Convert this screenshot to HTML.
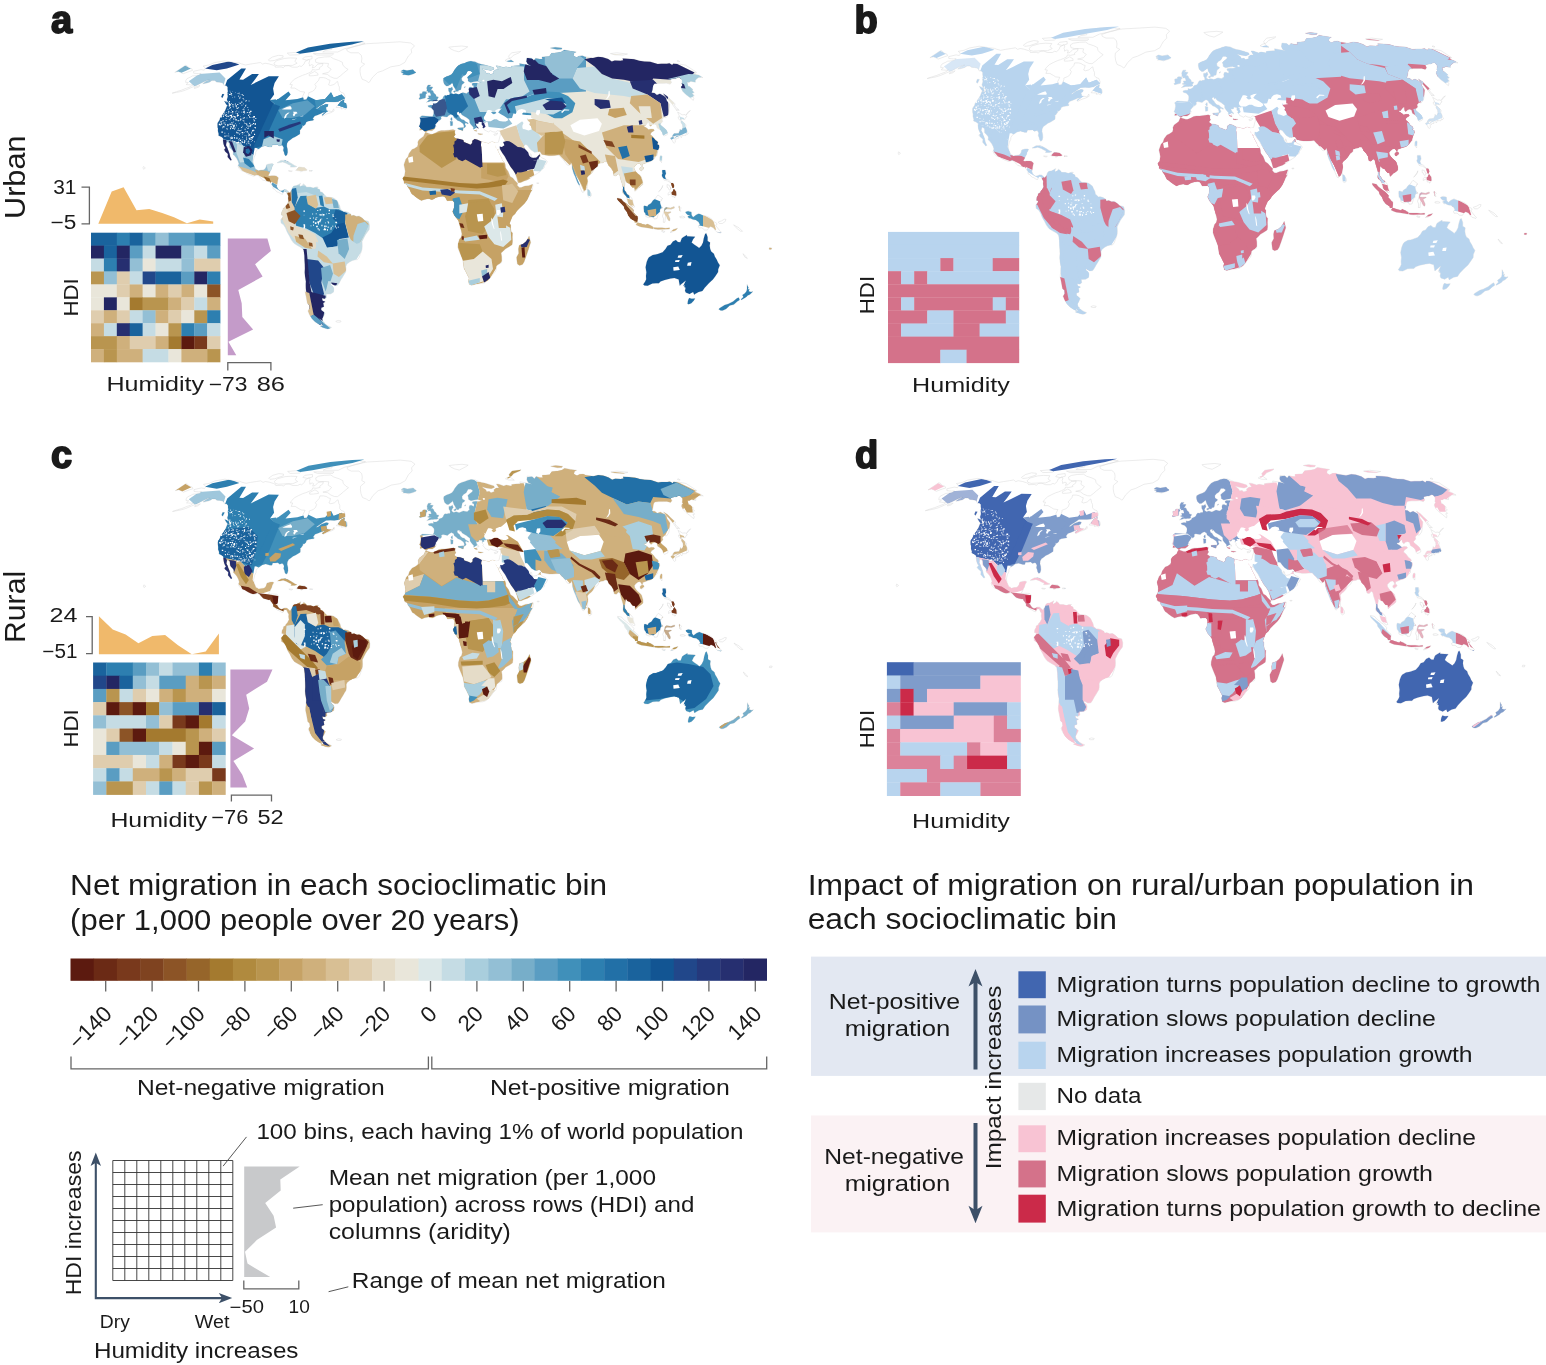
<!DOCTYPE html><html><head><meta charset="utf-8"><title>Figure</title><style>html,body{margin:0;padding:0;background:#fff}svg{display:block}</style></head><body>
<svg width="1546" height="1365" viewBox="0 0 1546 1365">
<defs><path id="lp" d="M-242.1 -138.8L-234.7 -140.5L-231.5 -139.9L-230.5 -141.4L-230.9 -142.7L-232.6 -144.0L-226.8 -145.1L-221.2 -147.5L-215.9 -148.4L-211.3 -149.2L-206.4 -148.4L-201.9 -147.6L-196.5 -147.1L-194.2 -146.2L-190.1 -145.1L-185.5 -146.0L-179.6 -146.9L-175.3 -147.6L-173.1 -146.0L-170.7 -146.9L-166.7 -146.2L-162.5 -144.9L-160.3 -143.6L-160.3 -142.9L-154.5 -143.1L-152.4 -142.3L-150.7 -144.2L-147.0 -144.4L-143.4 -142.9L-138.5 -142.9L-136.0 -144.2L-134.4 -143.6L-131.7 -146.0L-130.7 -148.7L-127.1 -150.5L-125.9 -149.6L-126.8 -146.9L-126.3 -145.8L-126.3 -144.2L-123.9 -145.5L-122.4 -144.7L-123.5 -142.3L-120.9 -142.9L-117.9 -146.0L-112.7 -146.6L-113.3 -144.4L-116.4 -142.3L-115.9 -141.0L-120.1 -140.1L-123.4 -140.5L-124.0 -138.6L-127.4 -136.9L-130.3 -135.7L-133.2 -134.8L-137.6 -132.8L-141.2 -130.9L-144.4 -127.9L-145.9 -125.6L-143.4 -125.4L-144.9 -122.0L-140.9 -122.0L-137.4 -119.9L-135.1 -118.5L-131.0 -118.1L-133.1 -113.8L-132.2 -111.7L-132.0 -110.3L-129.4 -110.7L-128.1 -112.8L-126.9 -115.9L-127.0 -117.3L-122.9 -118.9L-120.6 -120.9L-119.5 -124.0L-120.9 -125.6L-118.8 -127.9L-117.0 -129.9L-116.2 -132.5L-112.5 -132.5L-109.8 -131.9L-107.6 -130.5L-105.6 -129.9L-106.4 -127.0L-107.2 -125.4L-105.3 -124.6L-101.7 -125.6L-98.8 -128.3L-98.0 -128.5L-97.3 -125.0L-96.3 -123.0L-96.4 -119.9L-94.8 -117.9L-92.0 -116.9L-90.7 -113.8L-90.9 -111.7L-93.4 -110.7L-97.3 -108.6L-101.7 -108.0L-105.7 -108.2L-110.0 -108.0L-113.2 -105.9L-117.6 -103.0L-120.0 -101.1L-118.2 -101.3L-114.7 -104.2L-109.9 -105.9L-107.5 -105.5L-108.3 -103.4L-110.1 -102.7L-109.5 -101.3L-109.5 -99.6L-107.9 -99.2L-105.4 -98.9L-103.9 -98.3L-102.0 -101.3L-101.6 -99.2L-104.7 -97.5L-108.8 -96.2L-112.9 -94.1L-113.9 -94.9L-112.7 -96.4L-110.1 -97.7L-112.7 -97.5L-115.1 -96.4L-118.7 -94.9L-121.0 -94.1L-122.5 -92.1L-123.0 -91.1L-121.7 -90.7L-122.0 -90.0L-123.0 -89.6L-124.8 -89.4L-127.6 -88.9L-129.6 -87.9L-130.2 -85.9L-132.2 -84.2L-133.2 -84.9L-133.2 -83.1L-135.2 -80.3L-136.1 -79.9L-135.7 -79.5L-135.8 -76.2L-137.8 -74.9L-140.7 -73.2L-143.0 -72.1L-145.2 -70.4L-147.4 -68.9L-148.7 -66.5L-148.9 -63.9L-148.2 -61.1L-148.0 -57.9L-148.7 -55.1L-150.1 -54.2L-151.3 -55.9L-151.6 -57.7L-152.5 -59.8L-152.0 -62.4L-153.2 -64.6L-154.4 -64.8L-156.4 -64.1L-158.2 -65.7L-161.0 -65.4L-163.4 -65.4L-164.1 -63.1L-166.2 -63.1L-167.8 -63.7L-170.4 -64.4L-173.8 -63.5L-175.6 -62.2L-178.8 -60.0L-180.0 -57.9L-180.1 -55.9L-181.6 -52.9L-182.5 -48.6L-182.0 -45.4L-180.9 -42.8L-180.2 -41.0L-178.4 -40.2L-177.4 -39.3L-174.7 -40.0L-172.4 -40.2L-170.8 -41.0L-169.6 -43.2L-169.1 -45.4L-166.4 -46.2L-163.5 -46.4L-162.3 -45.8L-163.8 -43.2L-164.5 -40.6L-165.5 -38.9L-166.3 -36.7L-167.5 -34.6L-166.0 -34.1L-164.1 -34.3L-161.3 -34.3L-159.4 -34.1L-157.3 -32.4L-158.0 -29.2L-158.5 -25.9L-159.0 -23.8L-158.2 -22.0L-156.8 -20.1L-154.9 -19.2L-153.0 -19.7L-151.2 -20.5L-149.2 -20.3L-147.2 -18.6L-148.2 -15.6L-149.1 -17.3L-149.3 -18.1L-151.1 -19.2L-152.5 -17.7L-153.2 -15.8L-155.1 -16.4L-156.9 -17.7L-158.4 -18.1L-159.1 -18.4L-160.9 -20.7L-162.8 -21.6L-162.8 -23.8L-164.3 -25.9L-165.9 -27.9L-165.4 -28.7L-167.5 -28.5L-169.9 -29.2L-172.9 -30.0L-174.4 -31.3L-176.9 -34.3L-178.8 -35.0L-182.1 -33.9L-185.7 -35.2L-188.2 -36.3L-191.5 -38.4L-194.5 -39.5L-196.9 -42.1L-197.7 -44.1L-196.8 -46.4L-197.7 -49.2L-199.1 -51.8L-201.3 -54.6L-202.7 -55.7L-202.3 -58.3L-203.8 -60.3L-206.1 -62.6L-206.3 -67.0L-208.9 -68.5L-209.4 -67.0L-209.7 -64.8L-208.5 -62.6L-207.8 -60.5L-206.9 -58.3L-206.1 -56.2L-205.6 -53.6L-205.1 -52.3L-204.0 -50.1L-205.1 -49.5L-206.4 -51.2L-208.1 -53.1L-207.8 -56.2L-209.8 -57.9L-212.0 -60.0L-210.2 -62.0L-211.3 -63.7L-212.1 -65.9L-212.5 -68.5L-212.7 -70.2L-212.5 -71.7L-214.0 -73.0L-215.2 -73.7L-217.2 -74.5L-217.0 -76.2L-217.8 -79.0L-217.7 -81.6L-218.1 -82.7L-218.2 -85.3L-218.1 -87.2L-216.1 -90.2L-215.6 -92.4L-213.5 -94.9L-210.5 -99.6L-208.7 -104.2L-206.2 -103.8L-206.3 -102.3L-204.7 -105.5L-205.2 -106.1L-206.6 -107.6L-208.3 -109.2L-208.8 -110.7L-208.1 -112.8L-208.0 -114.8L-208.4 -116.9L-207.8 -118.9L-208.1 -120.9L-208.1 -123.0L-209.7 -124.6L-211.5 -124.4L-212.2 -126.0L-213.5 -127.4L-216.4 -127.9L-219.2 -128.1L-220.8 -129.5L-223.8 -129.5L-226.3 -127.9L-229.8 -126.8L-233.0 -126.4L-229.7 -128.9L-225.9 -130.3L-228.6 -129.9L-231.9 -128.3L-235.4 -126.6L-238.4 -125.0L-244.6 -122.4L-250.4 -119.9L-255.0 -118.5L-259.1 -117.7L-263.6 -116.9L-259.0 -118.5L-254.3 -119.9L-249.0 -122.0L-245.6 -123.2L-242.4 -125.4L-245.0 -125.2L-247.5 -125.4L-249.6 -125.6L-247.3 -127.6L-250.1 -127.8L-249.8 -129.9L-248.6 -131.5L-244.9 -133.2L-243.3 -134.2L-240.4 -134.4L-236.8 -135.0L-234.6 -136.7L-237.4 -136.5L-239.7 -136.7L-242.0 -136.9ZM-89.1 -160.9L-79.9 -164.3L-68.8 -166.4L-50.9 -167.4L-35.8 -168.3L-25.0 -167.1L-21.2 -164.3L-24.5 -160.6L-24.0 -157.3L-27.4 -154.0L-29.4 -150.5L-30.7 -147.8L-36.2 -144.7L-44.9 -143.3L-53.2 -139.2L-58.0 -137.7L-63.2 -132.8L-66.3 -127.9L-67.2 -127.6L-69.6 -129.3L-73.6 -130.9L-75.1 -134.8L-75.7 -138.6L-75.5 -142.3L-71.0 -146.0L-74.3 -147.8L-73.8 -151.4L-74.4 -154.8L-77.2 -157.3L-84.8 -157.3L-88.4 -159.0ZM-147.2 -18.6L-146.1 -17.3L-144.0 -20.3L-143.3 -22.7L-141.9 -24.0L-139.4 -24.4L-136.9 -25.7L-135.1 -26.8L-135.9 -25.3L-135.9 -23.3L-134.7 -23.8L-133.1 -24.8L-132.3 -26.3L-129.9 -24.2L-129.4 -22.9L-125.3 -22.9L-122.5 -22.0L-119.6 -23.1L-117.5 -23.1L-118.7 -21.6L-115.9 -20.5L-115.6 -18.4L-113.2 -17.7L-111.0 -14.9L-108.9 -13.0L-105.1 -12.7L-102.8 -12.3L-100.0 -10.8L-98.5 -9.3L-97.2 -6.5L-95.9 -3.9L-95.4 -1.1L-94.4 -0.4L-92.5 1.5L-90.6 1.3L-87.8 2.2L-84.9 3.9L-84.5 5.6L-82.0 5.2L-79.1 6.3L-76.3 6.0L-73.4 8.0L-70.9 10.4L-67.2 11.2L-66.2 15.3L-66.5 19.4L-68.9 22.7L-70.4 24.8L-72.0 27.9L-73.7 31.3L-73.5 35.6L-73.7 38.9L-74.6 42.3L-75.5 44.3L-76.6 47.5L-78.3 49.5L-80.5 49.7L-83.3 50.3L-86.1 51.8L-88.9 54.0L-89.8 56.2L-89.7 59.4L-90.1 62.0L-91.6 64.4L-93.1 67.0L-94.7 69.5L-96.5 72.8L-98.1 75.2L-101.1 75.4L-104.7 73.4L-105.2 74.7L-102.7 76.7L-101.9 78.6L-102.3 82.1L-105.2 83.8L-109.6 84.0L-109.1 87.4L-111.0 88.7L-113.8 88.1L-113.1 90.6L-110.3 91.7L-112.5 92.8L-111.8 96.6L-114.4 97.7L-114.5 99.8L-110.6 103.0L-112.2 106.5L-113.5 108.6L-112.9 110.9L-111.3 112.6L-113.0 112.8L-115.0 113.4L-114.2 115.4L-117.4 113.8L-120.7 111.7L-123.7 108.6L-126.3 104.4L-127.7 100.8L-126.1 98.1L-126.4 94.9L-128.3 93.4L-128.9 90.2L-129.6 86.4L-130.5 82.1L-130.5 79.9L-130.1 76.7L-129.8 71.3L-130.7 65.9L-131.0 62.6L-130.8 58.3L-130.9 54.0L-131.1 50.8L-131.3 45.4L-132.1 39.7L-134.6 37.4L-138.6 35.2L-142.0 33.0L-144.3 30.0L-146.1 26.1L-148.5 22.0L-150.2 17.7L-152.1 14.7L-154.6 13.0L-154.9 9.7L-153.1 7.3L-152.4 5.4L-154.3 5.0L-154.1 2.2L-152.8 0.0L-152.6 -1.7L-150.5 -2.8L-150.3 -3.9L-148.7 -5.6L-147.7 -7.6L-147.1 -8.6L-147.6 -11.9L-147.3 -14.0L-148.2 -15.6ZM-111.4 113.0L-114.3 113.4L-112.9 114.8L-113.2 115.9L-115.4 116.5L-111.5 117.9L-107.9 118.9L-105.8 118.3L-104.1 117.3L-106.6 116.3L-109.3 114.8L-110.5 113.6ZM-100.0 111.3L-97.6 110.3L-94.6 110.9L-95.3 112.1L-98.6 112.1ZM-10.6 -77.3L-9.5 -77.5L-5.4 -76.2L-3.6 -75.8L0.0 -77.3L2.7 -78.8L5.4 -79.5L8.9 -79.5L12.5 -79.9L16.0 -80.3L17.5 -80.6L18.4 -80.1L19.6 -79.9L19.0 -78.6L19.0 -77.1L19.8 -75.6L18.4 -73.9L18.2 -73.2L19.9 -71.9L20.8 -71.5L23.9 -71.1L27.6 -70.0L28.2 -68.0L32.0 -66.7L34.8 -65.4L36.5 -67.0L36.6 -69.3L39.0 -71.1L41.8 -70.4L45.5 -68.5L49.2 -67.6L53.0 -66.7L54.7 -67.8L56.5 -68.3L58.9 -67.6L59.5 -64.8L60.1 -62.6L61.7 -60.3L62.8 -57.9L64.2 -55.1L66.0 -51.8L66.5 -49.7L68.9 -47.5L69.6 -45.4L69.8 -42.3L72.4 -38.9L74.1 -34.6L74.5 -33.7L77.1 -32.0L78.9 -29.8L81.1 -27.6L82.0 -26.8L81.5 -24.8L83.5 -22.7L85.4 -22.5L89.2 -24.0L92.9 -24.4L96.3 -25.7L97.3 -25.5L97.0 -22.7L96.5 -20.1L94.7 -17.3L93.3 -14.0L91.5 -10.4L88.7 -6.5L86.4 -4.3L83.0 -1.1L81.1 0.9L79.2 3.9L76.8 6.0L75.7 8.6L74.7 10.8L73.9 13.6L75.0 14.9L74.9 18.4L75.6 21.6L76.9 22.9L76.7 27.0L76.9 31.3L76.4 34.6L73.4 36.7L69.6 38.9L67.6 41.0L65.4 43.0L66.0 46.4L66.1 50.8L65.6 52.9L62.1 54.6L60.6 56.2L60.5 59.4L59.6 62.0L56.8 64.6L54.7 67.6L51.7 70.8L48.8 72.8L46.4 73.4L42.4 73.7L39.7 74.1L36.0 75.2L33.4 74.1L33.2 73.2L32.7 70.6L33.4 68.0L31.7 64.8L30.3 61.8L28.3 58.3L27.8 54.0L27.0 49.5L25.3 45.4L23.5 41.0L22.2 37.4L22.3 34.1L23.7 29.2L25.6 26.8L26.2 23.8L25.1 19.0L23.4 13.2L22.9 10.8L21.3 8.6L18.7 5.4L17.2 2.2L16.8 1.5L17.9 -0.6L18.5 -3.2L18.7 -6.5L18.1 -8.4L17.0 -9.7L15.8 -9.7L13.3 -9.5L11.4 -9.3L10.1 -11.9L8.6 -13.6L6.5 -13.8L2.3 -13.2L0.0 -12.3L-1.9 -11.2L-3.8 -10.4L-6.1 -11.0L-7.6 -11.4L-11.4 -10.6L-14.3 -9.5L-17.1 -11.2L-20.6 -13.6L-21.9 -14.9L-23.8 -16.0L-25.1 -18.4L-26.0 -20.5L-28.1 -23.3L-28.8 -25.5L-31.6 -26.8L-31.8 -29.2L-33.1 -31.7L-31.1 -34.6L-30.5 -38.9L-31.0 -41.9L-31.8 -45.4L-29.8 -51.2L-27.7 -53.3L-26.7 -56.6L-24.3 -59.8L-23.8 -60.5L-21.2 -61.6L-18.3 -63.7L-17.7 -65.9L-17.9 -68.0L-16.7 -70.4L-13.7 -72.6L-12.1 -73.9ZM93.4 25.9L95.0 32.4L93.9 35.6L92.9 38.9L90.7 45.4L88.4 51.8L86.8 54.4L83.8 55.3L81.7 54.0L81.1 49.7L80.9 47.1L83.0 43.2L82.7 38.9L83.5 35.2L87.2 33.9L90.3 31.3L92.4 28.1ZM-10.0 -77.7L-7.9 -79.3L-3.7 -79.3L-1.2 -81.2L0.4 -83.6L-0.5 -85.3L1.6 -87.9L3.8 -89.4L5.6 -91.3L5.2 -93.2L6.9 -93.8L9.3 -93.4L11.4 -93.0L12.9 -94.5L15.3 -95.8L17.6 -94.7L18.2 -92.6L20.3 -91.1L21.8 -89.6L23.9 -88.9L25.0 -88.1L27.4 -86.4L28.3 -84.2L27.9 -82.1L29.3 -82.7L30.2 -84.2L29.2 -85.7L29.8 -87.4L32.4 -86.1L32.5 -87.0L29.7 -88.5L28.2 -90.2L26.1 -90.6L24.2 -92.4L23.3 -94.1L21.5 -95.3L21.0 -97.7L23.3 -98.5L23.8 -96.6L24.7 -97.7L26.1 -95.3L28.5 -93.8L30.3 -92.8L32.1 -91.5L33.8 -90.2L34.0 -87.4L35.2 -85.7L36.6 -84.0L37.8 -82.7L37.5 -81.6L38.6 -79.5L40.2 -78.8L41.3 -78.8L40.6 -81.0L41.7 -81.8L42.7 -81.4L42.5 -82.7L40.6 -84.2L40.4 -85.3L39.7 -87.2L41.3 -86.4L42.7 -86.8L42.7 -88.3L45.5 -88.1L46.8 -87.4L46.0 -86.6L46.2 -85.3L47.4 -83.8L46.8 -82.7L48.4 -81.0L48.9 -79.9L50.4 -79.3L52.8 -78.2L54.6 -79.5L57.3 -78.2L60.0 -78.0L61.8 -79.5L64.0 -79.0L64.7 -77.7L64.6 -75.6L64.5 -74.3L64.1 -73.2L63.5 -70.8L63.1 -69.1L62.4 -67.6L60.2 -67.2L58.9 -67.6L59.5 -64.8L60.7 -61.6L63.0 -60.0L63.6 -61.8L64.0 -63.7L64.5 -60.5L66.6 -57.2L69.1 -53.6L71.2 -49.7L73.1 -46.4L75.0 -43.2L77.4 -40.0L79.7 -36.3L81.0 -32.4L82.0 -28.7L82.4 -27.4L85.2 -27.6L88.0 -28.9L91.7 -30.2L95.4 -32.4L98.5 -34.6L101.7 -36.7L104.4 -38.4L106.1 -40.6L108.4 -42.1L108.6 -44.3L110.0 -45.4L111.6 -48.6L109.1 -51.0L106.0 -52.3L104.7 -53.8L104.2 -56.6L103.8 -55.7L102.6 -54.6L100.9 -52.9L97.6 -52.3L95.9 -52.9L95.6 -55.7L94.6 -56.4L94.3 -54.0L93.0 -55.7L92.6 -57.5L91.4 -59.0L89.5 -61.1L88.1 -63.5L88.8 -64.8L89.6 -65.7L91.5 -65.0L93.3 -62.6L95.5 -60.0L98.9 -57.9L102.2 -58.3L104.3 -58.5L106.2 -55.7L109.0 -55.1L113.2 -54.4L116.0 -54.4L119.7 -54.6L123.3 -54.9L124.4 -53.6L126.2 -51.6L127.0 -51.2L129.2 -48.2L131.5 -45.1L132.9 -44.7L135.0 -45.8L135.5 -47.9L136.2 -45.4L136.7 -41.0L138.0 -36.7L139.5 -33.3L141.6 -27.9L143.8 -24.2L144.9 -21.4L146.4 -18.1L147.5 -17.5L148.6 -19.2L150.1 -20.1L151.5 -22.2L151.5 -25.5L152.0 -28.3L151.3 -32.4L152.8 -34.3L155.1 -36.1L157.1 -38.4L159.5 -41.7L162.0 -43.6L162.7 -46.0L164.8 -47.1L167.2 -47.3L168.9 -48.4L171.3 -48.2L172.7 -44.9L175.4 -42.1L177.3 -38.9L178.1 -34.6L180.2 -34.1L182.4 -36.3L184.0 -35.2L184.8 -31.3L186.2 -27.0L187.4 -22.7L186.9 -18.4L187.2 -16.8L189.4 -15.1L191.0 -13.0L191.3 -10.8L192.1 -8.2L193.4 -6.0L195.5 -4.3L197.4 -2.8L199.0 -3.2L197.9 -5.6L197.1 -8.2L196.8 -10.8L194.8 -13.4L193.2 -14.9L191.4 -15.8L190.1 -18.4L188.7 -20.1L188.5 -22.7L189.2 -25.5L189.3 -28.9L190.2 -29.2L191.3 -27.4L193.9 -26.3L195.4 -24.2L196.7 -22.7L198.8 -22.5L199.2 -18.8L200.5 -19.9L202.6 -22.2L203.7 -22.7L205.5 -24.0L207.0 -25.5L207.0 -28.1L206.5 -30.2L205.4 -33.3L204.1 -34.8L201.9 -36.7L200.3 -38.4L198.6 -40.8L198.3 -42.8L199.7 -44.7L201.9 -46.4L203.7 -46.7L205.2 -45.4L205.4 -44.1L206.6 -43.8L206.6 -45.8L208.9 -46.7L211.9 -47.9L213.3 -48.2L215.4 -49.0L217.4 -50.3L219.5 -52.9L221.6 -55.1L221.6 -57.2L222.6 -60.5L223.6 -62.6L223.4 -64.8L221.2 -66.1L222.5 -67.0L221.6 -68.7L219.6 -70.2L217.2 -73.4L214.6 -75.6L215.5 -77.7L218.6 -79.7L217.9 -80.8L215.2 -81.2L212.9 -80.3L210.9 -82.1L208.3 -83.6L207.9 -84.6L210.0 -84.9L211.9 -87.4L213.3 -88.3L213.6 -85.3L214.9 -83.8L216.7 -85.5L218.7 -86.1L220.7 -85.3L221.6 -82.1L225.1 -79.9L226.6 -77.7L227.3 -75.2L228.2 -74.1L230.2 -74.7L231.9 -75.8L231.8 -77.7L230.4 -80.3L227.8 -82.7L225.0 -84.9L224.5 -86.1L225.9 -87.4L226.9 -88.5L226.2 -90.6L227.0 -91.3L228.1 -93.0L230.4 -92.4L232.6 -95.5L233.2 -98.1L233.5 -101.9L233.9 -105.5L231.0 -109.7L230.4 -112.1L228.3 -114.2L224.2 -116.3L221.2 -115.2L218.7 -117.1L215.9 -117.3L216.8 -120.3L217.1 -122.6L217.5 -124.6L218.7 -126.4L222.9 -126.8L227.5 -126.8L230.8 -127.0L234.5 -126.0L235.8 -127.6L234.7 -129.9L235.3 -130.9L238.1 -131.5L240.0 -131.5L242.4 -132.8L244.1 -132.7L246.3 -129.9L246.4 -128.3L246.1 -126.0L246.9 -125.0L245.7 -123.6L245.5 -122.0L247.0 -118.9L249.9 -115.9L253.9 -112.8L257.6 -109.7L258.1 -111.7L256.8 -113.8L258.6 -114.2L256.3 -116.9L258.5 -117.5L255.8 -120.3L257.4 -120.3L253.9 -123.6L252.4 -123.8L251.9 -126.0L251.3 -127.8L253.4 -127.9L255.2 -128.9L259.6 -127.9L259.6 -129.9L261.3 -131.5L263.2 -132.8L267.2 -132.5L264.3 -134.2L258.6 -136.7L259.5 -137.1L260.9 -137.7L250.0 -144.9L244.1 -146.0L237.5 -146.7L236.5 -145.1L233.8 -146.9L231.2 -146.4L225.7 -146.4L222.0 -146.0L214.5 -148.4L208.6 -148.7L203.5 -149.4L198.8 -150.8L192.7 -151.4L186.9 -151.7L187.5 -149.8L184.6 -149.4L179.0 -149.6L176.1 -148.7L172.5 -151.0L167.0 -152.8L162.4 -153.3L157.1 -152.2L149.1 -153.4L146.8 -154.3L143.3 -154.0L140.9 -152.6L137.7 -154.3L138.3 -157.0L140.6 -158.1L134.5 -159.0L128.4 -160.1L125.5 -158.1L121.5 -157.3L115.7 -156.8L113.6 -153.6L106.2 -153.1L106.6 -151.0L103.9 -151.0L99.9 -151.9L98.3 -149.6L96.0 -151.9L91.1 -152.2L90.7 -148.7L92.1 -146.0L95.6 -144.2L90.0 -145.5L83.8 -146.6L84.1 -144.7L79.4 -144.4L75.5 -143.8L75.5 -142.3L70.2 -143.3L67.7 -142.5L62.8 -144.2L60.3 -144.4L62.8 -140.5L60.0 -140.3L57.7 -138.6L58.2 -136.9L54.9 -135.7L53.1 -137.1L50.7 -136.7L49.7 -138.6L47.1 -140.5L46.1 -141.6L49.9 -140.5L55.2 -139.7L58.4 -140.9L57.8 -142.5L53.1 -144.0L48.5 -145.3L45.6 -145.8L42.5 -146.9L39.4 -148.4L34.9 -148.9L31.3 -148.0L28.8 -146.9L25.5 -146.0L22.3 -144.4L20.5 -142.3L18.6 -139.9L17.4 -137.7L15.8 -135.7L13.3 -134.4L10.4 -133.4L7.8 -131.9L7.5 -129.9L7.9 -127.9L8.5 -126.0L10.5 -124.2L11.0 -124.0L12.4 -124.0L14.6 -125.6L16.2 -127.0L16.3 -127.8L17.2 -126.0L17.8 -124.0L18.8 -122.4L20.1 -119.9L20.6 -118.7L22.7 -118.9L22.9 -119.9L25.2 -120.3L25.7 -123.0L26.2 -125.4L28.3 -127.0L28.8 -127.9L26.2 -129.5L25.9 -131.9L27.4 -133.8L30.1 -135.6L31.2 -137.7L32.0 -139.2L34.8 -139.2L36.8 -137.7L35.5 -136.1L33.2 -134.4L31.7 -132.8L32.4 -130.5L32.3 -129.1L34.3 -127.9L35.1 -127.6L38.0 -128.3L41.7 -128.9L44.9 -127.9L46.1 -127.8L42.9 -127.0L39.8 -127.2L37.5 -127.0L36.1 -126.4L36.7 -124.6L37.9 -124.6L37.9 -123.0L37.6 -122.0L35.2 -123.2L33.5 -122.8L33.0 -120.9L33.4 -118.5L31.9 -117.7L31.2 -116.7L29.8 -116.9L27.1 -117.5L23.0 -115.7L20.0 -116.7L17.7 -115.9L16.0 -116.9L15.5 -117.9L16.3 -119.9L17.2 -120.7L16.4 -123.0L16.5 -123.4L14.9 -122.2L12.8 -122.0L12.8 -119.9L13.0 -118.9L13.9 -117.7L14.1 -115.9L13.7 -115.0L11.6 -115.0L11.3 -114.4L8.9 -114.6L7.8 -113.6L7.0 -111.7L5.7 -110.5L4.1 -109.9L3.0 -109.4L2.5 -108.0L0.2 -106.5L-2.0 -106.3L-2.7 -106.9L-2.7 -104.8L-5.0 -105.1L-7.9 -104.4L-7.2 -103.0L-4.7 -102.3L-3.7 -101.7L-2.0 -99.6L-1.9 -98.1L-2.1 -96.0L-3.1 -93.6L-6.6 -93.8L-10.0 -94.1L-13.8 -94.3L-16.1 -92.6L-15.3 -90.6L-15.2 -88.9L-15.9 -85.3L-16.8 -83.6L-15.6 -82.9L-16.1 -79.9L-13.2 -80.3L-11.3 -78.8ZM-260.9 -137.7L-257.4 -138.6L-255.1 -137.7L-252.6 -136.3L-246.5 -138.6L-243.1 -139.7L-244.0 -141.4L-246.9 -142.3L-248.4 -144.2L-250.0 -144.9ZM-9.4 -107.8L-6.9 -108.4L-4.9 -109.0L-3.1 -108.8L-1.6 -109.2L0.5 -109.2L2.3 -109.9L1.1 -110.7L2.0 -111.3L2.8 -113.2L0.5 -113.6L0.3 -114.8L-0.3 -115.9L-1.9 -117.1L-2.5 -118.9L-3.5 -119.9L-5.1 -119.9L-4.1 -120.9L-2.8 -123.0L-5.4 -123.4L-6.5 -123.0L-4.8 -125.2L-7.7 -125.2L-8.6 -123.6L-9.1 -122.0L-8.7 -120.5L-9.1 -118.7L-7.6 -119.1L-8.0 -117.5L-5.7 -117.7L-5.4 -116.5L-4.8 -115.4L-5.0 -114.4L-7.4 -114.4L-7.1 -113.4L-6.7 -112.4L-8.7 -111.5L-6.9 -110.9L-4.4 -110.7L-6.9 -110.1L-8.4 -108.4ZM-10.0 -114.4L-10.4 -112.1L-13.6 -111.3L-16.1 -110.7L-16.8 -111.7L-15.6 -113.0L-16.0 -114.6L-16.0 -116.3L-13.6 -116.7L-13.2 -118.3L-11.7 -118.7L-9.5 -118.3L-8.8 -116.9L-10.0 -115.7ZM-32.1 -140.3L-28.7 -139.5L-22.8 -140.5L-21.0 -138.6L-19.7 -137.7L-21.9 -136.3L-27.3 -134.6L-30.8 -135.4L-33.3 -135.4L-32.1 -136.5L-34.8 -137.5L-31.8 -138.4L-35.0 -138.8L-32.9 -140.1ZM246.1 -89.4L250.3 -85.3L250.0 -82.7L251.3 -79.9L252.0 -77.7L252.7 -77.1L251.6 -75.6L250.7 -76.7L250.2 -74.7L249.0 -74.7L246.8 -74.7L246.2 -75.6L246.2 -74.1L245.7 -72.4L243.6 -74.7L241.3 -74.9L239.0 -74.1L236.6 -73.4L236.9 -74.7L238.3 -76.5L240.5 -76.7L243.1 -76.9L243.4 -78.2L244.1 -79.3L244.3 -81.0L245.1 -79.5L246.6 -80.8L247.1 -82.5L246.8 -85.3L245.4 -87.4L245.2 -88.9ZM240.7 -70.8L241.6 -72.1L243.0 -71.9L243.2 -73.4L241.6 -74.3L240.2 -73.4L239.5 -72.6ZM236.5 -73.2L238.2 -72.6L239.4 -70.8L239.6 -67.8L238.6 -67.0L237.5 -67.6L236.6 -69.8L235.5 -70.6L234.7 -72.1L235.8 -72.6ZM244.1 -89.8L245.8 -90.2L244.6 -91.7L249.1 -90.6L250.0 -92.8L251.3 -93.4L249.5 -95.5L246.5 -95.3L241.9 -98.1L242.8 -96.0L244.0 -93.4L242.4 -93.2L242.7 -91.7ZM227.5 -116.5L231.5 -113.8L234.7 -110.7L239.6 -106.1L238.4 -105.5L240.4 -102.3L242.7 -100.8L243.4 -99.6L241.1 -100.6L241.3 -99.2L239.1 -102.3L236.9 -105.5L233.4 -109.7L230.3 -112.8L228.7 -114.8ZM225.4 -54.6L226.4 -53.6L226.2 -51.8L225.8 -47.5L223.9 -49.7L223.8 -51.8L224.6 -54.0ZM203.9 -41.7L205.2 -43.2L207.0 -43.4L208.1 -42.3L207.5 -40.6L205.8 -39.3L204.2 -40.0ZM151.8 -21.2L153.5 -20.1L154.4 -18.4L155.6 -16.2L155.5 -14.0L153.5 -12.7L152.3 -13.6L151.8 -16.2L151.9 -18.4ZM226.6 -40.0L229.6 -40.0L230.3 -36.7L229.2 -34.1L230.0 -31.3L232.6 -30.2L234.8 -28.1L235.1 -27.2L233.5 -28.1L231.8 -29.2L229.9 -29.6L228.3 -30.0L227.9 -31.3L226.5 -33.5L225.9 -35.0L226.8 -36.3L226.5 -38.4ZM238.2 -21.2L240.5 -18.4L240.8 -15.1L239.9 -13.6L238.8 -12.1L238.6 -13.4L236.5 -13.4L236.0 -15.6L234.8 -16.2L232.4 -14.9L232.5 -16.8L233.9 -18.4L235.4 -17.7L237.1 -18.6L237.5 -19.9ZM235.5 -27.0L237.4 -27.0L238.5 -24.2L237.7 -22.0L237.0 -22.0L236.0 -24.4ZM231.3 -25.5L233.6 -24.8L234.4 -22.7L235.4 -22.0L234.3 -19.9L233.1 -20.5L232.3 -22.7L231.4 -22.7L231.4 -24.4ZM222.8 -18.4L225.1 -20.5L226.8 -23.3L227.0 -24.6L226.3 -22.5L223.9 -19.0ZM208.1 -4.1L209.0 -4.3L211.7 -3.5L212.5 -5.2L215.4 -6.9L217.2 -9.7L219.6 -11.4L220.9 -13.6L222.3 -15.1L224.1 -13.8L227.1 -11.4L225.2 -10.4L226.0 -9.5L224.3 -8.6L224.6 -6.5L225.0 -5.0L227.0 -2.2L224.9 -1.7L224.2 0.0L224.2 2.2L222.8 2.8L222.2 5.4L221.5 7.6L221.1 8.6L218.4 8.9L217.9 7.3L215.4 6.9L213.1 7.6L210.1 6.5L209.8 3.7L208.3 1.7L208.0 -0.6L207.9 -2.2ZM181.5 -12.1L185.7 -11.2L187.4 -8.9L190.5 -6.5L192.4 -4.8L194.2 -3.7L196.5 -1.5L197.8 0.0L197.4 2.2L199.3 3.9L199.9 5.0L202.1 6.5L202.0 8.6L201.5 12.5L199.2 12.5L198.7 10.8L195.0 8.6L192.6 5.4L191.3 1.9L188.9 -1.1L188.3 -3.7L185.9 -6.0L184.0 -8.0L181.8 -10.4ZM200.2 14.7L201.9 12.7L203.8 13.0L206.6 14.0L210.3 14.9L211.3 13.8L214.5 15.1L217.6 16.8L217.7 18.8L213.9 18.1L209.2 17.3L205.4 16.8L202.7 15.8ZM218.0 17.5L221.6 17.7L226.3 17.7L230.1 18.1L233.9 17.7L233.8 19.0L228.1 19.2L222.4 19.4L218.6 19.0ZM226.1 20.5L229.4 21.4L228.2 22.2L226.0 21.4ZM234.5 22.2L237.6 19.4L241.9 18.1L240.4 19.9L236.4 22.0ZM230.4 -2.8L234.7 -2.2L238.4 -3.5L238.8 -2.2L235.6 -0.9L230.8 -1.1L229.3 0.0L229.1 1.7L231.8 1.9L235.2 1.7L235.4 2.2L232.3 3.9L233.6 6.9L234.4 8.6L234.0 10.8L232.8 10.4L231.6 8.6L230.7 6.0L229.8 6.5L229.4 9.7L229.3 12.1L227.6 12.1L227.8 8.6L226.7 6.0L228.0 2.2L228.6 0.0L228.9 -1.7ZM243.2 -4.3L244.5 -3.2L245.5 -2.2L244.6 -0.6L245.2 1.3L243.8 0.6L243.6 -1.7L243.0 -2.6ZM244.1 6.5L246.9 6.0L249.4 7.1L247.8 7.8L244.4 7.6ZM249.7 1.9L252.8 0.9L255.6 1.7L255.9 5.0L257.4 7.1L260.3 4.8L263.2 3.5L267.0 5.2L269.8 5.8L273.6 7.3L276.3 9.3L277.7 11.4L280.9 13.0L281.3 14.5L279.8 15.1L281.5 17.3L284.0 20.5L285.7 22.2L284.7 22.9L281.0 21.8L279.7 20.5L277.7 17.7L274.9 16.4L272.9 17.9L271.7 19.9L268.9 19.9L266.2 17.7L263.4 17.9L262.6 15.8L264.2 14.7L262.9 11.9L260.1 9.9L257.3 9.5L254.5 8.2L253.1 8.6L251.7 6.3L254.6 5.2L252.1 4.8L249.9 3.0ZM282.5 11.9L285.8 10.8L288.7 9.1L290.3 9.3L289.5 11.4L286.6 13.4L283.7 13.4ZM270.5 23.1L271.9 27.0L271.9 30.9L274.4 32.4L274.0 35.6L274.5 38.9L275.5 41.5L278.2 43.6L279.1 46.4L281.1 49.7L282.3 52.3L284.1 55.1L282.5 59.2L282.4 62.0L279.8 65.9L277.2 69.5L273.4 73.0L269.0 77.7L266.7 81.0L262.9 81.8L258.4 84.4L257.4 81.8L253.8 83.8L250.1 82.5L249.3 80.6L249.9 77.7L248.5 76.9L249.3 75.2L247.6 76.0L250.2 70.4L245.1 74.5L244.1 75.6L243.3 71.3L243.0 69.3L238.7 68.0L234.9 68.5L229.0 69.8L224.8 71.3L223.1 73.2L220.2 73.2L216.7 73.4L212.0 75.6L208.7 75.4L207.5 74.3L209.5 71.3L210.5 69.1L210.3 65.9L210.7 62.2L209.9 57.2L211.0 51.8L212.3 48.6L213.3 47.1L217.1 44.9L220.0 44.5L222.1 43.8L226.9 42.1L229.8 38.9L231.8 35.6L234.8 34.6L237.2 31.3L240.2 30.0L242.2 32.0L244.6 32.2L246.1 28.1L247.8 26.8L251.3 24.8L251.3 26.1L255.8 26.3L259.4 26.6L257.4 29.2L255.9 32.4L258.4 34.3L261.8 36.7L263.4 38.0L265.7 35.6L267.3 32.4L268.1 28.1L269.4 23.8ZM253.5 87.9L256.1 88.7L259.4 88.3L258.0 90.6L255.6 93.2L253.1 94.1L251.9 93.8L252.1 91.7L252.6 89.6ZM311.4 74.3L311.7 75.6L312.8 77.3L312.0 79.5L313.7 78.8L313.0 81.2L315.3 81.8L317.3 81.4L314.2 84.4L312.0 85.3L310.6 87.0L305.6 89.8L305.3 89.1L307.7 86.8L306.7 84.9L309.3 83.1L310.9 81.0L311.3 78.8L311.3 76.0ZM302.9 87.4L303.5 88.5L303.9 89.8L301.5 91.5L298.1 94.5L294.1 95.5L290.3 98.9L287.0 100.4L285.0 100.4L283.0 99.2L283.8 98.1L289.0 94.9L292.4 93.8L297.4 91.3L300.9 88.5ZM-158.6 -47.3L-154.7 -49.7L-151.0 -49.9L-147.4 -48.4L-144.8 -46.9L-141.3 -44.7L-139.0 -43.6L-141.5 -43.0L-145.3 -43.0L-144.5 -44.5L-146.8 -45.4L-149.5 -46.9L-153.0 -48.2L-155.9 -47.5ZM-140.0 -39.7L-136.8 -43.0L-134.4 -42.8L-131.2 -42.5L-128.5 -40.2L-129.7 -39.5L-132.5 -39.3L-134.9 -38.2L-136.3 -39.3ZM-147.2 -39.5L-143.4 -39.1L-144.6 -38.4L-147.0 -38.9ZM-126.3 -39.7L-123.5 -39.5L-123.7 -38.9L-126.4 -38.9ZM-99.7 -102.7L-94.9 -108.6L-91.4 -110.7L-91.9 -107.6L-89.4 -106.5L-88.7 -104.4L-88.7 -102.3L-90.5 -100.6L-91.9 -101.7L-94.6 -101.1L-94.2 -102.5L-97.6 -102.5ZM-211.4 -109.0L-207.5 -108.0L-206.6 -104.4L-208.3 -104.4L-209.7 -106.1ZM-98.7 -131.7L-95.1 -134.4L-92.5 -136.7L-87.6 -140.7L-90.3 -142.3L-92.9 -145.1L-93.3 -147.8L-96.9 -149.6L-102.3 -151.4L-105.3 -153.4L-111.5 -153.1L-117.5 -152.2L-120.4 -150.5L-119.9 -147.8L-116.5 -146.9L-111.1 -146.9L-107.2 -146.6L-108.0 -143.3L-104.5 -141.0L-107.3 -137.7L-113.2 -136.3L-108.4 -135.7L-105.3 -133.4L-101.6 -131.9ZM-160.9 -145.1L-157.7 -144.2L-150.3 -144.6L-143.2 -144.7L-138.5 -146.9L-140.9 -148.7L-139.0 -151.9L-145.2 -152.2L-151.1 -151.7L-158.8 -149.6L-161.8 -146.9ZM-167.4 -150.3L-166.2 -149.1L-161.5 -149.6L-152.8 -152.6L-152.6 -154.3L-157.2 -154.8L-163.3 -153.1ZM-113.0 -158.1L-97.9 -158.1L-91.1 -161.4L-77.6 -164.3L-70.6 -166.9L-78.9 -167.7L-90.5 -167.4L-104.1 -165.7L-104.0 -162.9L-104.1 -160.6L-109.9 -159.8ZM-122.4 -156.5L-102.0 -156.5L-103.3 -155.0L-118.8 -155.0ZM-148.5 -157.0L-138.5 -157.8L-135.1 -156.5L-136.5 -155.3L-146.0 -155.0ZM-131.2 -153.1L-123.7 -154.0L-123.6 -151.4L-128.9 -150.0L-133.2 -151.0ZM-111.7 -164.3L-103.8 -164.1L-105.7 -161.4L-112.3 -160.9L-114.7 -162.9ZM-126.7 -135.7L-121.1 -138.6L-118.0 -136.7L-117.6 -135.0L-122.4 -134.4L-126.3 -134.2ZM13.1 -162.9L19.0 -163.6L26.0 -164.1L32.1 -163.3L29.2 -161.4L23.2 -158.3L18.6 -159.5L14.6 -161.4ZM69.3 -149.6L72.6 -148.4L78.2 -148.2L73.8 -151.4L72.9 -154.0L75.9 -157.3L85.0 -158.6L83.5 -157.3L77.6 -154.8L75.3 -152.2L71.3 -151.0ZM114.5 -162.1L119.5 -162.9L126.5 -162.1L125.8 -160.9L121.3 -160.6ZM174.7 -156.5L180.9 -157.3L191.8 -156.1L187.3 -155.0L179.0 -155.3ZM241.2 -149.1L242.3 -149.6L244.1 -148.5L243.0 -148.4ZM22.0 -82.1L27.7 -82.7L27.1 -79.3L22.2 -81.2ZM14.3 -88.9L17.0 -88.5L16.9 -84.6L14.8 -84.2L14.6 -87.4ZM14.9 -91.5L16.3 -92.8L16.5 -90.2L16.1 -89.4L15.0 -90.4ZM42.2 -76.7L47.3 -76.0L44.6 -75.4L42.2 -76.0ZM58.1 -75.8L62.0 -77.1L61.2 -75.4L58.7 -74.7ZM-292.2 -43.6L-290.3 -42.1L-292.1 -40.8L-292.7 -42.3ZM17.5 -118.5L19.9 -119.9L19.9 -118.3L18.8 -117.5ZM28.3 -122.4L29.5 -123.8L29.4 -122.6ZM-241.3 -122.6L-235.7 -124.6L-237.5 -122.8L-241.3 -121.6ZM-213.4 -116.1L-211.5 -115.9L-213.4 -112.1L-214.5 -113.4ZM250.3 -94.9L252.3 -98.1L254.6 -99.6L252.8 -97.5ZM307.2 43.6L310.3 46.4L311.6 48.4L309.2 47.1ZM333.7 37.6L336.1 37.8L335.5 39.3L333.3 39.1ZM297.9 14.7L303.3 17.7L306.8 21.2L304.9 21.2L300.5 17.7ZM101.0 -27.2L103.2 -27.2L102.9 -26.6L101.2 -26.6Z"/><path id="wp" d="M50.7 -88.9L55.0 -88.9L58.3 -90.6L61.2 -90.6L63.7 -89.1L67.3 -88.5L70.0 -88.5L72.5 -89.8L72.0 -91.7L68.4 -94.1L65.2 -95.8L63.3 -97.0L62.5 -97.7L64.4 -100.2L66.1 -101.7L63.3 -101.3L59.7 -99.8L59.6 -98.5L60.7 -97.0L58.3 -95.8L57.2 -96.2L55.4 -97.9L56.9 -99.2L54.2 -100.2L52.0 -100.2L50.7 -97.7L49.4 -94.9L48.2 -93.2L48.1 -91.5L49.0 -90.0ZM47.4 -87.4L51.3 -88.1L50.7 -88.7L48.1 -88.5ZM80.9 -98.3L83.0 -100.4L86.2 -101.1L89.8 -100.2L90.5 -97.7L87.6 -97.5L86.3 -96.0L88.5 -93.2L90.9 -92.4L92.1 -89.6L94.4 -87.4L93.4 -85.3L95.2 -83.8L95.8 -80.6L92.8 -79.5L89.0 -80.8L87.2 -81.2L86.6 -83.1L86.8 -84.9L87.8 -87.0L86.6 -88.5L84.4 -90.6L82.2 -92.8L81.7 -94.9L80.0 -96.2ZM100.0 -96.0L100.9 -99.8L104.2 -100.2L104.3 -97.0L102.5 -94.5ZM-153.8 -100.9L-149.0 -103.0L-145.4 -104.1L-144.0 -102.2L-144.4 -100.6L-147.6 -100.6L-151.9 -100.7ZM-151.7 -91.4L-149.6 -92.6L-149.0 -94.8L-146.1 -97.5L-147.9 -97.4L-150.2 -95.6L-151.3 -93.3ZM-142.9 -98.3L-139.3 -98.3L-138.1 -96.8L-140.2 -96.0L-141.2 -94.1L-142.2 -93.8L-142.9 -95.3L-141.9 -97.1ZM-143.9 -90.3L-138.8 -91.7L-141.3 -90.6L-143.1 -90.0ZM-136.3 -93.6L-132.3 -94.7L-132.5 -93.9L-134.9 -93.6ZM61.1 -0.0L64.3 -0.0L64.7 2.2L63.3 4.8L61.3 5.0L60.9 3.1ZM-159.3 -113.7L-158.1 -113.7L-159.1 -110.2L-159.7 -110.2L-160.0 -111.8ZM125.3 -98.1L128.5 -100.8L133.8 -100.4L133.2 -99.6L129.0 -99.6L126.5 -97.0ZM169.8 -110.7L172.1 -111.7L174.2 -114.8L173.9 -119.3L172.9 -118.9L172.6 -114.8L171.1 -112.1ZM47.0 -128.6L49.0 -128.9L48.4 -130.3L46.6 -130.1ZM55.9 7.3L56.8 9.7L57.5 14.0L58.9 18.8L58.0 18.6L56.2 14.0L55.5 9.7ZM64.6 20.7L65.6 23.8L66.2 29.2L66.5 30.9L65.4 30.2L64.8 25.9L64.4 21.6Z"/><path id="sp" d="M-205.2 -98.2h1.1v0.5h-1.1zM-197.1 -90.0h0.5v1.0h-0.5zM-216.1 -87.4h0.5v0.5h-0.5zM-201.4 -72.4h0.5v0.6h-0.5zM-193.7 -67.8h1.0v0.8h-1.0zM-184.9 -92.9h0.6v0.5h-0.6zM-205.8 -72.8h0.6v1.0h-0.6zM-193.2 -89.7h1.0v0.5h-1.0zM-215.3 -96.1h1.1v0.9h-1.1zM-205.6 -81.6h0.9v0.7h-0.9zM-187.3 -77.3h0.7v1.0h-0.7zM-197.5 -70.6h1.2v0.7h-1.2zM-201.6 -75.1h0.6v0.9h-0.6zM-188.4 -82.1h1.4v0.7h-1.4zM-191.1 -81.3h1.0v0.9h-1.0zM-199.5 -78.6h0.5v1.2h-0.5zM-186.2 -93.1h0.8v1.1h-0.8zM-216.7 -86.3h0.6v0.5h-0.6zM-212.6 -94.5h0.8v1.4h-0.8zM-214.5 -86.8h1.0v1.4h-1.0zM-186.3 -71.0h0.7v0.9h-0.7zM-203.9 -70.2h1.5v0.6h-1.5zM-210.8 -95.1h0.7v0.9h-0.7zM-195.1 -93.9h0.4v0.9h-0.4zM-203.5 -82.3h1.4v1.2h-1.4zM-197.9 -80.4h1.1v0.5h-1.1zM-183.3 -74.2h1.4v1.3h-1.4zM-202.6 -88.7h0.5v1.1h-0.5zM-209.6 -97.7h0.8v0.5h-0.8zM-213.7 -90.1h0.4v1.4h-0.4zM-194.2 -98.3h0.7v0.8h-0.7zM-203.7 -99.2h1.3v1.5h-1.3zM-199.8 -85.5h0.5v0.5h-0.5zM-204.5 -93.8h1.3v0.6h-1.3zM-197.4 -98.3h1.0v0.4h-1.0zM-184.7 -77.4h0.7v0.8h-0.7zM-211.2 -74.5h1.0v1.3h-1.0zM-205.0 -95.4h1.3v1.5h-1.3zM-185.1 -73.2h1.3v1.2h-1.3zM-208.9 -84.2h0.8v0.4h-0.8zM-216.5 -93.3h0.7v1.2h-0.7zM-181.1 -86.9h1.4v1.5h-1.4zM-181.2 -90.0h0.6v0.6h-0.6zM-210.1 -96.1h1.1v1.4h-1.1zM-185.5 -85.6h1.1v1.3h-1.1zM-214.3 -78.7h1.4v1.3h-1.4zM-189.0 -85.7h0.6v1.3h-0.6zM-204.9 -73.4h1.5v0.8h-1.5zM-189.9 -97.4h0.5v0.6h-0.5zM-204.2 -83.0h0.5v0.4h-0.5zM-197.5 -68.3h0.9v1.4h-0.9zM-186.1 -95.9h0.7v0.7h-0.7zM-208.4 -81.6h0.7v0.9h-0.7zM-204.1 -86.5h1.0v1.4h-1.0zM-201.5 -68.9h1.0v1.0h-1.0zM-197.6 -103.2h0.9v0.6h-0.9zM-211.0 -85.9h1.2v1.0h-1.2zM-205.1 -84.2h1.0v1.3h-1.0zM-213.5 -82.6h0.7v0.7h-0.7zM-188.1 -84.6h1.0v1.2h-1.0zM-182.8 -87.0h1.1v1.0h-1.1zM-198.0 -77.5h0.9v1.0h-0.9zM-199.3 -68.0h1.2v1.4h-1.2zM-181.7 -94.0h1.0v1.4h-1.0zM-185.6 -98.7h0.5v0.9h-0.5zM-214.8 -94.7h0.5v1.1h-0.5zM-187.7 -69.7h0.6v1.2h-0.6zM-192.4 -98.5h1.4v1.5h-1.4zM-202.4 -85.3h1.5v1.3h-1.5zM-211.4 -87.5h1.0v0.8h-1.0zM-210.1 -91.8h1.2v0.4h-1.2zM-196.5 -87.1h0.4v0.8h-0.4zM-193.8 -84.4h0.5v1.5h-0.5zM-187.5 -66.9h0.5v0.7h-0.5zM-207.3 -99.0h0.9v1.4h-0.9zM-186.4 -94.1h0.6v1.4h-0.6zM-195.8 -77.2h0.5v0.5h-0.5zM-191.3 -87.7h0.5v1.4h-0.5zM-193.4 -73.4h0.5v1.3h-0.5zM-200.3 -91.0h1.0v1.4h-1.0zM-207.4 -99.0h1.0v0.7h-1.0zM-213.4 -97.8h0.5v0.6h-0.5zM-205.7 -92.3h1.2v0.7h-1.2zM-198.5 -97.1h0.8v0.4h-0.8zM-189.6 -82.9h0.6v0.9h-0.6zM-186.4 -87.4h0.9v1.3h-0.9zM-202.6 -84.6h1.2v1.5h-1.2zM-204.5 -72.2h1.2v1.1h-1.2zM-202.1 -90.7h0.5v0.5h-0.5zM-207.8 -97.7h0.5v1.3h-0.5zM-184.4 -78.4h0.7v0.7h-0.7zM-206.4 -86.4h0.6v0.9h-0.6zM-180.5 -83.1h0.7v1.5h-0.7zM-205.8 -90.3h0.4v0.8h-0.4zM-199.5 -84.8h0.6v1.0h-0.6zM-214.1 -88.7h0.4v0.4h-0.4zM-206.0 -95.0h1.0v1.0h-1.0zM-189.0 -78.9h1.2v1.4h-1.2zM-202.7 -91.5h1.5v0.6h-1.5zM-190.0 -79.4h0.4v1.3h-0.4zM-183.6 -80.0h1.2v1.3h-1.2zM-212.3 -84.0h1.0v1.3h-1.0zM-186.9 -72.4h1.0v1.4h-1.0zM-191.5 -77.5h0.7v0.4h-0.7zM-212.5 -90.2h0.5v1.3h-0.5zM-196.3 -80.0h1.1v1.1h-1.1zM-187.2 -75.4h1.0v1.0h-1.0zM-192.4 -101.4h1.2v0.7h-1.2zM-214.7 -93.8h1.2v0.6h-1.2zM-189.4 -66.7h0.9v0.8h-0.9zM-199.3 -77.9h1.2v1.1h-1.2zM-193.1 -101.0h0.6v0.7h-0.6zM-189.2 -92.3h1.0v0.4h-1.0zM-215.2 -93.7h1.1v1.2h-1.1zM-191.8 -92.8h1.0v0.9h-1.0zM-199.8 -99.4h1.4v0.6h-1.4zM-216.9 -86.4h1.3v1.5h-1.3zM-200.4 -93.7h0.6v1.4h-0.6zM-209.5 -81.8h0.6v1.0h-0.6zM-186.3 -84.5h1.4v1.2h-1.4zM-199.0 -103.0h0.4v0.9h-0.4zM-200.4 -92.4h0.6v0.8h-0.6zM-205.5 -71.9h0.4v1.2h-0.4zM-185.6 -99.3h1.4v1.2h-1.4zM-183.2 -92.9h0.8v0.8h-0.8zM-203.8 -87.6h0.7v0.5h-0.7zM-208.1 -93.8h1.0v0.6h-1.0zM-183.9 -73.0h1.1v1.4h-1.1zM-181.7 -83.0h1.2v0.5h-1.2zM-189.7 -86.7h1.2v1.1h-1.2zM-206.7 -102.0h1.4v0.5h-1.4zM-199.6 -90.8h0.7v1.2h-0.7zM-192.6 -92.4h1.0v0.8h-1.0zM-211.2 -97.8h0.6v1.4h-0.6zM-198.6 -95.5h1.4v1.5h-1.4zM-200.4 -98.6h0.6v0.5h-0.6zM-204.5 -100.4h0.7v0.7h-0.7zM-195.9 -70.1h1.2v0.9h-1.2zM-201.8 -83.9h0.8v0.8h-0.8zM-215.2 -93.3h1.5v0.5h-1.5zM-198.4 -79.9h1.3v0.6h-1.3zM-207.2 -94.4h0.8v0.9h-0.8zM-183.4 -85.9h1.0v0.4h-1.0zM-186.1 -71.3h1.5v0.7h-1.5zM-213.4 -98.0h1.0v1.2h-1.0zM-181.7 -76.4h1.1v1.2h-1.1zM-200.1 -82.9h0.4v1.3h-0.4zM-193.0 -92.3h0.5v0.7h-0.5zM-193.3 -77.3h0.5v0.5h-0.5zM-197.6 -81.7h0.8v0.6h-0.8zM-206.1 -86.4h1.5v1.1h-1.5zM-183.9 -85.8h0.7v0.7h-0.7zM-205.8 -103.1h0.9v1.1h-0.9zM-201.6 -94.1h1.1v1.4h-1.1zM-204.7 -87.9h1.2v0.6h-1.2zM-187.2 -75.8h1.0v0.6h-1.0zM-180.6 -92.0h1.3v0.7h-1.3zM-209.1 -74.9h0.7v1.4h-0.7zM-198.7 -96.8h0.6v0.9h-0.6zM-192.2 -67.8h0.6v0.8h-0.6zM-215.3 -88.9h1.4v1.4h-1.4zM-182.1 -91.4h0.6v1.4h-0.6zM-192.2 -89.5h0.8v0.8h-0.8zM-206.9 -90.5h1.5v0.5h-1.5zM-204.0 -72.6h1.3v0.9h-1.3zM-215.7 -85.9h0.8v1.4h-0.8zM-210.2 -90.0h1.4v0.4h-1.4zM-201.9 -73.0h1.2v0.4h-1.2zM-182.5 -94.1h1.2v1.4h-1.2zM-204.6 -93.5h1.5v1.1h-1.5zM-207.6 -76.6h0.7v0.7h-0.7zM-182.6 -79.8h1.4v0.4h-1.4zM-208.6 -85.8h1.5v1.4h-1.5zM-202.8 -94.3h0.9v0.9h-0.9zM-187.0 -75.8h1.3v1.3h-1.3zM-194.4 -91.4h0.8v0.8h-0.8zM-187.8 -100.9h0.6v1.2h-0.6zM-208.1 -101.4h0.4v1.0h-0.4zM-207.5 -100.7h0.5v0.9h-0.5zM-190.5 -86.9h0.7v0.9h-0.7zM-193.9 -78.2h1.2v1.3h-1.2zM-192.2 -99.3h1.3v0.7h-1.3zM-196.0 -89.7h1.2v0.6h-1.2zM-208.1 -94.6h0.6v1.4h-0.6zM-195.5 -91.5h0.8v1.5h-0.8zM-198.2 -95.1h1.3v1.1h-1.3zM-199.5 -72.7h1.3v1.4h-1.3zM-216.0 -92.7h0.5v0.6h-0.5zM-182.1 -89.7h1.4v0.9h-1.4zM-207.7 -74.3h1.4v0.5h-1.4zM-194.8 -80.3h0.6v0.8h-0.6zM-212.2 -96.1h0.7v1.1h-0.7zM-192.7 -96.2h0.4v0.8h-0.4zM-191.7 -96.9h0.7v0.6h-0.7zM-187.3 -83.0h0.5v0.5h-0.5zM-202.5 -83.0h1.1v0.5h-1.1zM-211.3 -77.4h0.9v0.7h-0.9zM-205.7 -82.3h0.8v0.9h-0.8zM-203.7 -96.4h1.2v0.6h-1.2zM-201.4 -72.7h0.8v1.4h-0.8zM-200.0 -97.7h0.4v1.0h-0.4zM-193.2 -69.3h0.5v1.1h-0.5zM-203.4 -84.7h0.6v0.7h-0.6zM-197.7 -68.7h0.5v0.9h-0.5zM-186.9 -67.1h0.6v0.5h-0.6zM-199.2 -101.9h1.4v0.8h-1.4zM-183.1 -80.3h1.3v0.6h-1.3zM-187.6 -95.4h0.8v1.3h-0.8zM-186.0 -96.9h0.6v0.8h-0.6zM-197.8 -89.3h0.5v0.7h-0.5zM-189.9 -69.7h0.4v1.0h-0.4zM-188.7 -102.5h1.3v0.5h-1.3zM-194.7 -83.0h1.1v0.7h-1.1zM-201.6 -81.7h0.9v1.1h-0.9zM-200.5 -87.2h0.4v1.1h-0.4zM-198.9 -94.9h1.2v1.3h-1.2zM-200.1 -97.1h0.9v0.5h-0.9zM-212.7 -87.5h0.5v0.9h-0.5zM-198.1 -102.4h1.1v0.5h-1.1zM-189.6 -74.3h1.0v0.5h-1.0zM-198.4 -89.5h1.4v0.5h-1.4zM-189.7 -72.9h0.6v1.5h-0.6zM-198.8 -67.5h1.4v0.6h-1.4zM-187.5 -68.5h0.5v0.8h-0.5zM-188.8 -97.9h1.4v0.7h-1.4zM-186.5 -98.4h1.0v1.4h-1.0zM-209.6 -93.9h1.0v0.8h-1.0zM-216.2 -97.0h0.6v1.4h-0.6zM-191.7 -69.8h0.6v1.3h-0.6zM-213.2 -83.7h1.1v0.8h-1.1zM-190.0 -110.1h0.9v1.2h-0.9zM-196.0 -113.4h1.1v0.6h-1.1zM-187.0 -109.6h0.7v1.1h-0.7zM-200.7 -117.9h1.1v0.4h-1.1zM-197.1 -107.9h0.7v0.4h-0.7zM-196.4 -112.6h0.9v1.2h-0.9zM-208.4 -116.8h1.0v0.4h-1.0zM-209.0 -114.2h0.6v0.9h-0.6zM-197.0 -117.3h1.0v0.8h-1.0zM-205.6 -118.4h0.5v1.0h-0.5zM-190.0 -105.4h0.8v0.6h-0.8zM-197.7 -114.3h1.0v0.8h-1.0zM-210.6 -110.6h0.8v0.6h-0.8zM-211.4 -110.2h1.2v0.5h-1.2zM-206.7 -109.0h0.9v1.0h-0.9zM-204.0 -115.3h0.4v1.2h-0.4zM-192.2 -106.8h0.4v1.2h-0.4zM-193.1 -111.9h1.1v0.8h-1.1zM-206.1 -119.3h0.6v0.4h-0.6zM-203.3 -106.1h1.0v1.2h-1.0zM-194.0 -116.0h0.9v0.8h-0.9zM-192.1 -110.8h0.6v1.0h-0.6zM-205.2 -116.6h1.1v1.3h-1.1zM-193.1 -114.8h1.2v0.7h-1.2zM-196.0 -107.3h1.0v1.3h-1.0zM-200.0 -104.3h1.0v1.2h-1.0zM-200.8 -106.6h0.9v0.7h-0.9zM-206.4 -108.7h0.5v1.2h-0.5zM-203.1 -118.6h0.4v0.4h-0.4zM-194.4 -108.5h1.0v1.1h-1.0zM-210.1 -109.4h0.7v1.1h-0.7zM-191.3 -103.2h0.5v1.2h-0.5zM-209.0 -117.3h0.5v0.4h-0.5zM-190.6 -104.8h1.0v1.1h-1.0zM-196.0 -115.6h0.5v0.5h-0.5zM-203.7 -112.8h0.4v0.6h-0.4zM-204.7 -106.8h0.7v0.7h-0.7zM-190.5 -108.8h0.4v0.8h-0.4zM-200.8 -105.6h0.7v1.0h-0.7zM-198.3 -117.0h1.2v0.5h-1.2zM-192.7 -101.4h0.4v0.8h-0.4zM-199.5 -105.1h0.6v0.8h-0.6zM-203.0 -104.4h0.6v1.2h-0.6zM-204.6 -117.1h1.0v0.8h-1.0zM-209.0 -108.4h0.5v1.1h-0.5zM-194.3 -105.3h1.0v0.7h-1.0zM-201.7 -113.4h1.2v0.5h-1.2zM-206.6 -116.1h1.2v0.9h-1.2zM-202.2 -103.4h0.6v0.8h-0.6zM-198.5 -106.0h1.1v1.0h-1.1zM-192.4 -77.7h0.5v0.9h-0.5zM-186.9 -68.6h0.5v0.7h-0.5zM-184.9 -72.1h0.5v0.7h-0.5zM-182.9 -79.6h0.5v0.6h-0.5zM-186.1 -66.3h0.5v0.5h-0.5zM-194.2 -77.7h0.7v0.5h-0.7zM-181.4 -68.8h0.5v1.0h-0.5zM-196.7 -76.4h1.0v0.9h-1.0zM-185.6 -75.3h0.5v0.8h-0.5zM-191.5 -67.5h0.8v0.7h-0.8zM-187.4 -74.7h0.5v0.8h-0.5zM-191.4 -68.6h0.9v0.7h-0.9zM-188.4 -68.4h0.7v0.5h-0.7zM-185.8 -65.5h0.9v0.8h-0.9zM-183.5 -69.9h0.8v0.7h-0.8zM-193.0 -71.1h0.5v0.7h-0.5zM-184.8 -69.2h0.8v0.6h-0.8zM-191.1 -74.9h0.8v0.6h-0.8zM-195.3 -70.5h0.9v0.6h-0.9zM-189.9 -63.4h0.4v0.7h-0.4zM-195.7 -67.7h1.0v0.7h-1.0zM-196.7 -72.2h0.7v0.8h-0.7zM-189.5 -70.8h0.9v0.7h-0.9zM-191.3 -64.0h0.5v0.8h-0.5zM-191.6 -68.1h0.5v1.0h-0.5zM-193.7 -76.1h0.4v0.7h-0.4zM-191.1 -69.5h0.6v0.6h-0.6zM-194.6 -68.6h1.0v0.7h-1.0zM-194.7 -67.2h0.6v0.5h-0.6zM-184.3 -70.9h0.7v0.7h-0.7zM-120.8 12.2h1.6v1.6h-1.6zM-116.6 4.4h1.2v0.7h-1.2zM-103.2 5.8h1.6v0.8h-1.6zM-120.0 3.5h1.1v0.7h-1.1zM-123.5 3.3h0.9v1.1h-0.9zM-118.1 12.2h1.4v1.0h-1.4zM-99.7 17.1h0.6v1.6h-0.6zM-100.6 15.5h0.7v1.6h-0.7zM-109.7 3.4h0.6v0.7h-0.6zM-125.2 15.4h1.0v0.7h-1.0zM-100.6 15.7h0.7v1.7h-0.7zM-111.5 15.5h1.4v1.7h-1.4zM-104.9 16.8h0.8v1.4h-0.8zM-114.3 14.6h1.1v1.6h-1.1zM-113.4 3.7h0.8v0.7h-0.8zM-115.7 -0.9h1.1v0.7h-1.1zM-115.8 9.1h1.2v1.6h-1.2zM-116.6 10.5h1.4v1.6h-1.4zM-120.0 7.3h1.7v0.6h-1.7zM-110.4 12.2h0.5v1.3h-0.5zM-108.8 18.9h0.9v1.8h-0.9zM-115.1 8.7h1.7v0.5h-1.7zM-107.5 11.9h0.9v1.6h-0.9zM-120.4 8.5h1.2v1.5h-1.2zM-126.0 7.6h1.0v1.2h-1.0zM-103.5 4.4h1.6v1.0h-1.6zM-115.3 3.9h1.2v1.8h-1.2zM-109.8 15.7h0.9v0.9h-0.9zM-122.8 11.1h1.3v1.5h-1.3zM-132.3 14.2h1.7v1.2h-1.7zM-131.9 4.6h0.5v0.7h-0.5zM-100.0 11.6h1.4v1.5h-1.4zM-100.4 11.6h1.3v1.3h-1.3zM-108.3 11.3h1.4v0.8h-1.4zM-109.3 8.1h1.5v0.6h-1.5zM-105.4 18.5h1.4v1.0h-1.4zM-103.6 15.6h1.2v0.8h-1.2zM-122.7 7.3h0.9v1.1h-0.9zM-110.3 18.9h0.6v1.2h-0.6zM-132.3 0.4h1.6v1.2h-1.6zM-100.1 7.9h0.5v1.0h-0.5zM-112.1 19.0h1.8v1.1h-1.8zM-118.7 0.1h1.3v0.8h-1.3zM-107.4 3.2h1.5v0.7h-1.5zM-131.9 15.3h1.4v1.6h-1.4zM-107.0 -0.3h1.3v1.4h-1.3zM-116.9 18.9h0.8v1.8h-0.8zM-122.4 14.3h0.7v1.6h-0.7zM-116.0 -0.9h1.0v1.2h-1.0zM-117.7 13.1h0.7v1.5h-0.7zM-120.5 12.4h1.3v1.0h-1.3zM-119.6 15.6h1.7v1.5h-1.7zM-113.0 4.4h0.6v1.8h-0.6zM-108.0 16.5h0.9v1.3h-0.9zM-98.0 16.6h1.3v0.9h-1.3zM-118.1 17.9h1.0v1.4h-1.0zM-111.7 18.1h1.5v0.9h-1.5zM-118.3 11.1h1.6v1.7h-1.6zM-132.2 16.7h1.6v1.6h-1.6zM-112.8 4.0h1.6v1.5h-1.6z"/><clipPath id="land"><use href="#lp"/></clipPath></defs>
<rect width="1546" height="1365" fill="#fff"/>
<g transform="translate(435.7 210.1)">
<use href="#lp" fill="#fff" stroke="#d9d9d9" stroke-width="0.5"/>
<g clip-path="url(#land)">
<path d="M-35.0 -80.5L20.6 -83.4L52.9 -77.5L71.9 -48.2L98.3 -29.2L82.2 19.9L16.2 19.9L13.3 -7.2L-20.4 -7.2L-35.0 -33.6Z" fill="#cfb07c"/><path d="M8.9 -20.1L96.8 -20.1L82.2 9.2L77.8 38.5L61.7 56.1L52.9 70.7L33.8 76.6L20.6 38.5L23.6 23.9L13.3 -5.4Z" fill="#c6a265"/><path d="M-33.6 -30.4L-5.7 -27.1L23.6 -23.6L52.9 -22.7L74.8 -26.3L79.2 -4.3L52.9 -4.3L16.2 -7.2L-20.4 -6.9L-33.6 -24.8Z" fill="#c6a265"/><path d="M126.7 -71.7L164.8 -77.5L188.2 -84.9L217.5 -84.9L224.8 -62.9L217.5 -48.2L205.8 -39.4L208.7 -18.9L188.2 -11.6L173.6 -33.6L161.8 -48.2L148.7 -17.5L135.5 -48.2Z" fill="#cfb07c"/><path d="M122.3 -118.6L150.1 -118.6L161.8 -111.2L144.3 -103.9L136.9 -98.0L125.2 -92.2L115.0 -98.0Z" fill="#c5dce4"/><path d="M100.3 -168.4L144.3 -158.1L173.6 -156.7L232.2 -150.8L265.9 -134.7L246.8 -118.6L232.2 -98.0L226.3 -86.3L224.8 -62.9L217.5 -48.2L205.8 -39.4L208.7 -18.9L188.2 -11.6L173.6 -33.6L161.8 -48.2L148.7 -17.5L135.5 -48.2L100.3 -54.1Z" fill="#e9e6da"/><path d="M-260.8 -138.8L-251.3 -144.9L-244.7 -141.7L-254.2 -137.3Z" fill="#77aec9"/><path d="M-246.9 -128.8L-236.6 -136.1L-216.1 -137.6L-210.2 -131.7L-213.2 -121.5L-226.3 -127.4L-241.0 -123.7Z" fill="#5a9dc2" fill-opacity="0.55"/><path d="M-230.7 -141.7L-223.4 -145.2L-205.8 -148.9L-196.3 -145.7L-208.8 -141.7L-219.0 -139.8Z" fill="#21478a"/><path d="M-215.4 -111.2L-213.2 -118.6L-211.4 -122.2L-208.5 -130.0L-194.4 -141.7L-189.7 -141.7L-196.3 -130.6L-192.6 -130.3L-183.6 -136.1L-176.8 -136.1L-180.9 -130.3L-185.0 -125.2L-178.0 -128.5L-167.0 -133.9L-156.8 -133.8L-161.1 -127.1L-162.6 -121.5L-161.6 -115.6L-165.5 -110.1L-161.1 -106.1L-180.9 -62.9L-182.4 -54.8L-188.3 -60.0L-195.6 -67.3L-201.4 -68.5L-213.9 -70.9L-224.9 -77.5L-226.3 -92.2L-219.0 -111.2Z" fill="#125593"/><path d="M-161.1 -106.1L-165.5 -110.1L-157.5 -111.2L-147.2 -118.6L-145.0 -115.6L-150.2 -109.8L-138.4 -111.2L-128.2 -114.2L-119.4 -109.8L-110.6 -111.2L-104.7 -117.8L-102.1 -112.7L-94.2 -115.6L-89.8 -111.2L-88.9 -101.7L-98.9 -105.1L-109.1 -98.0L-113.5 -94.4L-128.2 -77.5L-142.8 -62.9L-147.2 -48.2L-154.6 -51.2L-154.6 -62.9L-172.1 -58.5L-180.9 -62.9Z" fill="#2d7fb0"/><path d="M-162.5 -106.4L-155.7 -103.9L-173.6 -64.1L-180.9 -62.0L-182.4 -62.9Z" fill="#1a639d"/><path d="M-157.5 -100.2L-142.8 -106.8L-128.2 -109.8L-120.9 -103.9L-131.1 -95.1L-142.8 -92.2L-153.1 -92.2Z" fill="#5a9dc2"/><path d="M-120.9 -109.8L-110.6 -111.2L-104.7 -117.8L-102.1 -112.7L-94.2 -115.6L-89.8 -111.2L-88.9 -101.7L-98.9 -105.1L-109.1 -98.0L-119.4 -101.0Z" fill="#4090ba"/><path d="M-172.1 -70.9L-163.3 -74.3L-153.1 -70.9L-154.3 -64.1L-166.3 -62.6L-173.6 -64.1Z" fill="#a9cedd"/><path d="M-157.5 -81.2L-145.8 -85.6L-135.5 -88.5L-134.8 -86.3L-144.3 -82.7L-156.0 -78.3Z" fill="#25397c"/><path d="M-171.4 -79.0L-161.9 -79.0L-161.9 -71.7L-167.0 -74.6L-171.4 -72.4Z" fill="#232663"/><path d="M-159.2 -70.9L-155.7 -70.5L-156.3 -68.0L-158.9 -68.5Z" fill="#232663"/><path d="M-216.1 -71.7L-201.4 -68.5L-195.6 -67.3L-188.3 -60.0L-182.4 -54.8L-183.1 -48.2L-179.5 -42.4L-172.1 -43.8L-160.4 -48.2L-158.9 -39.4L-172.1 -35.0L-180.9 -35.0L-192.6 -39.4L-201.4 -48.2L-210.2 -62.9Z" fill="#93bfd5"/><path d="M-198.5 -66.5L-192.6 -64.3L-190.5 -48.2L-195.6 -47.5L-199.2 -57.0Z" fill="#c5dce4"/><path d="M-214.6 -70.9L-209.5 -70.2L-202.9 -49.0L-208.0 -49.0Z" fill="#232663"/><path d="M-207.0 -69.0L-203.6 -68.7L-199.7 -58.2L-202.0 -57.6Z" fill="#232663"/><path d="M-191.9 -62.9L-186.8 -64.3L-183.1 -60.0L-184.6 -54.8L-189.7 -53.4L-192.6 -57.8Z" fill="#232663"/><path d="M-190.0 -61.1L-186.8 -61.7L-185.3 -58.5L-187.5 -55.9L-190.0 -57.3Z" fill="#2270a7"/><path d="M-192.6 -52.6L-186.8 -51.2L-180.9 -43.8L-185.3 -42.4L-191.2 -46.8Z" fill="#2d7fb0"/><path d="M-197.0 -43.8L-186.8 -40.9L-175.1 -35.8L-180.9 -34.3L-192.6 -38.7Z" fill="#d8bf94"/><path d="M-169.9 -47.5L-158.9 -47.5L-158.9 -38.7L-167.7 -39.4Z" fill="#c5dce4"/><path d="M-180.9 -40.2L-169.2 -39.4L-157.5 -33.6L-153.1 -26.3L-157.5 -24.8L-166.3 -29.2L-178.0 -35.0Z" fill="#cfb07c"/><path d="M-172.1 -33.6L-166.3 -32.1L-164.5 -27.4L-168.9 -28.9Z" fill="#96652a"/><path d="M-163.3 -27.7L-148.7 -19.7L-150.9 -16.3L-164.8 -24.5Z" fill="#5a9dc2"/><path d="M-158.9 -51.2L-134.0 -45.3L-134.0 -39.4L-158.9 -45.3Z" fill="#c5dce4"/><path d="M-139.2 -44.6L-126.0 -43.1L-126.0 -38.7L-139.2 -39.4Z" fill="#e5dcc8"/><path d="M-123.8 -41.6L-119.4 -41.6L-119.4 -38.7L-123.8 -38.7Z" fill="#5a9dc2"/><path d="M-151.3 -24.2L-138.2 -27.2L-111.8 -21.3L-94.2 -5.2L-63.4 13.9L-70.8 35.8L-88.3 63.7L-97.1 81.3L-105.9 122.3L-123.5 116.4L-135.2 43.2L-157.2 10.9L-152.8 -12.5Z" fill="#c5dce4"/><path d="M-150.6 -16.2L-144.0 -19.8L-141.1 -11.1L-135.2 2.1L-141.1 13.9L-149.9 12.4L-155.7 8.0Z" fill="#dfcdae"/><path d="M-154.3 -0.8L-149.2 -2.3L-141.1 15.3L-129.4 19.7L-120.6 24.1L-117.6 31.4L-120.6 38.8L-129.4 37.3L-138.2 32.9L-147.0 22.6L-152.8 10.9Z" fill="#e5dcc8"/><path d="M-144.0 -25.7L-117.6 -22.0L-111.1 -15.4L-117.6 -13.7L-129.4 -18.1L-141.1 -16.6Z" fill="#a9cedd"/><path d="M-144.3 -21.3L-139.6 -22.0L-137.9 -12.5L-141.1 -2.3L-144.0 -8.1Z" fill="#2270a7"/><path d="M-148.4 -17.2L-145.2 -17.8L-144.6 -9.6L-147.5 -8.1Z" fill="#8c5426"/><path d="M-150.9 -5.9L-147.0 -6.7L-145.5 -2.3L-149.2 -1.2Z" fill="#8c5426"/><path d="M-141.1 -3.0L-135.2 -14.0L-129.1 -14.3L-127.6 -6.7L-120.6 -2.0L-111.8 -3.7L-105.9 -0.8L-97.1 -0.8L-88.3 3.6L-91.0 12.4L-87.6 26.3L-97.1 28.8L-105.9 30.3L-111.8 28.8L-120.6 22.9L-129.4 18.5L-139.6 15.6L-141.1 8.0Z" fill="#2d7fb0"/><path d="M-129.4 -13.7L-119.8 -15.4L-117.4 -5.2L-119.7 -1.4L-127.9 -5.8Z" fill="#d8bf94"/><path d="M-116.9 -14.0L-113.3 -14.7L-111.5 -3.4L-115.3 -4.9Z" fill="#2d7fb0"/><path d="M-111.8 -12.5L-104.2 -13.3L-102.7 -6.7L-110.0 -5.8Z" fill="#d8bf94"/><path d="M-103.7 -11.1L-98.3 -9.6L-96.8 -2.0L-102.1 -2.0Z" fill="#77aec9"/><path d="M-113.3 27.3L-104.5 22.9L-98.6 13.9L-91.0 11.7L-86.9 27.3L-96.8 28.8L-98.3 36.1L-108.6 37.6Z" fill="#125593"/><path d="M-100.1 -0.5L-88.3 3.0L-91.0 12.4L-97.1 13.9L-103.0 8.3Z" fill="#1a639d"/><path d="M-149.2 2.9L-141.1 -0.1L-135.2 5.8L-140.8 14.1L-147.0 11.2Z" fill="#8c5426"/><path d="M-141.1 25.6L-130.8 28.5L-123.5 38.8L-130.8 37.6L-139.6 31.7Z" fill="#cfb07c"/><path d="M-137.4 24.1L-133.0 24.8L-131.6 29.2L-136.0 28.5Z" fill="#8c5426"/><path d="M-145.5 16.1L-141.8 17.5L-142.6 20.4L-145.2 19.7Z" fill="#8c5426"/><path d="M-127.2 32.2L-123.5 32.9L-122.8 36.6L-126.4 35.8Z" fill="#8c5426"/><path d="M-90.5 4.3L-82.5 3.6L-73.7 7.3L-67.1 13.9L-70.8 22.6L-75.2 31.4L-82.5 34.4L-86.9 25.6L-90.5 12.4Z" fill="#cfb07c"/><path d="M-78.1 13.9L-70.8 11.7L-67.1 15.3L-71.9 25.6L-76.3 32.9L-82.5 34.7L-82.2 25.6Z" fill="#a9cedd"/><path d="M-119.8 31.4L-108.9 37.6L-97.1 36.1L-86.9 28.5L-78.1 34.4L-79.3 46.1L-91.0 52.2L-102.7 52.2L-111.8 46.4L-119.1 40.5Z" fill="#c5dce4"/><path d="M-98.6 30.0L-88.3 28.5L-86.6 38.8L-91.0 49.0L-97.1 43.2Z" fill="#77aec9"/><path d="M-103.0 53.4L-91.0 51.4L-89.5 60.7L-96.8 66.9L-102.1 63.7Z" fill="#d8bf94"/><path d="M-117.6 40.5L-108.9 46.4L-102.7 53.7L-111.8 52.2L-118.2 46.4Z" fill="#d8bf94"/><path d="M-129.4 49.0L-117.6 50.5L-111.5 57.8L-114.4 72.5L-111.5 84.5L-120.6 87.4L-126.4 72.5Z" fill="#21478a"/><path d="M-133.5 38.8L-129.1 38.8L-126.1 72.5L-120.3 101.8L-111.5 115.2L-116.2 115.2L-126.4 101.8L-130.8 72.5Z" fill="#232663"/><path d="M-126.4 81.3L-110.0 85.7L-111.5 101.8L-113.0 110.9L-120.6 105.0L-125.0 90.3Z" fill="#232663"/><path d="M-131.1 81.3L-126.4 83.0L-122.0 105.0L-126.4 106.5L-129.7 94.4Z" fill="#d8bf94"/><path d="M-126.7 106.5L-121.8 104.7L-105.6 118.2L-110.0 121.4L-122.0 115.2Z" fill="#5a9dc2"/><path d="M-114.7 57.8L-105.6 54.9L-102.7 63.7L-105.6 72.5L-110.0 81.5L-113.3 72.5Z" fill="#77aec9"/><path d="M-107.4 71.0L-98.3 72.5L-101.2 81.5L-110.3 83.0Z" fill="#c5dce4"/><path d="M-104.5 72.5L-98.3 73.2L-99.8 75.7L-103.7 74.8Z" fill="#232663"/><path d="M-16.3 -64.1L-8.4 -74.6L3.0 -77.5L19.2 -79.0L20.9 -68.7L18.0 -56.7L20.9 -51.2L6.0 -42.1L-16.0 -58.2Z" fill="#b9954f"/><path d="M45.5 -47.5L68.2 -47.5L72.6 -33.6L69.3 -27.0L45.5 -31.8Z" fill="#c6a265"/><path d="M51.4 -46.5L67.5 -46.5L70.7 -35.0L61.9 -33.3L51.4 -36.2Z" fill="#b9954f"/><path d="M-33.3 -33.6L-5.7 -30.6L23.6 -27.0L41.1 -26.3L52.9 -27.7L67.5 -30.6L72.2 -29.2L69.3 -24.5L52.9 -22.3L41.1 -21.6L23.6 -23.0L-5.7 -26.7L-33.3 -29.8Z" fill="#a47a2f"/><path d="M-30.7 -27.0L-13.1 -22.6L8.9 -21.1L23.6 -19.7L44.1 -18.9L61.9 -11.6L59.0 -9.1L44.1 -15.7L23.6 -16.6L8.9 -18.0L-13.1 -19.5L-30.7 -24.3Z" fill="#c5dce4"/><path d="M4.5 -20.4L11.8 -21.1L19.5 -17.5L14.8 -14.2L6.0 -15.7Z" fill="#25397c"/><path d="M-6.5 -18.9L0.1 -19.7L0.4 -15.7L-5.7 -15.1Z" fill="#1a639d"/><path d="M14.8 -22.2L19.2 -21.3L18.6 -18.0L15.5 -18.9Z" fill="#79391c"/><path d="M17.0 -11.6L23.6 -13.1L28.2 0.1L23.6 9.2L17.7 6.3L16.2 -4.3Z" fill="#4090ba"/><path d="M32.4 -10.1L52.9 -11.6L59.0 3.1L56.1 19.9L32.4 19.9Z" fill="#b9954f"/><path d="M66.1 -24.8L76.6 -26.3L82.5 -18.9L76.6 -7.2L67.5 -9.8Z" fill="#d8bf94"/><path d="M59.5 -5.4L66.1 -6.9L67.5 3.1L66.1 19.9L57.3 19.9L60.5 3.1Z" fill="#dce8e9"/><path d="M41.1 4.2L47.3 3.8L47.9 11.5L42.3 12.1Z" fill="#fff"/><path d="M-27.7 -52.3L-23.0 -53.8L-22.4 -48.2L-26.8 -47.4Z" fill="#fff"/><path d="M20.8 -72.1L20.9 -70.0L18.8 -68.5L18.7 -65.9L17.4 -65.2L18.2 -61.6L18.3 -57.2L17.4 -56.6L18.6 -52.9L21.4 -52.5L22.3 -50.8L26.5 -48.8L28.0 -49.7L29.8 -50.6L45.0 -42.1L45.0 -43.2L46.8 -43.2L46.7 -47.5L45.9 -63.1L45.2 -65.2L45.9 -68.3L45.6 -72.4L32.5 -73.4L20.8 -73.4Z" fill="#232663"/><path d="M45.8 -70.2L45.9 -68.3L45.2 -65.2L45.9 -63.1L46.7 -47.5L70.0 -47.5L67.0 -51.8L65.0 -58.3L64.8 -60.9L64.0 -63.7L62.4 -67.6L59.9 -70.2Z" fill="#fff"/><path d="M63.1 -79.0L80.7 -84.9L85.1 -71.7L90.2 -61.4L82.2 -62.9L70.4 -67.0Z" fill="#dfcdae"/><path d="M80.7 -84.9L91.3 -92.2L101.2 -79.0L107.1 -68.7L105.6 -55.6L96.8 -55.6L89.5 -62.9L84.4 -71.7Z" fill="#c5dce4"/><path d="M63.7 -60.5L64.0 -63.5L66.1 -63.1L68.7 -64.8L67.4 -68.0L71.0 -69.1L73.5 -68.9L76.6 -67.2L82.1 -63.1L85.4 -62.8L87.4 -61.8L89.0 -61.6L91.3 -59.4L93.4 -57.2L93.5 -54.6L94.3 -53.6L95.9 -52.5L98.1 -49.5L102.8 -48.8L103.8 -47.5L103.1 -43.2L97.6 -41.0L92.0 -40.2L89.4 -36.9L87.5 -37.1L83.8 -37.6L81.5 -37.8L81.0 -35.6L79.7 -35.4L76.1 -40.0L72.0 -46.4L67.8 -54.0Z" fill="#232663"/><path d="M95.7 -52.5L96.9 -49.7L103.0 -49.0L102.9 -51.8L104.4 -54.6L103.9 -56.4L100.4 -52.5Z" fill="#232663"/><path d="M101.9 -51.2L110.7 -49.0L105.9 -38.7L97.6 -39.1Z" fill="#c5dce4"/><path d="M80.0 -36.2L97.1 -40.9L98.6 -34.8L83.9 -27.4Z" fill="#c6a265"/><path d="M51.4 -90.7L72.2 -92.2L76.6 -86.3L67.8 -81.6L52.9 -83.1Z" fill="#93bfd5"/><path d="M101.2 -67.3L111.5 -79.0L126.1 -77.5L139.3 -68.7L150.3 -62.9L150.3 -18.9L133.5 -45.3L123.2 -55.6L111.5 -51.2L102.7 -55.6Z" fill="#cfb07c"/><path d="M91.0 -90.4L103.0 -92.2L117.6 -89.3L119.1 -77.5L105.9 -74.3L96.8 -80.2Z" fill="#d8bf94"/><path d="M-20.4 -144.9L32.4 -152.3L52.9 -144.9L91.0 -153.7L108.5 -165.4L150.3 -162.5L150.3 -118.6L96.8 -115.6L82.2 -109.8L76.3 -92.2L52.9 -89.3L32.4 -77.5L11.8 -83.4L-1.3 -93.7L-18.9 -92.2L-20.4 -121.5Z" fill="#5a9dc2"/><path d="M44.1 -144.9L61.9 -144.9L88.3 -143.5L88.3 -130.0L93.9 -118.6L82.2 -110.9L70.4 -110.9L61.7 -98.0L44.1 -98.0L38.2 -112.7L44.1 -136.1Z" fill="#c5dce4"/><path d="M7.4 -131.7L19.2 -146.4L32.4 -150.8L41.1 -146.4L44.1 -136.1L32.4 -131.7L26.5 -136.1L20.6 -121.5L13.3 -125.9Z" fill="#4090ba"/><path d="M-17.2 -92.2L-1.3 -93.7L3.3 -90.4L-1.3 -81.6L-11.6 -78.7L-16.7 -83.1Z" fill="#125593"/><path d="M-2.8 -109.8L8.9 -111.2L12.1 -103.9L8.9 -94.8L0.4 -93.4L-4.3 -101.0Z" fill="#262f70" fill-opacity="0.65"/><path d="M8.9 -115.6L26.5 -117.1L32.4 -103.9L20.6 -92.2L11.8 -98.0Z" fill="#2270a7"/><path d="M51.4 -128.8L57.6 -130.3L66.3 -128.8L75.1 -133.2L76.6 -127.1L67.8 -121.2L61.9 -121.2L59.0 -112.4L52.9 -113.9Z" fill="#232663"/><path d="M88.0 -138.8L91.3 -152.3L98.6 -150.8L103.0 -146.4L111.8 -143.5L117.6 -140.5L116.2 -136.1L123.5 -131.7L114.7 -127.1L103.0 -130.0L91.3 -130.0Z" fill="#232663"/><path d="M32.4 -121.5L41.1 -123.0L44.1 -114.2L38.2 -111.2L33.8 -115.6Z" fill="#262f70"/><path d="M38.2 -92.2L45.5 -93.7L49.9 -83.4L44.1 -79.0L39.7 -84.9Z" fill="#262f70"/><path d="M70.4 -108.3L78.1 -112.7L91.3 -113.4L97.1 -115.6L111.8 -118.6L123.5 -117.8L132.3 -114.2L139.6 -106.8L136.7 -97.8L126.4 -91.9L118.8 -91.9L111.5 -94.4L91.0 -95.1L79.2 -96.3L73.7 -97.8Z" fill="#4090ba"/><path d="M68.4 -106.8L74.8 -111.5L91.0 -114.5L91.3 -112.4L76.3 -109.2L71.3 -105.1L74.8 -97.8L72.5 -96.3Z" fill="#262f70"/><path d="M79.2 -103.9L97.1 -108.3L111.8 -112.0L123.5 -111.2L130.8 -105.4L126.4 -100.0L117.6 -95.6L97.1 -96.3L86.9 -97.8L80.7 -97.8Z" fill="#c5dce4"/><path d="M109.3 -110.9L126.4 -112.7L130.1 -106.8L114.7 -109.2Z" fill="#125593"/><path d="M106.8 -105.1L114.7 -109.5L126.4 -108.7L130.8 -103.6L126.4 -100.0L110.3 -100.0Z" fill="#262f70"/><path d="M96.8 -120.0L110.3 -122.2L111.0 -116.8L98.6 -115.3Z" fill="#232663"/><path d="M111.5 -152.3L126.4 -153.7L139.6 -141.7L133.7 -137.3L119.1 -144.6Z" fill="#d8bf94"/><path d="M95.4 -98.0L111.5 -95.9L120.3 -90.7L117.3 -86.3L102.7 -89.3L95.4 -92.2Z" fill="#e9e6da"/><path d="M109.1 -158.1L136.9 -159.6L148.7 -150.8L141.3 -142.0L136.9 -131.7L123.7 -131.7L115.0 -137.6L109.1 -146.4Z" fill="#93bfd5"/><path d="M141.3 -142.0L158.9 -143.5L166.2 -136.1L176.5 -131.7L194.1 -127.4L197.0 -121.5L211.7 -115.6L202.9 -111.2L188.2 -114.2L173.6 -115.6L158.9 -117.1L144.3 -121.5L136.9 -131.7Z" fill="#c5dce4"/><path d="M148.7 -150.8L161.8 -153.7L188.2 -152.3L217.5 -148.6L241.0 -146.4L258.8 -137.6L252.7 -131.7L235.1 -130.3L217.5 -131.7L214.6 -125.9L202.9 -127.4L188.2 -130.3L176.5 -131.7L166.2 -136.1L158.9 -143.5Z" fill="#232663"/><path d="M194.1 -128.8L217.5 -130.3L232.2 -115.6L232.9 -94.8L228.1 -93.4L224.8 -106.8L211.7 -115.6L197.0 -121.5Z" fill="#262f70"/><path d="M252.7 -136.1L265.9 -134.7L255.6 -130.3Z" fill="#93bfd5"/><path d="M158.9 -111.2L173.6 -109.8L175.0 -102.4L164.8 -101.0L158.9 -105.4Z" fill="#262f70"/><path d="M173.6 -101.0L188.2 -102.4L191.1 -95.1L179.4 -92.2L172.1 -95.1Z" fill="#c6a265"/><path d="M134.7 -84.9L144.3 -90.4L161.8 -91.9L166.2 -86.3L163.3 -79.0L148.7 -74.6L137.7 -78.3Z" fill="#fff"/><path d="M195.5 -114.2L211.7 -115.6L224.8 -106.8L226.3 -92.2L217.5 -86.3L202.9 -98.0L194.1 -106.8Z" fill="#cfb07c"/><path d="M202.9 -103.9L214.6 -103.9L216.1 -92.2L205.8 -92.2Z" fill="#e9e6da"/><path d="M166.2 -77.5L188.2 -84.9L217.5 -84.9L223.4 -68.7L220.4 -54.1L202.9 -48.2L182.4 -51.2L170.6 -62.9Z" fill="#cfb07c"/><path d="M167.7 -70.2L176.5 -68.7L179.4 -62.9L170.6 -64.3Z" fill="#7f4320"/><path d="M195.5 -75.3L208.7 -74.6L208.7 -71.4L195.5 -72.1Z" fill="#a47a2f"/><path d="M216.1 -73.1L223.7 -68.7L223.7 -59.7L217.5 -61.1Z" fill="#125593"/><path d="M208.7 -54.1L217.8 -55.6L217.8 -49.4L210.2 -47.9Z" fill="#125593"/><path d="M191.1 -83.4L197.0 -84.9L197.7 -77.5L192.6 -77.5Z" fill="#262f70"/><path d="M202.9 -89.3L206.1 -90.0L206.8 -86.0L203.6 -85.3Z" fill="#262f70"/><path d="M126.7 -71.7L144.3 -68.7L158.9 -54.1L164.8 -48.2L156.0 -39.4L148.7 -18.9L136.9 -45.3L129.6 -55.6Z" fill="#c6a265"/><path d="M142.8 -65.8L156.0 -58.5L156.0 -56.1L142.8 -62.6Z" fill="#7f4320"/><path d="M144.3 -54.1L150.1 -55.6L153.0 -48.2L147.2 -46.5Z" fill="#79391c"/><path d="M153.0 -48.2L162.1 -49.7L162.1 -43.5L156.0 -39.1Z" fill="#6b2a15"/><path d="M136.2 -45.3L140.6 -33.6L144.3 -24.8L141.3 -24.5L136.9 -35.0Z" fill="#5a9dc2"/><path d="M145.0 -39.4L148.7 -40.2L149.4 -35.8L145.7 -35.0Z" fill="#232663"/><path d="M144.3 -45.3L148.7 -43.8L149.4 -39.7L145.0 -40.2Z" fill="#c5dce4"/><path d="M150.8 -21.1L154.8 -20.4L154.8 -13.8L151.6 -14.5Z" fill="#a9cedd"/><path d="M109.1 -77.5L126.7 -79.0L129.6 -68.7L126.7 -55.6L109.1 -55.6Z" fill="#b9954f"/><path d="M100.3 -89.3L117.9 -86.3L126.7 -79.0L109.1 -77.5L100.3 -77.5Z" fill="#dfcdae"/><path d="M169.2 -55.6L179.4 -54.1L182.4 -39.4L176.5 -35.0L172.1 -43.8Z" fill="#cfb07c"/><path d="M182.4 -62.9L191.1 -64.3L194.1 -54.1L186.7 -51.2Z" fill="#2270a7"/><path d="M185.3 -43.8L197.0 -42.4L197.0 -33.6L188.2 -33.6Z" fill="#c5dce4"/><path d="M188.2 -36.5L202.9 -39.4L207.3 -27.7L199.9 -20.4L191.1 -24.8Z" fill="#c6a265"/><path d="M194.1 -30.6L199.9 -30.6L199.9 -24.8L194.1 -24.8Z" fill="#7f4320"/><path d="M184.5 -24.8L191.1 -21.9L194.1 -11.6L189.7 -13.1Z" fill="#2270a7"/><path d="M191.1 -11.6L197.0 -10.1L198.5 -4.3L192.6 -5.7Z" fill="#d8bf94"/><path d="M180.9 -12.3L191.1 -4.3L202.9 8.9L197.0 10.4L186.7 0.1Z" fill="#7f4320"/><path d="M207.3 -4.3L217.5 -11.6L224.8 -8.7L226.3 0.1L217.5 7.4L208.7 4.5Z" fill="#2d7fb0"/><path d="M211.7 0.1L220.4 -1.3L220.4 6.0L213.1 6.7Z" fill="#cfb07c"/><path d="M194.1 10.4L232.2 14.8L232.2 17.0L194.1 13.3Z" fill="#cfb07c"/><path d="M248.3 0.1L267.3 4.5L267.3 16.2L261.5 14.8L252.7 7.4Z" fill="#4090ba"/><path d="M267.3 4.5L277.6 10.4L280.5 19.9L267.3 16.2Z" fill="#d8bf94"/><path d="M235.1 -27.7L238.8 -26.3L239.5 -16.0L236.6 -17.5Z" fill="#7f4320"/><path d="M225.6 -40.9L230.0 -40.2L230.7 -30.6L226.3 -32.1Z" fill="#2270a7"/><path d="M223.4 -84.9L229.2 -86.3L232.2 -77.5L226.3 -74.6Z" fill="#a9cedd"/><path d="M238.0 -79.0L251.2 -83.4L251.2 -77.5L241.0 -73.1L235.1 -70.2L233.6 -72.4Z" fill="#4090ba" fill-opacity="0.7"/><path d="M244.6 -127.4L248.3 -125.9L249.8 -121.5L245.4 -122.2Z" fill="#232663"/><path d="M249.8 -121.5L257.1 -120.0L255.6 -114.2L251.2 -115.6Z" fill="#a9cedd"/><path d="M224.1 -54.8L226.3 -55.6L226.6 -49.7L224.5 -49.4Z" fill="#a9cedd"/><path d="M227.8 -7.2L232.2 -5.7L230.7 1.6L227.8 0.1Z" fill="#2d7fb0" fill-opacity="0.6"/><path d="M32.4 -6.9L52.9 -9.8L58.7 -1.1L55.8 12.1L47.0 23.9L32.4 20.9L29.4 6.3Z" fill="#b9954f"/><path d="M41.1 4.1L47.0 3.6L47.6 11.0L42.3 11.5Z" fill="#fff"/><path d="M48.5 16.5L55.8 10.7L60.2 3.3L66.1 4.8L67.5 13.6L74.8 18.0L75.6 29.7L67.5 37.0L58.7 34.1L52.9 26.8Z" fill="#dce8e9"/><path d="M61.7 6.3L70.4 7.7L70.4 18.0L63.1 18.0Z" fill="#c6a265"/><path d="M26.5 28.3L41.1 25.3L44.1 29.7L29.4 31.5Z" fill="#c5dce4"/><path d="M42.6 25.3L51.4 24.6L51.4 28.3L44.1 29.1Z" fill="#5c1a0f"/><path d="M23.6 12.9L27.2 13.6L28.7 18.0L25.0 17.4Z" fill="#6b2a15"/><path d="M25.8 26.1L28.0 26.1L28.2 29.7L26.1 29.7Z" fill="#6b2a15"/><path d="M17.0 -5.4L23.6 -11.3L26.5 -2.5L22.1 4.8L17.7 1.9Z" fill="#4090ba"/><path d="M23.6 -5.4L32.4 -6.9L30.9 1.9L23.6 3.3Z" fill="#dce8e9"/><path d="M22.1 32.6L44.1 34.1L47.0 41.4L38.2 48.8L26.5 50.2Z" fill="#b9954f"/><path d="M26.5 51.0L38.2 48.8L47.0 41.4L55.8 48.8L57.3 59.0L49.9 70.7L33.8 75.4L29.4 62.0Z" fill="#e9e6da"/><path d="M45.5 60.5L51.4 59.0L51.4 66.3L46.3 66.3Z" fill="#93bfd5"/><path d="M46.3 66.3L52.9 62.0L54.6 67.8L48.5 72.5Z" fill="#232663"/><path d="M49.9 55.4L52.9 54.6L52.9 57.6L50.2 57.8Z" fill="#232663"/><path d="M32.4 70.7L44.1 67.8L44.1 72.2L34.5 75.4Z" fill="#a9cedd"/><path d="M79.2 23.9L96.8 23.9L96.8 57.6L79.2 57.6Z" fill="#c6a265"/><path d="M84.4 32.6L91.0 28.3L94.2 29.7L91.0 37.0L85.8 37.3Z" fill="#262f70"/><path d="M85.8 37.8L88.8 37.0L89.5 47.3L86.6 47.3Z" fill="#5c1a0f"/><path d="M64.6 -2.5L69.0 -3.3L69.7 1.9L65.3 2.6Z" fill="#262f70"/><path d="M206.0 22.6L289.5 22.6L289.5 87.1L206.0 87.1Z" fill="#125593"/><path d="M242.6 45.4L247.0 44.9L245.5 47.6L241.9 47.6Z" fill="#fff"/><path d="M239.7 50.2L244.1 49.8L243.3 52.0L239.4 52.0Z" fill="#fff"/><path d="M237.5 57.1L242.6 56.3L244.1 60.0L237.9 60.7Z" fill="#fff"/><path d="M252.1 52.7L255.8 52.0L255.1 55.6L251.4 55.6Z" fill="#fff"/><path d="M249.9 84.2L261.7 84.2L261.7 95.9L249.9 95.9Z" fill="#2270a7"/><path d="M280.7 72.5L318.8 72.5L318.8 101.8L280.7 101.8Z" fill="#2d7fb0"/><path d="M197.2 8.0L232.4 13.1L261.7 10.9L261.7 21.2L232.4 21.2L197.2 16.8Z" fill="#cfb07c"/><path d="M226.5 -11.1L244.1 -9.6L244.1 10.9L232.4 10.9L226.5 -0.8Z" fill="#c6a265" fill-opacity="0.55"/><path d="M234.5 -27.2L240.4 -26.4L241.1 -14.0L236.0 -15.4Z" fill="#7f4320"/><path d="M332.0 34.4L339.3 34.4L339.3 40.2L332.0 40.2Z" fill="#cfb07c"/><path d="M232.2 -131.0L252.7 -136.1L267.3 -134.7L261.5 -129.6L257.8 -113.4L249.8 -110.9L244.6 -121.5L241.0 -129.1Z" fill="#a9cedd"/><path d="M244.6 -127.4L248.3 -125.9L249.8 -121.5L245.4 -122.2Z" fill="#232663"/><path d="M243.9 -93.7L248.3 -92.2L249.8 -83.4L246.8 -80.5Z" fill="#a9cedd" fill-opacity="0.6"/><path d="M241.0 -111.2L245.4 -109.8L246.8 -98.0L243.9 -98.0Z" fill="#a9cedd" fill-opacity="0.6"/><path d="M179.4 -13.1L188.2 -11.6L205.8 7.4L201.4 11.8L194.1 8.9L183.8 -1.3Z" fill="#7f4320"/><path d="M188.2 -10.1L194.1 -7.2L202.9 4.5L199.9 6.0L191.1 -4.3Z" fill="#d8bf94"/><path d="M222.6 -86.3L230.0 -87.5L232.9 -77.5L226.3 -73.9Z" fill="#a9cedd"/><path d="M-36.5 -143.5L-18.9 -143.5L-18.9 -134.7L-36.5 -134.7Z" fill="#4090ba"/>
</g>
<use href="#wp" fill="#fff"/><use href="#sp" fill="#fff"/>
<path d="M-139.7 -157.6L-127.7 -162.6L-105.7 -166.3L-83.7 -168.3L-71.7 -168.8L-83.7 -165.5L-103.7 -161.8L-123.7 -158.1L-135.7 -156.3Z" fill="#1a639d"/>
</g>
<g transform="translate(1190.8 195.4)">
<use href="#lp" fill="#fff" stroke="#d9d9d9" stroke-width="0.5"/>
<g clip-path="url(#land)">
<path d="M-35.0 -80.5L20.6 -83.4L52.9 -77.5L71.9 -48.2L98.3 -29.2L82.2 19.9L16.2 19.9L13.3 -7.2L-20.4 -7.2L-35.0 -33.6Z" fill="#d4728a"/><path d="M8.9 -20.1L96.8 -20.1L82.2 9.2L77.8 38.5L61.7 56.1L52.9 70.7L33.8 76.6L20.6 38.5L23.6 23.9L13.3 -5.4Z" fill="#d4728a"/><path d="M-33.6 -30.4L-5.7 -27.1L23.6 -23.6L52.9 -22.7L74.8 -26.3L79.2 -4.3L52.9 -4.3L16.2 -7.2L-20.4 -6.9L-33.6 -24.8Z" fill="#d4728a"/><path d="M126.7 -71.7L164.8 -77.5L188.2 -84.9L217.5 -84.9L224.8 -62.9L217.5 -48.2L205.8 -39.4L208.7 -18.9L188.2 -11.6L173.6 -33.6L161.8 -48.2L148.7 -17.5L135.5 -48.2Z" fill="#d4728a"/><path d="M122.3 -118.6L150.1 -118.6L161.8 -111.2L144.3 -103.9L136.9 -98.0L125.2 -92.2L115.0 -98.0Z" fill="#b8d4ee"/><path d="M100.3 -168.4L144.3 -158.1L173.6 -156.7L232.2 -150.8L265.9 -134.7L246.8 -118.6L232.2 -98.0L226.3 -86.3L224.8 -62.9L217.5 -48.2L205.8 -39.4L208.7 -18.9L188.2 -11.6L173.6 -33.6L161.8 -48.2L148.7 -17.5L135.5 -48.2L100.3 -54.1Z" fill="#d4728a"/><path d="M-260.8 -138.8L-251.3 -144.9L-244.7 -141.7L-254.2 -137.3Z" fill="#b8d4ee"/><path d="M-246.9 -128.8L-236.6 -136.1L-216.1 -137.6L-210.2 -131.7L-213.2 -121.5L-226.3 -127.4L-241.0 -123.7Z" fill="#b8d4ee" fill-opacity="0.55"/><path d="M-230.7 -141.7L-223.4 -145.2L-205.8 -148.9L-196.3 -145.7L-208.8 -141.7L-219.0 -139.8Z" fill="#b8d4ee"/><path d="M-215.4 -111.2L-213.2 -118.6L-211.4 -122.2L-208.5 -130.0L-194.4 -141.7L-189.7 -141.7L-196.3 -130.6L-192.6 -130.3L-183.6 -136.1L-176.8 -136.1L-180.9 -130.3L-185.0 -125.2L-178.0 -128.5L-167.0 -133.9L-156.8 -133.8L-161.1 -127.1L-162.6 -121.5L-161.6 -115.6L-165.5 -110.1L-161.1 -106.1L-180.9 -62.9L-182.4 -54.8L-188.3 -60.0L-195.6 -67.3L-201.4 -68.5L-213.9 -70.9L-224.9 -77.5L-226.3 -92.2L-219.0 -111.2Z" fill="#b8d4ee"/><path d="M-161.1 -106.1L-165.5 -110.1L-157.5 -111.2L-147.2 -118.6L-145.0 -115.6L-150.2 -109.8L-138.4 -111.2L-128.2 -114.2L-119.4 -109.8L-110.6 -111.2L-104.7 -117.8L-102.1 -112.7L-94.2 -115.6L-89.8 -111.2L-88.9 -101.7L-98.9 -105.1L-109.1 -98.0L-113.5 -94.4L-128.2 -77.5L-142.8 -62.9L-147.2 -48.2L-154.6 -51.2L-154.6 -62.9L-172.1 -58.5L-180.9 -62.9Z" fill="#b8d4ee"/><path d="M-162.5 -106.4L-155.7 -103.9L-173.6 -64.1L-180.9 -62.0L-182.4 -62.9Z" fill="#b8d4ee"/><path d="M-157.5 -100.2L-142.8 -106.8L-128.2 -109.8L-120.9 -103.9L-131.1 -95.1L-142.8 -92.2L-153.1 -92.2Z" fill="#b8d4ee"/><path d="M-120.9 -109.8L-110.6 -111.2L-104.7 -117.8L-102.1 -112.7L-94.2 -115.6L-89.8 -111.2L-88.9 -101.7L-98.9 -105.1L-109.1 -98.0L-119.4 -101.0Z" fill="#b8d4ee"/><path d="M-172.1 -70.9L-163.3 -74.3L-153.1 -70.9L-154.3 -64.1L-166.3 -62.6L-173.6 -64.1Z" fill="#b8d4ee"/><path d="M-157.5 -81.2L-145.8 -85.6L-135.5 -88.5L-134.8 -86.3L-144.3 -82.7L-156.0 -78.3Z" fill="#b8d4ee"/><path d="M-171.4 -79.0L-161.9 -79.0L-161.9 -71.7L-167.0 -74.6L-171.4 -72.4Z" fill="#b8d4ee"/><path d="M-159.2 -70.9L-155.7 -70.5L-156.3 -68.0L-158.9 -68.5Z" fill="#b8d4ee"/><path d="M-216.1 -71.7L-201.4 -68.5L-195.6 -67.3L-188.3 -60.0L-182.4 -54.8L-183.1 -48.2L-179.5 -42.4L-172.1 -43.8L-160.4 -48.2L-158.9 -39.4L-172.1 -35.0L-180.9 -35.0L-192.6 -39.4L-201.4 -48.2L-210.2 -62.9Z" fill="#b8d4ee"/><path d="M-198.5 -66.5L-192.6 -64.3L-190.5 -48.2L-195.6 -47.5L-199.2 -57.0Z" fill="#b8d4ee"/><path d="M-214.6 -70.9L-209.5 -70.2L-202.9 -49.0L-208.0 -49.0Z" fill="#b8d4ee"/><path d="M-207.0 -69.0L-203.6 -68.7L-199.7 -58.2L-202.0 -57.6Z" fill="#b8d4ee"/><path d="M-191.9 -62.9L-186.8 -64.3L-183.1 -60.0L-184.6 -54.8L-189.7 -53.4L-192.6 -57.8Z" fill="#b8d4ee"/><path d="M-190.0 -61.1L-186.8 -61.7L-185.3 -58.5L-187.5 -55.9L-190.0 -57.3Z" fill="#b8d4ee"/><path d="M-192.6 -52.6L-186.8 -51.2L-180.9 -43.8L-185.3 -42.4L-191.2 -46.8Z" fill="#b8d4ee"/><path d="M-197.0 -43.8L-186.8 -40.9L-175.1 -35.8L-180.9 -34.3L-192.6 -38.7Z" fill="#d4728a"/><path d="M-169.9 -47.5L-158.9 -47.5L-158.9 -38.7L-167.7 -39.4Z" fill="#b8d4ee"/><path d="M-180.9 -40.2L-169.2 -39.4L-157.5 -33.6L-153.1 -26.3L-157.5 -24.8L-166.3 -29.2L-178.0 -35.0Z" fill="#d4728a"/><path d="M-172.1 -33.6L-166.3 -32.1L-164.5 -27.4L-168.9 -28.9Z" fill="#d4728a"/><path d="M-163.3 -27.7L-148.7 -19.7L-150.9 -16.3L-164.8 -24.5Z" fill="#b8d4ee"/><path d="M-158.9 -51.2L-134.0 -45.3L-134.0 -39.4L-158.9 -45.3Z" fill="#b8d4ee"/><path d="M-139.2 -44.6L-126.0 -43.1L-126.0 -38.7L-139.2 -39.4Z" fill="#d4728a"/><path d="M-123.8 -41.6L-119.4 -41.6L-119.4 -38.7L-123.8 -38.7Z" fill="#b8d4ee"/><path d="M-151.3 -24.2L-138.2 -27.2L-111.8 -21.3L-94.2 -5.2L-63.4 13.9L-70.8 35.8L-88.3 63.7L-97.1 81.3L-105.9 122.3L-123.5 116.4L-135.2 43.2L-157.2 10.9L-152.8 -12.5Z" fill="#b8d4ee"/><path d="M-150.6 -16.2L-144.0 -19.8L-141.1 -11.1L-135.2 2.1L-141.1 13.9L-149.9 12.4L-155.7 8.0Z" fill="#d4728a"/><path d="M-154.3 -0.8L-149.2 -2.3L-141.1 15.3L-129.4 19.7L-120.6 24.1L-117.6 31.4L-120.6 38.8L-129.4 37.3L-138.2 32.9L-147.0 22.6L-152.8 10.9Z" fill="#d4728a"/><path d="M-144.0 -25.7L-117.6 -22.0L-111.1 -15.4L-117.6 -13.7L-129.4 -18.1L-141.1 -16.6Z" fill="#b8d4ee"/><path d="M-144.3 -21.3L-139.6 -22.0L-137.9 -12.5L-141.1 -2.3L-144.0 -8.1Z" fill="#b8d4ee"/><path d="M-148.4 -17.2L-145.2 -17.8L-144.6 -9.6L-147.5 -8.1Z" fill="#d4728a"/><path d="M-150.9 -5.9L-147.0 -6.7L-145.5 -2.3L-149.2 -1.2Z" fill="#d4728a"/><path d="M-141.1 -3.0L-135.2 -14.0L-129.1 -14.3L-127.6 -6.7L-120.6 -2.0L-111.8 -3.7L-105.9 -0.8L-97.1 -0.8L-88.3 3.6L-91.0 12.4L-87.6 26.3L-97.1 28.8L-105.9 30.3L-111.8 28.8L-120.6 22.9L-129.4 18.5L-139.6 15.6L-141.1 8.0Z" fill="#b8d4ee"/><path d="M-129.4 -13.7L-119.8 -15.4L-117.4 -5.2L-119.7 -1.4L-127.9 -5.8Z" fill="#d4728a"/><path d="M-116.9 -14.0L-113.3 -14.7L-111.5 -3.4L-115.3 -4.9Z" fill="#b8d4ee"/><path d="M-111.8 -12.5L-104.2 -13.3L-102.7 -6.7L-110.0 -5.8Z" fill="#d4728a"/><path d="M-103.7 -11.1L-98.3 -9.6L-96.8 -2.0L-102.1 -2.0Z" fill="#b8d4ee"/><path d="M-113.3 27.3L-104.5 22.9L-98.6 13.9L-91.0 11.7L-86.9 27.3L-96.8 28.8L-98.3 36.1L-108.6 37.6Z" fill="#b8d4ee"/><path d="M-100.1 -0.5L-88.3 3.0L-91.0 12.4L-97.1 13.9L-103.0 8.3Z" fill="#b8d4ee"/><path d="M-149.2 2.9L-141.1 -0.1L-135.2 5.8L-140.8 14.1L-147.0 11.2Z" fill="#d4728a"/><path d="M-141.1 25.6L-130.8 28.5L-123.5 38.8L-130.8 37.6L-139.6 31.7Z" fill="#d4728a"/><path d="M-137.4 24.1L-133.0 24.8L-131.6 29.2L-136.0 28.5Z" fill="#d4728a"/><path d="M-145.5 16.1L-141.8 17.5L-142.6 20.4L-145.2 19.7Z" fill="#d4728a"/><path d="M-127.2 32.2L-123.5 32.9L-122.8 36.6L-126.4 35.8Z" fill="#d4728a"/><path d="M-90.5 4.3L-82.5 3.6L-73.7 7.3L-67.1 13.9L-70.8 22.6L-75.2 31.4L-82.5 34.4L-86.9 25.6L-90.5 12.4Z" fill="#d4728a"/><path d="M-78.1 13.9L-70.8 11.7L-67.1 15.3L-71.9 25.6L-76.3 32.9L-82.5 34.7L-82.2 25.6Z" fill="#b8d4ee"/><path d="M-119.8 31.4L-108.9 37.6L-97.1 36.1L-86.9 28.5L-78.1 34.4L-79.3 46.1L-91.0 52.2L-102.7 52.2L-111.8 46.4L-119.1 40.5Z" fill="#b8d4ee"/><path d="M-98.6 30.0L-88.3 28.5L-86.6 38.8L-91.0 49.0L-97.1 43.2Z" fill="#b8d4ee"/><path d="M-103.0 53.4L-91.0 51.4L-89.5 60.7L-96.8 66.9L-102.1 63.7Z" fill="#d4728a"/><path d="M-117.6 40.5L-108.9 46.4L-102.7 53.7L-111.8 52.2L-118.2 46.4Z" fill="#d4728a"/><path d="M-129.4 49.0L-117.6 50.5L-111.5 57.8L-114.4 72.5L-111.5 84.5L-120.6 87.4L-126.4 72.5Z" fill="#b8d4ee"/><path d="M-133.5 38.8L-129.1 38.8L-126.1 72.5L-120.3 101.8L-111.5 115.2L-116.2 115.2L-126.4 101.8L-130.8 72.5Z" fill="#b8d4ee"/><path d="M-126.4 81.3L-110.0 85.7L-111.5 101.8L-113.0 110.9L-120.6 105.0L-125.0 90.3Z" fill="#b8d4ee"/><path d="M-131.1 81.3L-126.4 83.0L-122.0 105.0L-126.4 106.5L-129.7 94.4Z" fill="#d4728a"/><path d="M-126.7 106.5L-121.8 104.7L-105.6 118.2L-110.0 121.4L-122.0 115.2Z" fill="#b8d4ee"/><path d="M-114.7 57.8L-105.6 54.9L-102.7 63.7L-105.6 72.5L-110.0 81.5L-113.3 72.5Z" fill="#b8d4ee"/><path d="M-107.4 71.0L-98.3 72.5L-101.2 81.5L-110.3 83.0Z" fill="#b8d4ee"/><path d="M-104.5 72.5L-98.3 73.2L-99.8 75.7L-103.7 74.8Z" fill="#b8d4ee"/><path d="M-16.3 -64.1L-8.4 -74.6L3.0 -77.5L19.2 -79.0L20.9 -68.7L18.0 -56.7L20.9 -51.2L6.0 -42.1L-16.0 -58.2Z" fill="#d4728a"/><path d="M45.5 -47.5L68.2 -47.5L72.6 -33.6L69.3 -27.0L45.5 -31.8Z" fill="#d4728a"/><path d="M51.4 -46.5L67.5 -46.5L70.7 -35.0L61.9 -33.3L51.4 -36.2Z" fill="#d4728a"/><path d="M-33.3 -33.6L-5.7 -30.6L23.6 -27.0L41.1 -26.3L52.9 -27.7L67.5 -30.6L72.2 -29.2L69.3 -24.5L52.9 -22.3L41.1 -21.6L23.6 -23.0L-5.7 -26.7L-33.3 -29.8Z" fill="#d4728a"/><path d="M-30.7 -27.0L-13.1 -22.6L8.9 -21.1L23.6 -19.7L44.1 -18.9L61.9 -11.6L59.0 -9.1L44.1 -15.7L23.6 -16.6L8.9 -18.0L-13.1 -19.5L-30.7 -24.3Z" fill="#b8d4ee"/><path d="M4.5 -20.4L11.8 -21.1L19.5 -17.5L14.8 -14.2L6.0 -15.7Z" fill="#b8d4ee"/><path d="M-6.5 -18.9L0.1 -19.7L0.4 -15.7L-5.7 -15.1Z" fill="#b8d4ee"/><path d="M14.8 -22.2L19.2 -21.3L18.6 -18.0L15.5 -18.9Z" fill="#d4728a"/><path d="M17.0 -11.6L23.6 -13.1L28.2 0.1L23.6 9.2L17.7 6.3L16.2 -4.3Z" fill="#b8d4ee"/><path d="M32.4 -10.1L52.9 -11.6L59.0 3.1L56.1 19.9L32.4 19.9Z" fill="#d4728a"/><path d="M66.1 -24.8L76.6 -26.3L82.5 -18.9L76.6 -7.2L67.5 -9.8Z" fill="#d4728a"/><path d="M59.5 -5.4L66.1 -6.9L67.5 3.1L66.1 19.9L57.3 19.9L60.5 3.1Z" fill="#b8d4ee"/><path d="M41.1 4.2L47.3 3.8L47.9 11.5L42.3 12.1Z" fill="#fff"/><path d="M-27.7 -52.3L-23.0 -53.8L-22.4 -48.2L-26.8 -47.4Z" fill="#fff"/><path d="M20.8 -72.1L20.9 -70.0L18.8 -68.5L18.7 -65.9L17.4 -65.2L18.2 -61.6L18.3 -57.2L17.4 -56.6L18.6 -52.9L21.4 -52.5L22.3 -50.8L26.5 -48.8L28.0 -49.7L29.8 -50.6L45.0 -42.1L45.0 -43.2L46.8 -43.2L46.7 -47.5L45.9 -63.1L45.2 -65.2L45.9 -68.3L45.6 -72.4L32.5 -73.4L20.8 -73.4Z" fill="#b8d4ee"/><path d="M45.8 -70.2L45.9 -68.3L45.2 -65.2L45.9 -63.1L46.7 -47.5L70.0 -47.5L67.0 -51.8L65.0 -58.3L64.8 -60.9L64.0 -63.7L62.4 -67.6L59.9 -70.2Z" fill="#fff"/><path d="M63.1 -79.0L80.7 -84.9L85.1 -71.7L90.2 -61.4L82.2 -62.9L70.4 -67.0Z" fill="#d4728a"/><path d="M80.7 -84.9L91.3 -92.2L101.2 -79.0L107.1 -68.7L105.6 -55.6L96.8 -55.6L89.5 -62.9L84.4 -71.7Z" fill="#b8d4ee"/><path d="M63.7 -60.5L64.0 -63.5L66.1 -63.1L68.7 -64.8L67.4 -68.0L71.0 -69.1L73.5 -68.9L76.6 -67.2L82.1 -63.1L85.4 -62.8L87.4 -61.8L89.0 -61.6L91.3 -59.4L93.4 -57.2L93.5 -54.6L94.3 -53.6L95.9 -52.5L98.1 -49.5L102.8 -48.8L103.8 -47.5L103.1 -43.2L97.6 -41.0L92.0 -40.2L89.4 -36.9L87.5 -37.1L83.8 -37.6L81.5 -37.8L81.0 -35.6L79.7 -35.4L76.1 -40.0L72.0 -46.4L67.8 -54.0Z" fill="#b8d4ee"/><path d="M95.7 -52.5L96.9 -49.7L103.0 -49.0L102.9 -51.8L104.4 -54.6L103.9 -56.4L100.4 -52.5Z" fill="#b8d4ee"/><path d="M101.9 -51.2L110.7 -49.0L105.9 -38.7L97.6 -39.1Z" fill="#b8d4ee"/><path d="M80.0 -36.2L97.1 -40.9L98.6 -34.8L83.9 -27.4Z" fill="#d4728a"/><path d="M51.4 -90.7L72.2 -92.2L76.6 -86.3L67.8 -81.6L52.9 -83.1Z" fill="#b8d4ee"/><path d="M101.2 -67.3L111.5 -79.0L126.1 -77.5L139.3 -68.7L150.3 -62.9L150.3 -18.9L133.5 -45.3L123.2 -55.6L111.5 -51.2L102.7 -55.6Z" fill="#d4728a"/><path d="M91.0 -90.4L103.0 -92.2L117.6 -89.3L119.1 -77.5L105.9 -74.3L96.8 -80.2Z" fill="#d4728a"/><path d="M-20.4 -144.9L32.4 -152.3L52.9 -144.9L91.0 -153.7L108.5 -165.4L150.3 -162.5L150.3 -118.6L96.8 -115.6L82.2 -109.8L76.3 -92.2L52.9 -89.3L32.4 -77.5L11.8 -83.4L-1.3 -93.7L-18.9 -92.2L-20.4 -121.5Z" fill="#b8d4ee"/><path d="M44.1 -144.9L61.9 -144.9L88.3 -143.5L88.3 -130.0L93.9 -118.6L82.2 -110.9L70.4 -110.9L61.7 -98.0L44.1 -98.0L38.2 -112.7L44.1 -136.1Z" fill="#b8d4ee"/><path d="M7.4 -131.7L19.2 -146.4L32.4 -150.8L41.1 -146.4L44.1 -136.1L32.4 -131.7L26.5 -136.1L20.6 -121.5L13.3 -125.9Z" fill="#b8d4ee"/><path d="M-17.2 -92.2L-1.3 -93.7L3.3 -90.4L-1.3 -81.6L-11.6 -78.7L-16.7 -83.1Z" fill="#b8d4ee"/><path d="M-2.8 -109.8L8.9 -111.2L12.1 -103.9L8.9 -94.8L0.4 -93.4L-4.3 -101.0Z" fill="#b8d4ee" fill-opacity="0.65"/><path d="M8.9 -115.6L26.5 -117.1L32.4 -103.9L20.6 -92.2L11.8 -98.0Z" fill="#b8d4ee"/><path d="M51.4 -128.8L57.6 -130.3L66.3 -128.8L75.1 -133.2L76.6 -127.1L67.8 -121.2L61.9 -121.2L59.0 -112.4L52.9 -113.9Z" fill="#b8d4ee"/><path d="M88.0 -138.8L91.3 -152.3L98.6 -150.8L103.0 -146.4L111.8 -143.5L117.6 -140.5L116.2 -136.1L123.5 -131.7L114.7 -127.1L103.0 -130.0L91.3 -130.0Z" fill="#b8d4ee"/><path d="M32.4 -121.5L41.1 -123.0L44.1 -114.2L38.2 -111.2L33.8 -115.6Z" fill="#b8d4ee"/><path d="M38.2 -92.2L45.5 -93.7L49.9 -83.4L44.1 -79.0L39.7 -84.9Z" fill="#b8d4ee"/><path d="M70.4 -108.3L78.1 -112.7L91.3 -113.4L97.1 -115.6L111.8 -118.6L123.5 -117.8L132.3 -114.2L139.6 -106.8L136.7 -97.8L126.4 -91.9L118.8 -91.9L111.5 -94.4L91.0 -95.1L79.2 -96.3L73.7 -97.8Z" fill="#b8d4ee"/><path d="M68.4 -106.8L74.8 -111.5L91.0 -114.5L91.3 -112.4L76.3 -109.2L71.3 -105.1L74.8 -97.8L72.5 -96.3Z" fill="#b8d4ee"/><path d="M79.2 -103.9L97.1 -108.3L111.8 -112.0L123.5 -111.2L130.8 -105.4L126.4 -100.0L117.6 -95.6L97.1 -96.3L86.9 -97.8L80.7 -97.8Z" fill="#b8d4ee"/><path d="M109.3 -110.9L126.4 -112.7L130.1 -106.8L114.7 -109.2Z" fill="#b8d4ee"/><path d="M106.8 -105.1L114.7 -109.5L126.4 -108.7L130.8 -103.6L126.4 -100.0L110.3 -100.0Z" fill="#b8d4ee"/><path d="M96.8 -120.0L110.3 -122.2L111.0 -116.8L98.6 -115.3Z" fill="#b8d4ee"/><path d="M111.5 -152.3L126.4 -153.7L139.6 -141.7L133.7 -137.3L119.1 -144.6Z" fill="#d4728a"/><path d="M95.4 -98.0L111.5 -95.9L120.3 -90.7L117.3 -86.3L102.7 -89.3L95.4 -92.2Z" fill="#d4728a"/><path d="M109.1 -158.1L136.9 -159.6L148.7 -150.8L141.3 -142.0L136.9 -131.7L123.7 -131.7L115.0 -137.6L109.1 -146.4Z" fill="#b8d4ee"/><path d="M141.3 -142.0L158.9 -143.5L166.2 -136.1L176.5 -131.7L194.1 -127.4L197.0 -121.5L211.7 -115.6L202.9 -111.2L188.2 -114.2L173.6 -115.6L158.9 -117.1L144.3 -121.5L136.9 -131.7Z" fill="#b8d4ee"/><path d="M148.7 -150.8L161.8 -153.7L188.2 -152.3L217.5 -148.6L241.0 -146.4L258.8 -137.6L252.7 -131.7L235.1 -130.3L217.5 -131.7L214.6 -125.9L202.9 -127.4L188.2 -130.3L176.5 -131.7L166.2 -136.1L158.9 -143.5Z" fill="#b8d4ee"/><path d="M194.1 -128.8L217.5 -130.3L232.2 -115.6L232.9 -94.8L228.1 -93.4L224.8 -106.8L211.7 -115.6L197.0 -121.5Z" fill="#b8d4ee"/><path d="M252.7 -136.1L265.9 -134.7L255.6 -130.3Z" fill="#b8d4ee"/><path d="M158.9 -111.2L173.6 -109.8L175.0 -102.4L164.8 -101.0L158.9 -105.4Z" fill="#b8d4ee"/><path d="M173.6 -101.0L188.2 -102.4L191.1 -95.1L179.4 -92.2L172.1 -95.1Z" fill="#d4728a"/><path d="M134.7 -84.9L144.3 -90.4L161.8 -91.9L166.2 -86.3L163.3 -79.0L148.7 -74.6L137.7 -78.3Z" fill="#fff"/><path d="M195.5 -114.2L211.7 -115.6L224.8 -106.8L226.3 -92.2L217.5 -86.3L202.9 -98.0L194.1 -106.8Z" fill="#d4728a"/><path d="M202.9 -103.9L214.6 -103.9L216.1 -92.2L205.8 -92.2Z" fill="#d4728a"/><path d="M166.2 -77.5L188.2 -84.9L217.5 -84.9L223.4 -68.7L220.4 -54.1L202.9 -48.2L182.4 -51.2L170.6 -62.9Z" fill="#d4728a"/><path d="M167.7 -70.2L176.5 -68.7L179.4 -62.9L170.6 -64.3Z" fill="#d4728a"/><path d="M195.5 -75.3L208.7 -74.6L208.7 -71.4L195.5 -72.1Z" fill="#d4728a"/><path d="M216.1 -73.1L223.7 -68.7L223.7 -59.7L217.5 -61.1Z" fill="#b8d4ee"/><path d="M208.7 -54.1L217.8 -55.6L217.8 -49.4L210.2 -47.9Z" fill="#b8d4ee"/><path d="M191.1 -83.4L197.0 -84.9L197.7 -77.5L192.6 -77.5Z" fill="#b8d4ee"/><path d="M202.9 -89.3L206.1 -90.0L206.8 -86.0L203.6 -85.3Z" fill="#b8d4ee"/><path d="M126.7 -71.7L144.3 -68.7L158.9 -54.1L164.8 -48.2L156.0 -39.4L148.7 -18.9L136.9 -45.3L129.6 -55.6Z" fill="#d4728a"/><path d="M142.8 -65.8L156.0 -58.5L156.0 -56.1L142.8 -62.6Z" fill="#d4728a"/><path d="M144.3 -54.1L150.1 -55.6L153.0 -48.2L147.2 -46.5Z" fill="#d4728a"/><path d="M153.0 -48.2L162.1 -49.7L162.1 -43.5L156.0 -39.1Z" fill="#d4728a"/><path d="M136.2 -45.3L140.6 -33.6L144.3 -24.8L141.3 -24.5L136.9 -35.0Z" fill="#b8d4ee"/><path d="M145.0 -39.4L148.7 -40.2L149.4 -35.8L145.7 -35.0Z" fill="#b8d4ee"/><path d="M144.3 -45.3L148.7 -43.8L149.4 -39.7L145.0 -40.2Z" fill="#b8d4ee"/><path d="M150.8 -21.1L154.8 -20.4L154.8 -13.8L151.6 -14.5Z" fill="#b8d4ee"/><path d="M109.1 -77.5L126.7 -79.0L129.6 -68.7L126.7 -55.6L109.1 -55.6Z" fill="#d4728a"/><path d="M100.3 -89.3L117.9 -86.3L126.7 -79.0L109.1 -77.5L100.3 -77.5Z" fill="#d4728a"/><path d="M169.2 -55.6L179.4 -54.1L182.4 -39.4L176.5 -35.0L172.1 -43.8Z" fill="#d4728a"/><path d="M182.4 -62.9L191.1 -64.3L194.1 -54.1L186.7 -51.2Z" fill="#b8d4ee"/><path d="M185.3 -43.8L197.0 -42.4L197.0 -33.6L188.2 -33.6Z" fill="#b8d4ee"/><path d="M188.2 -36.5L202.9 -39.4L207.3 -27.7L199.9 -20.4L191.1 -24.8Z" fill="#d4728a"/><path d="M194.1 -30.6L199.9 -30.6L199.9 -24.8L194.1 -24.8Z" fill="#d4728a"/><path d="M184.5 -24.8L191.1 -21.9L194.1 -11.6L189.7 -13.1Z" fill="#b8d4ee"/><path d="M191.1 -11.6L197.0 -10.1L198.5 -4.3L192.6 -5.7Z" fill="#d4728a"/><path d="M180.9 -12.3L191.1 -4.3L202.9 8.9L197.0 10.4L186.7 0.1Z" fill="#d4728a"/><path d="M207.3 -4.3L217.5 -11.6L224.8 -8.7L226.3 0.1L217.5 7.4L208.7 4.5Z" fill="#b8d4ee"/><path d="M211.7 0.1L220.4 -1.3L220.4 6.0L213.1 6.7Z" fill="#d4728a"/><path d="M194.1 10.4L232.2 14.8L232.2 17.0L194.1 13.3Z" fill="#d4728a"/><path d="M248.3 0.1L267.3 4.5L267.3 16.2L261.5 14.8L252.7 7.4Z" fill="#b8d4ee"/><path d="M267.3 4.5L277.6 10.4L280.5 19.9L267.3 16.2Z" fill="#d4728a"/><path d="M235.1 -27.7L238.8 -26.3L239.5 -16.0L236.6 -17.5Z" fill="#d4728a"/><path d="M225.6 -40.9L230.0 -40.2L230.7 -30.6L226.3 -32.1Z" fill="#b8d4ee"/><path d="M223.4 -84.9L229.2 -86.3L232.2 -77.5L226.3 -74.6Z" fill="#b8d4ee"/><path d="M238.0 -79.0L251.2 -83.4L251.2 -77.5L241.0 -73.1L235.1 -70.2L233.6 -72.4Z" fill="#b8d4ee" fill-opacity="0.7"/><path d="M244.6 -127.4L248.3 -125.9L249.8 -121.5L245.4 -122.2Z" fill="#b8d4ee"/><path d="M249.8 -121.5L257.1 -120.0L255.6 -114.2L251.2 -115.6Z" fill="#b8d4ee"/><path d="M224.1 -54.8L226.3 -55.6L226.6 -49.7L224.5 -49.4Z" fill="#b8d4ee"/><path d="M227.8 -7.2L232.2 -5.7L230.7 1.6L227.8 0.1Z" fill="#b8d4ee" fill-opacity="0.6"/><path d="M32.4 -6.9L52.9 -9.8L58.7 -1.1L55.8 12.1L47.0 23.9L32.4 20.9L29.4 6.3Z" fill="#d4728a"/><path d="M41.1 4.1L47.0 3.6L47.6 11.0L42.3 11.5Z" fill="#fff"/><path d="M48.5 16.5L55.8 10.7L60.2 3.3L66.1 4.8L67.5 13.6L74.8 18.0L75.6 29.7L67.5 37.0L58.7 34.1L52.9 26.8Z" fill="#b8d4ee"/><path d="M61.7 6.3L70.4 7.7L70.4 18.0L63.1 18.0Z" fill="#d4728a"/><path d="M26.5 28.3L41.1 25.3L44.1 29.7L29.4 31.5Z" fill="#b8d4ee"/><path d="M42.6 25.3L51.4 24.6L51.4 28.3L44.1 29.1Z" fill="#d4728a"/><path d="M23.6 12.9L27.2 13.6L28.7 18.0L25.0 17.4Z" fill="#d4728a"/><path d="M25.8 26.1L28.0 26.1L28.2 29.7L26.1 29.7Z" fill="#d4728a"/><path d="M17.0 -5.4L23.6 -11.3L26.5 -2.5L22.1 4.8L17.7 1.9Z" fill="#b8d4ee"/><path d="M23.6 -5.4L32.4 -6.9L30.9 1.9L23.6 3.3Z" fill="#b8d4ee"/><path d="M22.1 32.6L44.1 34.1L47.0 41.4L38.2 48.8L26.5 50.2Z" fill="#d4728a"/><path d="M26.5 51.0L38.2 48.8L47.0 41.4L55.8 48.8L57.3 59.0L49.9 70.7L33.8 75.4L29.4 62.0Z" fill="#d4728a"/><path d="M45.5 60.5L51.4 59.0L51.4 66.3L46.3 66.3Z" fill="#b8d4ee"/><path d="M46.3 66.3L52.9 62.0L54.6 67.8L48.5 72.5Z" fill="#b8d4ee"/><path d="M49.9 55.4L52.9 54.6L52.9 57.6L50.2 57.8Z" fill="#b8d4ee"/><path d="M32.4 70.7L44.1 67.8L44.1 72.2L34.5 75.4Z" fill="#b8d4ee"/><path d="M79.2 23.9L96.8 23.9L96.8 57.6L79.2 57.6Z" fill="#d4728a"/><path d="M84.4 32.6L91.0 28.3L94.2 29.7L91.0 37.0L85.8 37.3Z" fill="#b8d4ee"/><path d="M85.8 37.8L88.8 37.0L89.5 47.3L86.6 47.3Z" fill="#d4728a"/><path d="M64.6 -2.5L69.0 -3.3L69.7 1.9L65.3 2.6Z" fill="#b8d4ee"/><path d="M206.0 22.6L289.5 22.6L289.5 87.1L206.0 87.1Z" fill="#b8d4ee"/><path d="M242.6 45.4L247.0 44.9L245.5 47.6L241.9 47.6Z" fill="#fff"/><path d="M239.7 50.2L244.1 49.8L243.3 52.0L239.4 52.0Z" fill="#fff"/><path d="M237.5 57.1L242.6 56.3L244.1 60.0L237.9 60.7Z" fill="#fff"/><path d="M252.1 52.7L255.8 52.0L255.1 55.6L251.4 55.6Z" fill="#fff"/><path d="M249.9 84.2L261.7 84.2L261.7 95.9L249.9 95.9Z" fill="#b8d4ee"/><path d="M280.7 72.5L318.8 72.5L318.8 101.8L280.7 101.8Z" fill="#b8d4ee"/><path d="M197.2 8.0L232.4 13.1L261.7 10.9L261.7 21.2L232.4 21.2L197.2 16.8Z" fill="#d4728a"/><path d="M226.5 -11.1L244.1 -9.6L244.1 10.9L232.4 10.9L226.5 -0.8Z" fill="#d4728a" fill-opacity="0.55"/><path d="M234.5 -27.2L240.4 -26.4L241.1 -14.0L236.0 -15.4Z" fill="#d4728a"/><path d="M332.0 34.4L339.3 34.4L339.3 40.2L332.0 40.2Z" fill="#d4728a"/><path d="M232.2 -131.0L252.7 -136.1L267.3 -134.7L261.5 -129.6L257.8 -113.4L249.8 -110.9L244.6 -121.5L241.0 -129.1Z" fill="#b8d4ee"/><path d="M244.6 -127.4L248.3 -125.9L249.8 -121.5L245.4 -122.2Z" fill="#b8d4ee"/><path d="M243.9 -93.7L248.3 -92.2L249.8 -83.4L246.8 -80.5Z" fill="#b8d4ee" fill-opacity="0.6"/><path d="M241.0 -111.2L245.4 -109.8L246.8 -98.0L243.9 -98.0Z" fill="#b8d4ee" fill-opacity="0.6"/><path d="M179.4 -13.1L188.2 -11.6L205.8 7.4L201.4 11.8L194.1 8.9L183.8 -1.3Z" fill="#d4728a"/><path d="M188.2 -10.1L194.1 -7.2L202.9 4.5L199.9 6.0L191.1 -4.3Z" fill="#d4728a"/><path d="M222.6 -86.3L230.0 -87.5L232.9 -77.5L226.3 -73.9Z" fill="#b8d4ee"/><path d="M-36.5 -143.5L-18.9 -143.5L-18.9 -134.7L-36.5 -134.7Z" fill="#b8d4ee"/>
</g>
<use href="#wp" fill="#fff"/><use href="#sp" fill="#fff"/>
<path d="M-139.7 -157.6L-127.7 -162.6L-105.7 -166.3L-83.7 -168.3L-71.7 -168.8L-83.7 -165.5L-103.7 -161.8L-123.7 -158.1L-135.7 -156.3Z" fill="#b8d4ee"/>
</g>
<g transform="translate(436.1 628.4)">
<use href="#lp" fill="#fff" stroke="#d9d9d9" stroke-width="0.5"/>
<g clip-path="url(#land)">
<path d="M-35.4 -80.8L20.2 -83.7L52.5 -77.8L71.5 -48.5L97.9 -29.5L81.8 19.6L15.8 19.6L12.9 -7.5L-20.8 -7.5L-35.4 -33.9Z" fill="#c6a265"/><path d="M8.5 -20.4L96.4 -20.4L81.8 8.9L77.4 38.2L61.3 55.8L52.5 70.4L33.4 76.3L20.2 38.2L23.2 23.6L12.9 -5.7Z" fill="#cfb07c"/><path d="M99.9 -168.7L143.9 -158.4L173.2 -157.0L231.8 -151.1L265.5 -135.0L246.4 -118.9L231.8 -98.3L225.9 -86.6L224.4 -63.2L217.1 -48.5L205.4 -39.7L208.3 -19.2L187.8 -11.9L173.2 -33.9L161.4 -48.5L148.3 -17.8L135.1 -48.5L99.9 -54.4Z" fill="#cfb07c"/><path d="M-261.2 -138.3L-251.4 -144.8L-244.8 -141.1L-254.6 -136.7Z" fill="#c6a265"/><path d="M-247.3 -129.1L-237.0 -136.4L-216.5 -137.9L-210.6 -132.0L-213.6 -121.8L-226.7 -127.7L-241.4 -124.0Z" fill="#4090ba" fill-opacity="0.5"/><path d="M-231.1 -141.6L-223.8 -145.2L-206.2 -148.9L-196.7 -145.5L-209.2 -141.6L-219.4 -139.7Z" fill="#2d7fb0"/><path d="M-215.8 -111.5L-213.6 -118.9L-211.8 -122.5L-208.9 -129.9L-194.8 -141.6L-190.1 -141.6L-196.7 -130.6L-193.0 -130.3L-184.0 -136.0L-177.2 -136.0L-181.3 -130.3L-185.4 -125.0L-178.4 -128.4L-167.4 -133.8L-157.2 -133.7L-161.5 -126.9L-163.0 -121.5L-162.0 -115.6L-165.9 -110.1L-160.8 -106.0L-181.3 -62.7L-182.8 -54.7L-188.7 -59.8L-196.0 -67.1L-201.8 -68.3L-214.3 -70.8L-225.3 -77.8L-226.7 -92.5L-219.4 -111.5Z" fill="#2d7fb0"/><path d="M-216.5 -98.3L-187.2 -101.3L-178.4 -92.5L-179.9 -77.8L-184.3 -63.2L-201.8 -68.3L-214.3 -70.8L-220.9 -85.2Z" fill="#1a639d"/><path d="M-161.5 -106.0L-165.9 -110.1L-157.9 -111.2L-147.6 -118.6L-145.4 -115.6L-150.6 -109.8L-138.8 -111.2L-128.6 -114.2L-119.8 -109.8L-111.0 -111.2L-105.1 -117.7L-102.5 -112.7L-94.6 -115.6L-90.2 -111.2L-89.3 -101.6L-99.3 -104.9L-109.5 -98.1L-113.9 -94.2L-128.6 -77.5L-143.2 -62.9L-147.6 -48.2L-155.0 -51.2L-155.0 -62.9L-172.5 -58.5L-181.3 -62.7Z" fill="#4090ba"/><path d="M-162.9 -106.3L-156.1 -103.9L-166.7 -77.8L-174.0 -63.9L-181.3 -61.9L-182.8 -62.7Z" fill="#2d7fb0"/><path d="M-157.9 -100.5L-143.2 -107.1L-128.6 -110.1L-121.3 -104.2L-131.5 -95.4L-143.2 -92.5L-153.5 -92.5Z" fill="#77aec9"/><path d="M-157.9 -79.3L-143.2 -85.2L-141.0 -83.4L-155.0 -77.5Z" fill="#c6a265"/><path d="M-166.7 -70.5L-160.8 -75.6L-155.0 -74.9L-155.7 -71.2L-160.8 -66.8L-165.9 -66.8Z" fill="#c6a265"/><path d="M-170.8 -75.2L-167.4 -75.6L-167.4 -72.7L-170.8 -72.3Z" fill="#c6a265"/><path d="M-115.4 -102.0L-109.5 -102.7L-102.2 -99.8L-113.9 -93.7Z" fill="#c6a265"/><path d="M-109.5 -116.7L-105.1 -117.4L-105.1 -112.3L-108.8 -111.5Z" fill="#c6a265"/><path d="M-97.1 -115.2L-91.2 -115.2L-89.8 -101.3L-97.8 -103.5Z" fill="#c6a265"/><path d="M-216.5 -71.5L-201.8 -68.3L-196.0 -67.1L-188.7 -59.8L-182.8 -54.7L-183.5 -48.5L-179.9 -42.7L-172.5 -44.1L-160.8 -48.5L-159.3 -39.7L-172.5 -35.3L-181.3 -35.3L-193.0 -39.7L-201.8 -48.5L-210.6 -63.2Z" fill="#cfb07c"/><path d="M-215.0 -70.8L-209.9 -70.1L-203.3 -48.8L-208.4 -48.8Z" fill="#262f70"/><path d="M-207.0 -68.3L-200.4 -67.6L-199.6 -63.2L-201.8 -56.6L-204.8 -58.8Z" fill="#262f70"/><path d="M-192.3 -61.7L-187.2 -63.9L-183.5 -57.3L-187.2 -51.5L-191.6 -54.4Z" fill="#262f70"/><path d="M-200.4 -64.6L-197.4 -64.6L-187.2 -48.5L-190.1 -44.1L-195.2 -51.5Z" fill="#b08a3e"/><path d="M-195.2 -42.7L-187.2 -41.2L-178.4 -35.3L-184.3 -33.9L-193.0 -37.5Z" fill="#6b2a15"/><path d="M-172.5 -44.1L-163.7 -46.3L-165.2 -39.7L-172.5 -37.5Z" fill="#cfb07c"/><path d="M-178.4 -35.3L-166.7 -33.9L-157.9 -32.4L-157.9 -25.1L-163.7 -22.2L-172.5 -29.5Z" fill="#79391c"/><path d="M-163.7 -32.4L-157.9 -32.4L-157.9 -25.1L-162.3 -23.6Z" fill="#5c1a0f"/><path d="M-163.7 -25.1L-149.1 -19.5L-151.3 -16.3L-165.2 -22.2Z" fill="#8c5426"/><path d="M-159.3 -50.7L-146.2 -49.3L-134.4 -42.7L-139.6 -40.5L-157.9 -45.9Z" fill="#c6a265"/><path d="M-138.8 -43.0L-128.6 -41.9L-128.6 -38.7L-138.8 -39.4Z" fill="#79391c"/><path d="M-124.2 -41.9L-119.8 -41.9L-119.8 -39.0L-124.2 -39.0Z" fill="#c5dce4"/><path d="M-151.7 -24.5L-138.6 -27.5L-112.2 -21.6L-94.6 -5.5L-63.8 13.6L-71.2 35.5L-88.7 63.4L-97.5 81.0L-106.3 122.0L-123.9 116.1L-135.6 42.9L-157.6 10.6L-153.2 -12.8Z" fill="#cfb07c"/><path d="M-144.4 -26.0L-118.0 -22.3L-111.5 -15.7L-118.0 -14.0L-129.8 -18.4L-141.5 -16.9Z" fill="#7f4320"/><path d="M-144.7 -21.6L-140.0 -22.3L-138.3 -12.8L-141.5 -2.6L-144.4 -8.4Z" fill="#2270a7"/><path d="M-149.6 -2.6L-141.5 -4.0L-140.0 15.3L-129.8 18.2L-135.6 21.2L-144.4 13.6L-150.3 6.2Z" fill="#dce8e9"/><path d="M-141.5 -3.3L-135.6 -14.3L-129.5 -14.6L-128.0 -7.0L-121.0 -2.3L-112.2 -4.0L-106.3 -1.1L-97.5 -1.1L-88.7 3.3L-91.4 12.1L-94.6 19.4L-97.5 28.5L-106.3 30.0L-112.2 28.5L-121.0 22.6L-129.8 18.2L-140.0 15.3L-141.5 7.7Z" fill="#1a639d"/><path d="M-129.8 -14.0L-120.2 -15.7L-117.8 -5.5L-120.1 -1.7L-128.3 -6.1Z" fill="#e9e6da"/><path d="M-141.5 -1.1L-135.6 -8.4L-131.2 -4.0L-131.2 7.7L-135.6 18.0L-141.5 13.6Z" fill="#dce8e9"/><path d="M-106.3 3.6L-100.5 2.1L-91.7 12.1L-90.2 25.3L-97.5 28.2L-99.0 35.5L-109.3 37.0L-115.1 31.1L-109.3 25.3L-104.9 18.0Z" fill="#5a9dc2"/><path d="M-103.4 25.3L-94.6 19.4L-90.2 25.3L-97.5 28.5L-99.0 35.8L-106.3 34.1Z" fill="#a9cedd"/><path d="M-115.9 -15.7L-112.2 -15.7L-111.5 -4.0L-115.1 -4.0Z" fill="#79391c"/><path d="M-111.5 -12.1L-104.9 -12.8L-104.1 -6.2L-110.7 -5.8Z" fill="#5c1a0f"/><path d="M-104.1 -11.4L-98.7 -9.9L-97.2 -2.3L-102.5 -2.3Z" fill="#c6a265"/><path d="M-90.9 4.0L-82.9 3.3L-74.1 7.0L-67.5 13.6L-71.2 22.3L-75.6 31.1L-82.9 34.1L-87.3 25.3L-90.9 12.1Z" fill="#6b2a15"/><path d="M-84.3 18.0L-78.5 10.6L-69.7 12.1L-69.7 18.0L-75.6 25.3L-78.5 31.1L-82.9 28.2Z" fill="#5c1a0f"/><path d="M-82.9 12.1L-78.5 11.4L-78.2 18.2L-82.0 19.4Z" fill="#a9cedd"/><path d="M-109.3 37.3L-97.5 35.8L-87.3 28.2L-75.6 34.1L-75.6 42.9L-82.9 51.7L-91.7 51.7L-103.1 51.9L-112.2 46.1Z" fill="#c6a265"/><path d="M-107.8 48.7L-103.4 49.5L-101.9 56.0L-106.3 56.0Z" fill="#6b2a15"/><path d="M-104.9 54.6L-91.7 51.7L-90.9 59.0L-103.4 61.9Z" fill="#dfcdae"/><path d="M-156.1 7.7L-150.3 6.2L-135.6 20.9L-123.9 32.6L-118.0 39.9L-123.9 42.9L-135.6 32.6L-148.8 20.9Z" fill="#a47a2f"/><path d="M-128.3 25.3L-121.0 26.7L-118.0 34.1L-125.4 32.6Z" fill="#6b2a15"/><path d="M-137.1 25.3L-131.2 26.7L-131.2 31.1L-135.6 29.7Z" fill="#c5dce4"/><path d="M-129.8 38.5L-121.0 39.9L-118.0 47.3L-126.8 48.7Z" fill="#dfcdae"/><path d="M-121.0 41.4L-116.6 40.7L-116.6 45.8L-120.2 46.5Z" fill="#79391c"/><path d="M-133.9 38.5L-126.8 39.9L-123.9 48.7L-118.0 51.7L-115.1 63.4L-112.2 83.9L-110.4 85.4L-111.9 101.5L-113.4 110.6L-106.3 117.9L-112.2 116.1L-121.0 104.7L-126.8 81.0L-131.2 72.2Z" fill="#25397c"/><path d="M-123.9 48.7L-112.2 42.9L-106.3 57.5L-106.3 72.2L-102.7 79.5L-104.9 83.9L-112.2 85.4L-115.1 72.2L-123.9 72.2Z" fill="#25397c"/><path d="M-118.0 41.4L-110.7 42.9L-109.3 50.2L-116.6 51.7Z" fill="#c5dce4"/><path d="M-118.0 51.7L-112.2 51.7L-106.3 57.5L-106.3 72.2L-102.7 79.5L-104.9 83.9L-110.7 83.9L-115.1 72.2L-116.6 63.4Z" fill="#77aec9"/><path d="M-110.7 57.5L-104.9 57.5L-104.9 72.2L-101.9 78.0L-106.3 82.4L-109.3 72.2Z" fill="#a9cedd"/><path d="M-131.5 76.6L-126.8 78.8L-122.4 104.7L-112.2 116.1L-106.3 120.5L-112.2 120.5L-123.9 110.3L-130.1 94.1Z" fill="#cfb07c"/><path d="M-32.5 -48.5L-26.7 -60.3L-16.4 -64.6L-7.6 -76.4L-16.4 -77.8L-28.1 -66.1L-34.0 -48.5L-31.1 -35.3L-16.4 -42.7L-12.0 -54.4Z" fill="#dfcdae"/><path d="M-31.1 -35.3L-16.4 -42.7L-12.0 -54.4L5.6 -41.9L20.2 -50.7L45.1 -43.4L45.1 -47.1L67.1 -47.1L71.5 -33.9L67.1 -32.1L52.5 -28.0L40.7 -27.1L23.2 -28.0L-6.1 -31.7L-31.1 -33.6Z" fill="#77aec9"/><path d="M-16.7 -64.4L-8.8 -74.9L2.6 -77.8L18.8 -79.3L20.5 -69.0L17.6 -57.0L20.5 -51.5L5.6 -42.4L-16.4 -58.5Z" fill="#cfb07c"/><path d="M-3.2 -77.1L18.8 -80.8L18.8 -77.8L-1.7 -74.6Z" fill="#6b2a15"/><path d="M2.6 -75.6L7.8 -77.1L8.5 -72.0L3.4 -71.2Z" fill="#a9cedd"/><path d="M20.8 -72.1L20.9 -70.0L18.8 -68.5L18.7 -65.9L17.4 -65.2L18.2 -61.6L18.3 -57.2L17.4 -56.6L18.6 -52.9L21.4 -52.5L22.3 -50.8L26.5 -48.8L28.0 -49.7L29.8 -50.6L45.0 -42.1L45.0 -43.2L46.8 -43.2L46.7 -47.5L45.9 -63.1L45.2 -65.2L45.9 -68.3L45.6 -72.4L32.5 -73.4L20.8 -73.4Z" fill="#25397c"/><path d="M45.8 -70.2L45.9 -68.3L45.2 -65.2L45.9 -63.1L46.7 -47.5L70.0 -47.5L67.0 -51.8L65.0 -58.3L64.8 -60.9L64.0 -63.7L62.4 -67.6L59.9 -70.2Z" fill="#fff"/><path d="M46.6 -47.1L59.1 -47.1L59.1 -36.1L51.0 -36.1L51.0 -43.4L46.6 -43.4Z" fill="#dfcdae"/><path d="M-33.7 -33.1L-6.1 -31.7L23.2 -28.0L40.7 -26.8L52.5 -28.0L67.1 -32.1L72.2 -33.9L77.4 -26.6L68.9 -22.9L52.5 -20.7L40.7 -20.0L23.2 -20.7L-6.1 -25.1L-33.7 -28.0Z" fill="#b08a3e"/><path d="M-31.1 -25.8L-13.5 -21.4L8.5 -20.0L23.2 -18.5L43.7 -17.8L61.5 -10.4L58.6 -7.9L43.7 -14.1L23.2 -15.1L8.5 -16.6L-13.5 -18.1L-31.1 -22.9Z" fill="#93bfd5"/><path d="M-14.9 -21.4L-1.7 -22.2L-1.7 -16.3L-12.0 -13.4Z" fill="#c5dce4"/><path d="M6.3 -15.6L18.8 -14.8L23.2 -10.4L26.1 -4.6L33.4 -6.8L32.0 8.6L23.2 10.1L21.7 1.3L18.8 -10.4L8.5 -11.9Z" fill="#5c1a0f"/><path d="M18.8 -14.8L23.2 -14.1L23.9 -6.0L20.2 -6.0Z" fill="#5c1a0f"/><path d="M29.0 -6.8L33.4 -6.8L32.0 2.8L28.3 2.0Z" fill="#5c1a0f"/><path d="M-7.6 -14.1L-1.7 -14.8L-1.7 -11.9L-6.9 -11.2Z" fill="#5c1a0f"/><path d="M15.8 -4.6L21.7 -4.6L22.4 8.6L17.3 8.6Z" fill="#dfcdae"/><path d="M16.6 -1.6L20.2 -2.4L21.0 5.7L17.3 6.4Z" fill="#2270a7"/><path d="M32.0 -7.5L52.5 -10.4L58.6 2.8L55.7 19.6L32.0 19.6Z" fill="#b9954f"/><path d="M40.7 3.9L46.9 3.5L47.5 11.2L41.9 11.8Z" fill="#fff"/><path d="M-28.1 -52.6L-23.4 -54.1L-22.8 -48.5L-27.2 -47.7Z" fill="#fff"/><path d="M75.9 -7.5L82.5 -19.2L96.4 -26.6L90.6 -11.9L81.8 -0.2L77.4 4.2Z" fill="#77aec9"/><path d="M72.2 -33.9L77.4 -26.6L82.5 -19.2L78.8 -19.2L73.0 -26.6Z" fill="#77aec9"/><path d="M77.4 -4.6L87.6 -7.5L81.8 2.8L77.4 4.5Z" fill="#b9954f"/><path d="M57.6 -7.2L64.2 -8.7L67.1 2.8L65.7 19.6L52.5 19.6L58.6 2.8Z" fill="#a9cedd"/><path d="M62.7 -79.3L80.3 -85.2L84.7 -72.0L89.8 -61.7L81.8 -63.2L70.0 -67.3Z" fill="#dfcdae"/><path d="M65.7 -73.4L73.0 -72.0L71.5 -64.6L65.7 -66.1Z" fill="#a9cedd"/><path d="M63.7 -60.5L64.0 -63.5L66.1 -63.1L68.7 -64.8L67.4 -68.0L71.0 -69.1L73.5 -68.9L76.6 -67.2L82.1 -63.1L85.4 -62.8L87.4 -61.8L89.0 -61.6L91.3 -59.4L93.4 -57.2L93.5 -54.6L94.3 -53.6L95.9 -52.5L98.1 -49.5L102.8 -48.8L103.8 -47.5L103.1 -43.2L97.6 -41.0L92.0 -40.2L89.4 -36.9L87.5 -37.1L83.8 -37.6L81.5 -37.8L81.0 -35.6L79.7 -35.4L76.1 -40.0L72.0 -46.4L67.8 -54.0Z" fill="#25397c"/><path d="M79.6 -36.5L96.7 -41.2L98.2 -35.1L83.5 -27.7Z" fill="#c5dce4"/><path d="M97.9 -42.7L102.3 -51.5L110.3 -49.3L105.5 -39.0L100.8 -36.1Z" fill="#4090ba"/><path d="M49.5 -92.5L71.8 -93.2L81.8 -86.6L87.6 -76.4L67.1 -80.8L52.5 -83.0Z" fill="#c6a265"/><path d="M52.5 -90.3L62.7 -91.0L67.1 -85.2L61.3 -80.8L55.4 -83.7Z" fill="#5c1a0f"/><path d="M67.1 -85.2L81.8 -83.7L87.6 -76.4L81.8 -77.5L70.0 -81.9Z" fill="#6b2a15"/><path d="M87.6 -77.8L99.4 -79.3L105.2 -69.0L105.2 -55.9L96.4 -55.9L89.1 -63.2Z" fill="#4090ba"/><path d="M99.4 -69.0L108.1 -66.1L115.5 -58.8L105.2 -55.9L99.4 -58.8Z" fill="#cfb07c"/><path d="M108.1 -77.8L125.7 -74.9L137.4 -63.2L134.5 -54.4L122.8 -55.9L115.5 -58.8L108.1 -66.1Z" fill="#77aec9"/><path d="M95.0 -95.4L111.1 -96.2L119.9 -86.6L111.1 -77.8L99.4 -79.3L90.6 -89.6Z" fill="#93bfd5"/><path d="M111.1 -77.8L122.8 -79.3L124.3 -72.0L114.0 -71.2Z" fill="#b9954f"/><path d="M125.7 -54.4L149.9 -63.2L149.9 -19.2L140.4 -33.9L133.1 -45.6Z" fill="#cfb07c"/><path d="M-20.8 -145.2L32.0 -152.6L40.7 -146.7L43.7 -136.4L37.8 -113.0L43.7 -98.3L52.5 -89.6L32.0 -77.8L11.4 -83.7L-1.7 -94.0L-19.3 -92.5L-20.8 -121.8Z" fill="#77aec9"/><path d="M-17.1 -92.5L-13.5 -93.2L-14.2 -80.8L-17.1 -83.0Z" fill="#c6a265"/><path d="M-14.9 -91.0L-1.7 -93.2L2.9 -90.7L-1.7 -81.9L-12.0 -79.0L-15.7 -83.0Z" fill="#262f70"/><path d="M-18.6 -117.4L-10.5 -118.9L-10.5 -111.5L-17.9 -110.8Z" fill="#c6a265"/><path d="M40.7 -146.7L61.3 -145.2L87.6 -145.2L90.6 -136.4L90.6 -118.9L81.8 -110.1L71.5 -107.1L61.3 -98.3L52.5 -92.5L43.7 -98.3L37.8 -113.0L43.7 -136.4Z" fill="#cfb07c"/><path d="M52.5 -129.1L61.3 -130.6L71.5 -129.1L67.1 -110.1L55.4 -111.5L51.0 -118.9Z" fill="#77aec9"/><path d="M37.8 -115.9L49.5 -118.9L52.5 -110.1L43.7 -104.2L37.8 -108.6Z" fill="#b08a3e"/><path d="M32.0 -104.2L43.7 -104.2L49.5 -92.5L40.7 -86.6L34.9 -92.5Z" fill="#cfb07c"/><path d="M90.6 -151.1L99.4 -152.6L111.1 -142.3L116.9 -140.8L115.5 -136.4L124.3 -132.0L111.1 -121.8L96.4 -117.4L90.6 -118.9L87.6 -136.4Z" fill="#77aec9"/><path d="M95.0 -118.9L109.6 -122.5L110.6 -117.1L98.2 -114.5Z" fill="#2270a7"/><path d="M105.2 -154.0L125.7 -158.4L149.9 -155.5L149.9 -118.9L125.7 -121.8L124.3 -132.0L115.5 -136.4L116.9 -140.8L111.1 -142.3Z" fill="#cfb07c"/><path d="M115.5 -129.1L140.4 -130.6L149.9 -127.7L149.9 -123.3L115.5 -125.5Z" fill="#a47a2f"/><path d="M70.0 -157.0L84.7 -159.9L86.2 -157.0L74.4 -151.1L71.5 -149.6Z" fill="#b9954f"/><path d="M67.1 -121.8L90.6 -118.9L96.4 -117.4L111.1 -121.8L125.7 -121.8L140.4 -114.5L139.2 -107.1L131.9 -114.5L123.1 -118.1L111.4 -118.9L96.7 -115.9L90.9 -113.7L77.7 -113.0L70.0 -108.6Z" fill="#dfcdae"/><path d="M70.0 -108.6L77.7 -113.0L90.9 -113.7L96.7 -115.9L111.4 -118.9L123.1 -118.1L131.9 -114.5L139.2 -107.1L136.3 -98.1L126.0 -92.2L118.4 -92.2L125.7 -98.3L131.6 -105.7L122.8 -111.5L111.1 -112.3L96.4 -108.6L81.8 -107.1L77.4 -102.7L78.8 -96.9L73.3 -98.1Z" fill="#b08a3e"/><path d="M78.8 -104.2L96.7 -108.6L111.4 -112.3L123.1 -111.5L131.6 -105.7L125.7 -98.3L117.2 -92.5L96.7 -95.4L86.5 -98.1L80.3 -98.1Z" fill="#4090ba"/><path d="M106.4 -105.4L111.1 -108.6L125.7 -108.6L130.4 -103.9L126.0 -100.3L109.9 -100.3Z" fill="#262f70"/><path d="M148.3 -151.1L161.4 -153.3L187.8 -151.8L217.1 -148.9L240.6 -146.0L258.1 -137.2L252.3 -132.0L234.7 -129.9L217.1 -131.3L214.2 -125.5L202.5 -126.9L190.7 -124.0L176.1 -130.6L165.8 -135.7L158.5 -143.0Z" fill="#2270a7"/><path d="M224.4 -139.4L240.6 -146.0L258.4 -137.2L252.3 -131.8L234.7 -129.9L227.4 -133.5Z" fill="#77aec9"/><path d="M176.1 -130.6L190.7 -124.0L202.5 -126.9L214.2 -125.5L217.1 -115.9L228.8 -114.5L231.8 -98.3L227.4 -94.0L224.4 -104.2L217.1 -107.1L202.5 -111.5L187.8 -114.5Z" fill="#77aec9"/><path d="M184.9 -101.3L202.5 -107.1L215.7 -102.7L217.1 -92.5L208.3 -77.8L196.6 -79.3L193.7 -92.5Z" fill="#a9cedd"/><path d="M246.4 -130.6L258.1 -135.0L265.5 -133.5L255.2 -129.1L256.7 -115.9L250.8 -115.9L246.4 -123.3Z" fill="#c6a265"/><path d="M129.2 -98.3L158.5 -102.7L164.4 -94.0L143.9 -92.5L130.7 -86.6Z" fill="#e5dcc8" fill-opacity="0.7"/><path d="M161.4 -104.2L182.0 -105.7L190.7 -98.3L187.8 -91.0L173.2 -92.5L164.4 -96.9Z" fill="#cfb07c"/><path d="M160.0 -110.8L173.2 -108.6L182.0 -104.2L179.0 -102.0L168.8 -105.7L160.0 -108.3Z" fill="#6b2a15"/><path d="M130.7 -86.6L143.9 -92.5L162.9 -93.7L167.6 -86.6L164.4 -77.5L148.3 -73.1L133.6 -77.8Z" fill="#fff"/><path d="M133.6 -77.8L148.3 -73.1L164.4 -77.5L168.8 -72.0L155.6 -69.0L143.9 -69.0Z" fill="#a9cedd"/><path d="M114.6 -69.0L133.6 -70.5L138.0 -58.8L138.0 -51.5L129.2 -48.5L120.4 -55.9Z" fill="#93bfd5"/><path d="M138.0 -58.8L149.7 -63.2L158.5 -54.4L155.6 -48.5L143.9 -47.1L138.0 -51.5Z" fill="#cfb07c"/><path d="M135.1 -72.0L143.9 -64.6L158.5 -57.3L164.4 -51.5L162.9 -48.5L155.6 -55.9L142.4 -63.2L134.3 -69.8Z" fill="#6b2a15"/><path d="M136.5 -48.5L146.8 -47.8L146.8 -39.7L140.9 -36.8Z" fill="#a9cedd"/><path d="M148.3 -48.5L158.5 -51.5L164.4 -48.5L155.6 -39.7L149.7 -33.9Z" fill="#c5dce4"/><path d="M139.5 -36.8L149.7 -35.3L151.2 -28.0L146.8 -19.2L142.4 -25.1Z" fill="#dfcdae"/><path d="M144.6 -41.9L149.7 -43.4L151.9 -37.5L146.8 -36.1Z" fill="#6b2a15"/><path d="M145.3 -26.6L150.4 -28.0L149.0 -19.2L146.5 -19.2Z" fill="#93bfd5"/><path d="M135.8 -45.6L140.2 -33.9L143.9 -25.1L141.7 -24.8L136.5 -35.3Z" fill="#93bfd5"/><path d="M150.4 -21.4L154.4 -20.7L154.4 -14.1L151.2 -14.8Z" fill="#c6a265"/><path d="M99.9 -89.6L117.5 -86.6L126.3 -79.3L108.7 -77.8L99.9 -77.8Z" fill="#93bfd5"/><path d="M111.6 -77.8L121.9 -79.3L123.3 -72.0L114.6 -70.5Z" fill="#b9954f"/><path d="M99.9 -66.1L108.7 -67.6L114.6 -58.8L105.8 -55.9L99.9 -57.3Z" fill="#cfb07c"/><path d="M162.9 -69.0L176.1 -70.5L187.8 -66.1L193.7 -54.4L187.8 -48.5L176.1 -51.5L165.8 -60.3Z" fill="#96652a"/><path d="M165.8 -67.6L176.1 -69.0L182.0 -63.2L179.0 -55.9L170.2 -60.3Z" fill="#6b2a15"/><path d="M189.3 -74.9L202.5 -77.8L215.7 -73.4L217.1 -63.2L211.3 -54.4L202.5 -48.5L193.7 -54.4L187.8 -66.1Z" fill="#5c1a0f"/><path d="M199.5 -66.1L211.3 -67.6L212.7 -55.9L202.5 -51.5Z" fill="#b9954f"/><path d="M208.3 -52.9L217.1 -55.1L217.1 -49.3L209.8 -47.8Z" fill="#1a639d"/><path d="M215.7 -67.6L223.0 -66.1L223.0 -58.8L217.1 -58.8Z" fill="#4090ba"/><path d="M208.3 -92.5L217.1 -94.0L224.4 -92.5L224.4 -83.7L217.1 -86.6L211.3 -85.2Z" fill="#6b2a15"/><path d="M223.0 -85.2L228.8 -86.6L231.8 -77.8L225.9 -74.9Z" fill="#c6a265"/><path d="M233.2 -72.7L237.6 -79.3L250.8 -83.7L250.8 -77.8L240.6 -73.4L236.2 -69.0Z" fill="#c6a265" fill-opacity="0.8"/><path d="M243.5 -94.0L247.9 -92.5L249.4 -83.7L246.4 -80.8Z" fill="#c6a265" fill-opacity="0.7"/><path d="M168.8 -55.9L179.0 -54.4L182.0 -39.7L176.1 -35.3L171.7 -44.1Z" fill="#6b2a15"/><path d="M182.0 -44.1L193.7 -42.7L202.5 -33.9L205.4 -26.6L199.5 -20.7L190.7 -25.1L184.9 -33.9Z" fill="#5c1a0f"/><path d="M184.1 -25.1L190.7 -22.2L193.7 -11.9L189.3 -13.4Z" fill="#2d7fb0"/><path d="M190.7 -11.9L196.6 -10.4L198.1 -4.6L192.2 -6.0Z" fill="#e9e6da"/><path d="M180.5 -12.6L190.7 -4.6L202.5 8.6L196.6 10.1L186.3 -0.2Z" fill="#dce8e9"/><path d="M193.7 1.3L202.5 8.6L196.6 10.1L192.2 5.7Z" fill="#cfb07c"/><path d="M206.9 -4.6L217.1 -11.9L224.4 -9.0L225.9 -0.2L217.1 7.1L208.3 4.2Z" fill="#2270a7"/><path d="M211.3 -0.2L220.0 -1.6L220.0 5.7L212.7 6.4Z" fill="#cfb07c"/><path d="M193.7 10.1L231.8 14.5L231.8 16.7L193.7 13.0Z" fill="#a47a2f"/><path d="M247.9 -0.2L266.9 4.2L266.9 15.9L261.1 14.5L252.3 7.1Z" fill="#2d7fb0"/><path d="M266.9 4.2L277.2 10.1L280.1 19.6L266.9 15.9Z" fill="#5c1a0f"/><path d="M225.2 -41.2L229.6 -40.5L230.3 -30.9L225.9 -32.4Z" fill="#1a639d"/><path d="M234.7 -28.0L238.4 -26.6L239.1 -16.3L236.2 -17.8Z" fill="#79391c"/><path d="M223.7 -55.1L225.9 -55.9L226.2 -50.0L224.1 -49.7Z" fill="#cfb07c"/><path d="M81.8 -20.4L96.4 -20.4L90.6 -11.6L81.8 -4.3L77.4 -1.4L78.8 -11.6Z" fill="#77aec9"/><path d="M77.4 -11.6L87.6 -14.5L81.8 -4.3L77.4 -2.1Z" fill="#b9954f"/><path d="M32.0 -7.2L52.5 -10.1L58.3 -1.4L55.4 11.8L46.6 23.6L32.0 20.6L29.0 6.0Z" fill="#b9954f"/><path d="M40.7 3.8L46.6 3.3L47.2 10.7L41.9 11.2Z" fill="#fff"/><path d="M18.8 -14.5L24.6 -11.6L26.1 -4.3L34.1 -7.2L32.0 8.9L23.2 9.6L21.7 1.6L18.8 -8.7Z" fill="#5c1a0f"/><path d="M26.8 12.6L30.5 13.3L30.5 17.7L27.6 17.4Z" fill="#5c1a0f"/><path d="M15.8 -4.3L22.4 -4.3L22.4 8.9L17.3 8.9Z" fill="#dfcdae"/><path d="M16.6 -1.4L20.2 -2.1L21.0 6.0L17.3 6.7Z" fill="#1a639d"/><path d="M46.6 16.2L52.5 11.8L61.3 14.8L62.7 23.6L56.9 28.0L51.0 29.4Z" fill="#93bfd5"/><path d="M56.9 -8.7L62.7 -7.2L65.7 3.0L61.3 13.3L56.9 8.9Z" fill="#a9cedd"/><path d="M26.1 28.7L36.3 24.3L43.7 25.0L40.7 30.1L27.6 31.6Z" fill="#c5dce4"/><path d="M24.6 33.1L46.6 32.3L46.6 36.0L25.4 37.0Z" fill="#b08a3e"/><path d="M67.1 13.3L75.9 8.9L75.9 29.4L67.1 38.2L61.3 41.1L65.7 30.9L64.2 20.6Z" fill="#93bfd5"/><path d="M49.5 36.7L58.3 33.8L64.2 42.6L58.3 48.5L52.5 44.1Z" fill="#b08a3e"/><path d="M26.1 38.2L46.6 36.7L52.5 44.1L55.4 48.5L46.6 52.9L37.8 55.8L27.6 52.9Z" fill="#e5dcc8"/><path d="M26.8 54.3L37.8 55.8L46.6 52.9L52.5 51.4L49.5 58.7L43.7 66.0L33.4 73.4L29.8 64.6Z" fill="#a9cedd"/><path d="M40.7 70.4L55.4 61.7L59.1 61.7L51.0 71.9L45.1 73.4Z" fill="#e5dcc8"/><path d="M45.1 57.3L52.5 49.9L58.3 49.9L59.1 58.7L52.5 64.6L51.0 58.0Z" fill="#e9e6da"/><path d="M45.9 60.9L51.0 58.0L53.2 63.1L51.0 68.7L47.3 66.0Z" fill="#5c1a0f"/><path d="M31.2 66.8L41.5 68.7L37.8 72.2L33.4 74.1Z" fill="#4090ba"/><path d="M78.8 23.6L96.4 23.6L96.4 57.3L78.8 57.3Z" fill="#b9954f"/><path d="M86.9 37.5L92.8 28.7L95.0 30.1L90.6 44.1L87.6 44.1Z" fill="#5c1a0f"/><path d="M82.5 35.3L87.6 32.3L86.9 41.1L83.2 42.6Z" fill="#c5dce4"/><path d="M205.6 22.3L289.1 22.3L289.1 86.8L205.6 86.8Z" fill="#4090ba"/><path d="M208.5 45.8L232.0 35.5L240.7 34.1L252.5 35.5L267.1 38.5L274.4 45.8L277.4 57.5L270.0 70.7L258.3 79.5L249.5 81.0L246.6 72.2L237.8 67.8L223.2 70.7L208.5 72.2Z" fill="#1a639d"/><path d="M242.2 45.1L246.6 44.6L245.1 47.3L241.5 47.3Z" fill="#fff"/><path d="M239.3 49.9L243.7 49.5L242.9 51.7L239.0 51.7Z" fill="#fff"/><path d="M237.1 56.8L242.2 56.0L243.7 59.7L237.5 60.4Z" fill="#fff"/><path d="M251.7 52.4L255.4 51.7L254.7 55.3L251.0 55.3Z" fill="#fff"/><path d="M249.5 83.9L261.3 83.9L261.3 95.6L249.5 95.6Z" fill="#4090ba"/><path d="M280.3 72.2L318.4 72.2L318.4 101.5L280.3 101.5Z" fill="#77aec9"/><path d="M281.8 95.6L296.4 88.3L305.2 85.4L305.2 86.8L296.4 91.2L284.7 100.0Z" fill="#c6a265"/><path d="M196.8 7.7L232.0 12.8L261.3 10.6L261.3 20.9L232.0 20.9L196.8 16.5Z" fill="#b9954f"/><path d="M226.1 -11.4L243.7 -9.9L243.7 10.6L232.0 10.6L226.1 -1.1Z" fill="#96652a" fill-opacity="0.55"/><path d="M234.1 -27.5L240.0 -26.7L240.7 -14.3L235.6 -15.7Z" fill="#79391c"/><path d="M278.8 13.6L290.6 19.4L292.0 23.8L281.8 19.4Z" fill="#79391c"/><path d="M-36.9 -143.8L-19.3 -143.8L-19.3 -135.0L-36.9 -135.0Z" fill="#93bfd5"/>
</g>
<use href="#wp" fill="#fff"/><use href="#sp" fill="#fff"/>
<path d="M-139.7 -157.6L-127.7 -162.6L-105.7 -166.3L-83.7 -168.3L-71.7 -168.8L-83.7 -165.5L-103.7 -161.8L-123.7 -158.1L-135.7 -156.3Z" fill="#4090ba"/>
</g>
<g transform="translate(1188.9 627.6)">
<use href="#lp" fill="#fff" stroke="#d9d9d9" stroke-width="0.5"/>
<g clip-path="url(#land)">
<path d="M-35.4 -80.8L20.2 -83.7L52.5 -77.8L71.5 -48.5L97.9 -29.5L81.8 19.6L15.8 19.6L12.9 -7.5L-20.8 -7.5L-35.4 -33.9Z" fill="#d4728a"/><path d="M8.5 -20.4L96.4 -20.4L81.8 8.9L77.4 38.2L61.3 55.8L52.5 70.4L33.4 76.3L20.2 38.2L23.2 23.6L12.9 -5.7Z" fill="#d4728a"/><path d="M99.9 -168.7L143.9 -158.4L173.2 -157.0L231.8 -151.1L265.5 -135.0L246.4 -118.9L231.8 -98.3L225.9 -86.6L224.4 -63.2L217.1 -48.5L205.4 -39.7L208.3 -19.2L187.8 -11.9L173.2 -33.9L161.4 -48.5L148.3 -17.8L135.1 -48.5L99.9 -54.4Z" fill="#f8c3d3"/><path d="M-261.2 -138.3L-251.4 -144.8L-244.8 -141.1L-254.6 -136.7Z" fill="#f8c3d3"/><path d="M-247.3 -129.1L-237.0 -136.4L-216.5 -137.9L-210.6 -132.0L-213.6 -121.8L-226.7 -127.7L-241.4 -124.0Z" fill="#4166b0" fill-opacity="0.5"/><path d="M-231.1 -141.6L-223.8 -145.2L-206.2 -148.9L-196.7 -145.5L-209.2 -141.6L-219.4 -139.7Z" fill="#4166b0"/><path d="M-215.8 -111.5L-213.6 -118.9L-211.8 -122.5L-208.9 -129.9L-194.8 -141.6L-190.1 -141.6L-196.7 -130.6L-193.0 -130.3L-184.0 -136.0L-177.2 -136.0L-181.3 -130.3L-185.4 -125.0L-178.4 -128.4L-167.4 -133.8L-157.2 -133.7L-161.5 -126.9L-163.0 -121.5L-162.0 -115.6L-165.9 -110.1L-160.8 -106.0L-181.3 -62.7L-182.8 -54.7L-188.7 -59.8L-196.0 -67.1L-201.8 -68.3L-214.3 -70.8L-225.3 -77.8L-226.7 -92.5L-219.4 -111.5Z" fill="#4166b0"/><path d="M-216.5 -98.3L-187.2 -101.3L-178.4 -92.5L-179.9 -77.8L-184.3 -63.2L-201.8 -68.3L-214.3 -70.8L-220.9 -85.2Z" fill="#4166b0"/><path d="M-161.5 -106.0L-165.9 -110.1L-157.9 -111.2L-147.6 -118.6L-145.4 -115.6L-150.6 -109.8L-138.8 -111.2L-128.6 -114.2L-119.8 -109.8L-111.0 -111.2L-105.1 -117.7L-102.5 -112.7L-94.6 -115.6L-90.2 -111.2L-89.3 -101.6L-99.3 -104.9L-109.5 -98.1L-113.9 -94.2L-128.6 -77.5L-143.2 -62.9L-147.6 -48.2L-155.0 -51.2L-155.0 -62.9L-172.5 -58.5L-181.3 -62.7Z" fill="#7f9ccb"/><path d="M-162.9 -106.3L-156.1 -103.9L-166.7 -77.8L-174.0 -63.9L-181.3 -61.9L-182.8 -62.7Z" fill="#4166b0"/><path d="M-157.9 -100.5L-143.2 -107.1L-128.6 -110.1L-121.3 -104.2L-131.5 -95.4L-143.2 -92.5L-153.5 -92.5Z" fill="#7f9ccb"/><path d="M-157.9 -79.3L-143.2 -85.2L-141.0 -83.4L-155.0 -77.5Z" fill="#f8c3d3"/><path d="M-166.7 -70.5L-160.8 -75.6L-155.0 -74.9L-155.7 -71.2L-160.8 -66.8L-165.9 -66.8Z" fill="#f8c3d3"/><path d="M-170.8 -75.2L-167.4 -75.6L-167.4 -72.7L-170.8 -72.3Z" fill="#f8c3d3"/><path d="M-115.4 -102.0L-109.5 -102.7L-102.2 -99.8L-113.9 -93.7Z" fill="#f8c3d3"/><path d="M-109.5 -116.7L-105.1 -117.4L-105.1 -112.3L-108.8 -111.5Z" fill="#f8c3d3"/><path d="M-97.1 -115.2L-91.2 -115.2L-89.8 -101.3L-97.8 -103.5Z" fill="#f8c3d3"/><path d="M-216.5 -71.5L-201.8 -68.3L-196.0 -67.1L-188.7 -59.8L-182.8 -54.7L-183.5 -48.5L-179.9 -42.7L-172.5 -44.1L-160.8 -48.5L-159.3 -39.7L-172.5 -35.3L-181.3 -35.3L-193.0 -39.7L-201.8 -48.5L-210.6 -63.2Z" fill="#f8c3d3"/><path d="M-215.0 -70.8L-209.9 -70.1L-203.3 -48.8L-208.4 -48.8Z" fill="#b8d4ee"/><path d="M-207.0 -68.3L-200.4 -67.6L-199.6 -63.2L-201.8 -56.6L-204.8 -58.8Z" fill="#7f9ccb"/><path d="M-192.3 -61.7L-187.2 -63.9L-183.5 -57.3L-187.2 -51.5L-191.6 -54.4Z" fill="#b8d4ee"/><path d="M-200.4 -64.6L-197.4 -64.6L-187.2 -48.5L-190.1 -44.1L-195.2 -51.5Z" fill="#cb2a49"/><path d="M-195.2 -42.7L-187.2 -41.2L-178.4 -35.3L-184.3 -33.9L-193.0 -37.5Z" fill="#d4728a"/><path d="M-172.5 -44.1L-163.7 -46.3L-165.2 -39.7L-172.5 -37.5Z" fill="#f8c3d3"/><path d="M-178.4 -35.3L-166.7 -33.9L-157.9 -32.4L-157.9 -25.1L-163.7 -22.2L-172.5 -29.5Z" fill="#d4728a"/><path d="M-163.7 -32.4L-157.9 -32.4L-157.9 -25.1L-162.3 -23.6Z" fill="#cb2a49"/><path d="M-163.7 -25.1L-149.1 -19.5L-151.3 -16.3L-165.2 -22.2Z" fill="#d4728a"/><path d="M-159.3 -50.7L-146.2 -49.3L-134.4 -42.7L-139.6 -40.5L-157.9 -45.9Z" fill="#f8c3d3"/><path d="M-138.8 -43.0L-128.6 -41.9L-128.6 -38.7L-138.8 -39.4Z" fill="#d4728a"/><path d="M-124.2 -41.9L-119.8 -41.9L-119.8 -39.0L-124.2 -39.0Z" fill="#7f9ccb"/><path d="M-151.7 -24.5L-138.6 -27.5L-112.2 -21.6L-94.6 -5.5L-63.8 13.6L-71.2 35.5L-88.7 63.4L-97.5 81.0L-106.3 122.0L-123.9 116.1L-135.6 42.9L-157.6 10.6L-153.2 -12.8Z" fill="#f8c3d3"/><path d="M-144.4 -26.0L-118.0 -22.3L-111.5 -15.7L-118.0 -14.0L-129.8 -18.4L-141.5 -16.9Z" fill="#f8c3d3"/><path d="M-144.7 -21.6L-140.0 -22.3L-138.3 -12.8L-141.5 -2.6L-144.4 -8.4Z" fill="#7f9ccb"/><path d="M-149.6 -2.6L-141.5 -4.0L-140.0 15.3L-129.8 18.2L-135.6 21.2L-144.4 13.6L-150.3 6.2Z" fill="#b8d4ee"/><path d="M-141.5 -3.3L-135.6 -14.3L-129.5 -14.6L-128.0 -7.0L-121.0 -2.3L-112.2 -4.0L-106.3 -1.1L-97.5 -1.1L-88.7 3.3L-91.4 12.1L-94.6 19.4L-97.5 28.5L-106.3 30.0L-112.2 28.5L-121.0 22.6L-129.8 18.2L-140.0 15.3L-141.5 7.7Z" fill="#b8d4ee"/><path d="M-129.8 -14.0L-120.2 -15.7L-117.8 -5.5L-120.1 -1.7L-128.3 -6.1Z" fill="#f8c3d3"/><path d="M-106.3 3.6L-100.5 2.1L-91.7 12.1L-90.2 25.3L-97.5 28.2L-99.0 35.5L-109.3 37.0L-115.1 31.1L-109.3 25.3L-104.9 18.0Z" fill="#7f9ccb"/><path d="M-103.4 25.3L-94.6 19.4L-90.2 25.3L-97.5 28.5L-99.0 35.8L-106.3 34.1Z" fill="#7f9ccb"/><path d="M-115.9 -15.7L-112.2 -15.7L-111.5 -4.0L-115.1 -4.0Z" fill="#cb2a49"/><path d="M-111.5 -12.1L-104.9 -12.8L-104.1 -6.2L-110.7 -5.8Z" fill="#d4728a"/><path d="M-104.1 -11.4L-98.7 -9.9L-97.2 -2.3L-102.5 -2.3Z" fill="#f8c3d3"/><path d="M-90.9 4.0L-82.9 3.3L-74.1 7.0L-67.5 13.6L-71.2 22.3L-75.6 31.1L-82.9 34.1L-87.3 25.3L-90.9 12.1Z" fill="#f8c3d3"/><path d="M-84.3 18.0L-78.5 10.6L-69.7 12.1L-69.7 18.0L-75.6 25.3L-78.5 31.1L-82.9 28.2Z" fill="#cb2a49"/><path d="M-82.9 12.1L-78.5 11.4L-78.2 18.2L-82.0 19.4Z" fill="#7f9ccb"/><path d="M-109.3 37.3L-97.5 35.8L-87.3 28.2L-75.6 34.1L-75.6 42.9L-82.9 51.7L-91.7 51.7L-103.1 51.9L-112.2 46.1Z" fill="#f8c3d3"/><path d="M-107.8 48.7L-103.4 49.5L-101.9 56.0L-106.3 56.0Z" fill="#f8c3d3"/><path d="M-104.9 54.6L-91.7 51.7L-90.9 59.0L-103.4 61.9Z" fill="#f8c3d3"/><path d="M-156.1 7.7L-150.3 6.2L-135.6 20.9L-123.9 32.6L-118.0 39.9L-123.9 42.9L-135.6 32.6L-148.8 20.9Z" fill="#d4728a"/><path d="M-128.3 25.3L-121.0 26.7L-118.0 34.1L-125.4 32.6Z" fill="#d4728a"/><path d="M-137.1 25.3L-131.2 26.7L-131.2 31.1L-135.6 29.7Z" fill="#b8d4ee"/><path d="M-129.8 38.5L-121.0 39.9L-118.0 47.3L-126.8 48.7Z" fill="#d4728a"/><path d="M-121.0 41.4L-116.6 40.7L-116.6 45.8L-120.2 46.5Z" fill="#cb2a49"/><path d="M-133.9 38.5L-126.8 39.9L-123.9 48.7L-118.0 51.7L-115.1 63.4L-112.2 83.9L-110.4 85.4L-111.9 101.5L-113.4 110.6L-106.3 117.9L-112.2 116.1L-121.0 104.7L-126.8 81.0L-131.2 72.2Z" fill="#b8d4ee"/><path d="M-123.9 48.7L-112.2 42.9L-106.3 57.5L-106.3 72.2L-102.7 79.5L-104.9 83.9L-112.2 85.4L-115.1 72.2L-123.9 72.2Z" fill="#7f9ccb"/><path d="M-118.0 41.4L-110.7 42.9L-109.3 50.2L-116.6 51.7Z" fill="#7f9ccb"/><path d="M-131.5 76.6L-126.8 78.8L-122.4 104.7L-112.2 116.1L-106.3 120.5L-112.2 120.5L-123.9 110.3L-130.1 94.1Z" fill="#f8c3d3"/><path d="M-32.5 -48.5L-26.7 -60.3L-16.4 -64.6L-7.6 -76.4L-16.4 -77.8L-28.1 -66.1L-34.0 -48.5L-31.1 -35.3L-16.4 -42.7L-12.0 -54.4Z" fill="#d4728a"/><path d="M-31.1 -35.3L-16.4 -42.7L-12.0 -54.4L5.6 -41.9L20.2 -50.7L45.1 -43.4L45.1 -47.1L67.1 -47.1L71.5 -33.9L67.1 -32.1L52.5 -28.0L40.7 -27.1L23.2 -28.0L-6.1 -31.7L-31.1 -33.6Z" fill="#b8d4ee"/><path d="M-16.7 -64.4L-8.8 -74.9L2.6 -77.8L18.8 -79.3L20.5 -69.0L17.6 -57.0L20.5 -51.5L5.6 -42.4L-16.4 -58.5Z" fill="#d4728a"/><path d="M-3.2 -77.1L18.8 -80.8L18.8 -77.8L-1.7 -74.6Z" fill="#cb2a49"/><path d="M2.6 -75.6L7.8 -77.1L8.5 -72.0L3.4 -71.2Z" fill="#b8d4ee"/><path d="M20.8 -72.1L20.9 -70.0L18.8 -68.5L18.7 -65.9L17.4 -65.2L18.2 -61.6L18.3 -57.2L17.4 -56.6L18.6 -52.9L21.4 -52.5L22.3 -50.8L26.5 -48.8L28.0 -49.7L29.8 -50.6L45.0 -42.1L45.0 -43.2L46.8 -43.2L46.7 -47.5L45.9 -63.1L45.2 -65.2L45.9 -68.3L45.6 -72.4L32.5 -73.4L20.8 -73.4Z" fill="#b8d4ee"/><path d="M45.8 -70.2L45.9 -68.3L45.2 -65.2L45.9 -63.1L46.7 -47.5L70.0 -47.5L67.0 -51.8L65.0 -58.3L64.8 -60.9L64.0 -63.7L62.4 -67.6L59.9 -70.2Z" fill="#fff"/><path d="M46.6 -47.1L59.1 -47.1L59.1 -36.1L51.0 -36.1L51.0 -43.4L46.6 -43.4Z" fill="#d4728a"/><path d="M-33.7 -33.1L-6.1 -31.7L23.2 -28.0L40.7 -26.8L52.5 -28.0L67.1 -32.1L72.2 -33.9L77.4 -26.6L68.9 -22.9L52.5 -20.7L40.7 -20.0L23.2 -20.7L-6.1 -25.1L-33.7 -28.0Z" fill="#d4728a"/><path d="M-31.1 -25.8L-13.5 -21.4L8.5 -20.0L23.2 -18.5L43.7 -17.8L61.5 -10.4L58.6 -7.9L43.7 -14.1L23.2 -15.1L8.5 -16.6L-13.5 -18.1L-31.1 -22.9Z" fill="#b8d4ee"/><path d="M-14.9 -21.4L-1.7 -22.2L-1.7 -16.3L-12.0 -13.4Z" fill="#b8d4ee"/><path d="M6.3 -15.6L18.8 -14.8L23.2 -10.4L26.1 -4.6L33.4 -6.8L32.0 8.6L23.2 10.1L21.7 1.3L18.8 -10.4L8.5 -11.9Z" fill="#d4728a"/><path d="M18.8 -14.8L23.2 -14.1L23.9 -6.0L20.2 -6.0Z" fill="#cb2a49"/><path d="M29.0 -6.8L33.4 -6.8L32.0 2.8L28.3 2.0Z" fill="#cb2a49"/><path d="M-7.6 -14.1L-1.7 -14.8L-1.7 -11.9L-6.9 -11.2Z" fill="#cb2a49"/><path d="M15.8 -4.6L21.7 -4.6L22.4 8.6L17.3 8.6Z" fill="#b8d4ee"/><path d="M32.0 -7.5L52.5 -10.4L58.6 2.8L55.7 19.6L32.0 19.6Z" fill="#d4728a"/><path d="M40.7 3.9L46.9 3.5L47.5 11.2L41.9 11.8Z" fill="#fff"/><path d="M-28.1 -52.6L-23.4 -54.1L-22.8 -48.5L-27.2 -47.7Z" fill="#fff"/><path d="M75.9 -7.5L82.5 -19.2L96.4 -26.6L90.6 -11.9L81.8 -0.2L77.4 4.2Z" fill="#b8d4ee"/><path d="M72.2 -33.9L77.4 -26.6L82.5 -19.2L78.8 -19.2L73.0 -26.6Z" fill="#b8d4ee"/><path d="M77.4 -4.6L87.6 -7.5L81.8 2.8L77.4 4.5Z" fill="#d4728a"/><path d="M57.6 -7.2L64.2 -8.7L67.1 2.8L65.7 19.6L52.5 19.6L58.6 2.8Z" fill="#b8d4ee"/><path d="M62.7 -79.3L80.3 -85.2L84.7 -72.0L89.8 -61.7L81.8 -63.2L70.0 -67.3Z" fill="#d4728a"/><path d="M65.7 -73.4L73.0 -72.0L71.5 -64.6L65.7 -66.1Z" fill="#b8d4ee"/><path d="M63.7 -60.5L64.0 -63.5L66.1 -63.1L68.7 -64.8L67.4 -68.0L71.0 -69.1L73.5 -68.9L76.6 -67.2L82.1 -63.1L85.4 -62.8L87.4 -61.8L89.0 -61.6L91.3 -59.4L93.4 -57.2L93.5 -54.6L94.3 -53.6L95.9 -52.5L98.1 -49.5L102.8 -48.8L103.8 -47.5L103.1 -43.2L97.6 -41.0L92.0 -40.2L89.4 -36.9L87.5 -37.1L83.8 -37.6L81.5 -37.8L81.0 -35.6L79.7 -35.4L76.1 -40.0L72.0 -46.4L67.8 -54.0Z" fill="#b8d4ee"/><path d="M79.6 -36.5L96.7 -41.2L98.2 -35.1L83.5 -27.7Z" fill="#b8d4ee"/><path d="M97.9 -42.7L102.3 -51.5L110.3 -49.3L105.5 -39.0L100.8 -36.1Z" fill="#7f9ccb"/><path d="M49.5 -92.5L71.8 -93.2L81.8 -86.6L87.6 -76.4L67.1 -80.8L52.5 -83.0Z" fill="#f8c3d3"/><path d="M52.5 -90.3L62.7 -91.0L67.1 -85.2L61.3 -80.8L55.4 -83.7Z" fill="#cb2a49"/><path d="M67.1 -85.2L81.8 -83.7L87.6 -76.4L81.8 -77.5L70.0 -81.9Z" fill="#cb2a49"/><path d="M87.6 -77.8L99.4 -79.3L105.2 -69.0L105.2 -55.9L96.4 -55.9L89.1 -63.2Z" fill="#7f9ccb"/><path d="M99.4 -69.0L108.1 -66.1L115.5 -58.8L105.2 -55.9L99.4 -58.8Z" fill="#d4728a"/><path d="M108.1 -77.8L125.7 -74.9L137.4 -63.2L134.5 -54.4L122.8 -55.9L115.5 -58.8L108.1 -66.1Z" fill="#b8d4ee"/><path d="M95.0 -95.4L111.1 -96.2L119.9 -86.6L111.1 -77.8L99.4 -79.3L90.6 -89.6Z" fill="#b8d4ee"/><path d="M111.1 -77.8L122.8 -79.3L124.3 -72.0L114.0 -71.2Z" fill="#d4728a"/><path d="M125.7 -54.4L149.9 -63.2L149.9 -19.2L140.4 -33.9L133.1 -45.6Z" fill="#d4728a"/><path d="M-20.8 -145.2L32.0 -152.6L40.7 -146.7L43.7 -136.4L37.8 -113.0L43.7 -98.3L52.5 -89.6L32.0 -77.8L11.4 -83.7L-1.7 -94.0L-19.3 -92.5L-20.8 -121.8Z" fill="#7f9ccb"/><path d="M-17.1 -92.5L-13.5 -93.2L-14.2 -80.8L-17.1 -83.0Z" fill="#f8c3d3"/><path d="M-14.9 -91.0L-1.7 -93.2L2.9 -90.7L-1.7 -81.9L-12.0 -79.0L-15.7 -83.0Z" fill="#7f9ccb"/><path d="M-18.6 -117.4L-10.5 -118.9L-10.5 -111.5L-17.9 -110.8Z" fill="#f8c3d3"/><path d="M40.7 -146.7L61.3 -145.2L87.6 -145.2L90.6 -136.4L90.6 -118.9L81.8 -110.1L71.5 -107.1L61.3 -98.3L52.5 -92.5L43.7 -98.3L37.8 -113.0L43.7 -136.4Z" fill="#f8c3d3"/><path d="M52.5 -129.1L61.3 -130.6L71.5 -129.1L67.1 -110.1L55.4 -111.5L51.0 -118.9Z" fill="#7f9ccb"/><path d="M37.8 -115.9L49.5 -118.9L52.5 -110.1L43.7 -104.2L37.8 -108.6Z" fill="#f8c3d3"/><path d="M32.0 -104.2L43.7 -104.2L49.5 -92.5L40.7 -86.6L34.9 -92.5Z" fill="#f8c3d3"/><path d="M90.6 -151.1L99.4 -152.6L111.1 -142.3L116.9 -140.8L115.5 -136.4L124.3 -132.0L111.1 -121.8L96.4 -117.4L90.6 -118.9L87.6 -136.4Z" fill="#7f9ccb"/><path d="M95.0 -118.9L109.6 -122.5L110.6 -117.1L98.2 -114.5Z" fill="#7f9ccb"/><path d="M105.2 -154.0L125.7 -158.4L149.9 -155.5L149.9 -118.9L125.7 -121.8L124.3 -132.0L115.5 -136.4L116.9 -140.8L111.1 -142.3Z" fill="#f8c3d3"/><path d="M70.0 -157.0L84.7 -159.9L86.2 -157.0L74.4 -151.1L71.5 -149.6Z" fill="#f8c3d3"/><path d="M67.1 -121.8L90.6 -118.9L96.4 -117.4L111.1 -121.8L125.7 -121.8L140.4 -114.5L139.2 -107.1L131.9 -114.5L123.1 -118.1L111.4 -118.9L96.7 -115.9L90.9 -113.7L77.7 -113.0L70.0 -108.6Z" fill="#f8c3d3"/><path d="M70.0 -108.6L77.7 -113.0L90.9 -113.7L96.7 -115.9L111.4 -118.9L123.1 -118.1L131.9 -114.5L139.2 -107.1L136.3 -98.1L126.0 -92.2L118.4 -92.2L125.7 -98.3L131.6 -105.7L122.8 -111.5L111.1 -112.3L96.4 -108.6L81.8 -107.1L77.4 -102.7L78.8 -96.9L73.3 -98.1Z" fill="#cb2a49"/><path d="M78.8 -104.2L96.7 -108.6L111.4 -112.3L123.1 -111.5L131.6 -105.7L125.7 -98.3L117.2 -92.5L96.7 -95.4L86.5 -98.1L80.3 -98.1Z" fill="#7f9ccb"/><path d="M106.4 -105.4L111.1 -108.6L125.7 -108.6L130.4 -103.9L126.0 -100.3L109.9 -100.3Z" fill="#b8d4ee"/><path d="M146.8 -153.3L161.4 -154.0L187.8 -152.6L217.1 -148.9L240.6 -146.7L258.4 -137.9L252.3 -132.0L237.6 -129.9L231.8 -127.7L217.1 -130.6L215.7 -121.8L205.4 -121.8L193.7 -124.7L182.0 -129.1L167.3 -129.1L158.5 -139.4L149.7 -146.7Z" fill="#7f9ccb"/><path d="M215.7 -121.8L228.8 -114.5L231.8 -98.3L227.4 -94.0L224.4 -104.2L217.1 -107.1Z" fill="#7f9ccb"/><path d="M196.6 -104.2L205.4 -107.1L215.7 -102.7L217.1 -95.4L211.3 -86.6L214.2 -80.8L208.3 -77.8L199.5 -77.8L196.6 -86.6Z" fill="#7f9ccb"/><path d="M184.9 -101.3L196.6 -104.2L196.6 -86.6L190.7 -86.6Z" fill="#b8d4ee"/><path d="M246.4 -130.6L258.1 -135.0L265.5 -133.5L255.2 -129.1L256.7 -115.9L250.8 -115.9L246.4 -123.3Z" fill="#f8c3d3"/><path d="M129.2 -98.3L158.5 -102.7L164.4 -94.0L143.9 -92.5L130.7 -86.6Z" fill="#d4728a" fill-opacity="0.7"/><path d="M161.4 -104.2L182.0 -105.7L190.7 -98.3L187.8 -91.0L173.2 -92.5L164.4 -96.9Z" fill="#d4728a"/><path d="M160.0 -110.8L173.2 -108.6L182.0 -104.2L179.0 -102.0L168.8 -105.7L160.0 -108.3Z" fill="#cb2a49"/><path d="M130.7 -86.6L143.9 -92.5L162.9 -93.7L167.6 -86.6L164.4 -77.5L148.3 -73.1L133.6 -77.8Z" fill="#fff"/><path d="M133.6 -77.8L148.3 -73.1L164.4 -77.5L168.8 -72.0L155.6 -69.0L143.9 -69.0Z" fill="#b8d4ee"/><path d="M114.6 -69.0L133.6 -70.5L138.0 -58.8L138.0 -51.5L129.2 -48.5L120.4 -55.9Z" fill="#b8d4ee"/><path d="M138.0 -58.8L149.7 -63.2L158.5 -54.4L155.6 -48.5L143.9 -47.1L138.0 -51.5Z" fill="#d4728a"/><path d="M135.1 -72.0L143.9 -64.6L158.5 -57.3L164.4 -51.5L162.9 -48.5L155.6 -55.9L142.4 -63.2L134.3 -69.8Z" fill="#d4728a"/><path d="M136.5 -48.5L146.8 -47.8L146.8 -39.7L140.9 -36.8Z" fill="#b8d4ee"/><path d="M148.3 -48.5L158.5 -51.5L164.4 -48.5L155.6 -39.7L149.7 -33.9Z" fill="#d4728a"/><path d="M139.5 -36.8L149.7 -35.3L151.2 -28.0L146.8 -19.2L142.4 -25.1Z" fill="#d4728a"/><path d="M144.6 -41.9L149.7 -43.4L151.9 -37.5L146.8 -36.1Z" fill="#f8c3d3"/><path d="M145.3 -26.6L150.4 -28.0L149.0 -19.2L146.5 -19.2Z" fill="#b8d4ee"/><path d="M135.8 -45.6L140.2 -33.9L143.9 -25.1L141.7 -24.8L136.5 -35.3Z" fill="#b8d4ee"/><path d="M150.4 -21.4L154.4 -20.7L154.4 -14.1L151.2 -14.8Z" fill="#f8c3d3"/><path d="M99.9 -89.6L117.5 -86.6L126.3 -79.3L108.7 -77.8L99.9 -77.8Z" fill="#b8d4ee"/><path d="M111.6 -77.8L121.9 -79.3L123.3 -72.0L114.6 -70.5Z" fill="#d4728a"/><path d="M99.9 -66.1L108.7 -67.6L114.6 -58.8L105.8 -55.9L99.9 -57.3Z" fill="#d4728a"/><path d="M162.9 -69.0L176.1 -70.5L187.8 -66.1L193.7 -54.4L187.8 -48.5L176.1 -51.5L165.8 -60.3Z" fill="#d4728a"/><path d="M189.3 -74.9L202.5 -77.8L215.7 -73.4L217.1 -63.2L211.3 -54.4L202.5 -48.5L193.7 -54.4L187.8 -66.1Z" fill="#f8c3d3"/><path d="M193.7 -63.2L201.0 -64.6L201.7 -55.9L195.1 -55.1Z" fill="#cb2a49"/><path d="M208.3 -52.9L217.1 -55.1L217.1 -49.3L209.8 -47.8Z" fill="#7f9ccb"/><path d="M215.7 -67.6L223.0 -66.1L223.0 -58.8L217.1 -58.8Z" fill="#7f9ccb"/><path d="M208.3 -92.5L217.1 -94.0L224.4 -92.5L224.4 -83.7L217.1 -86.6L211.3 -85.2Z" fill="#f8c3d3"/><path d="M208.3 -92.5L212.7 -92.5L209.8 -87.8Z" fill="#cb2a49"/><path d="M223.0 -85.2L228.8 -86.6L231.8 -77.8L225.9 -74.9Z" fill="#f8c3d3"/><path d="M233.2 -72.7L237.6 -79.3L250.8 -83.7L250.8 -77.8L240.6 -73.4L236.2 -69.0Z" fill="#f8c3d3" fill-opacity="0.8"/><path d="M242.0 -77.8L252.3 -79.3L252.3 -75.6L242.8 -74.2Z" fill="#7f9ccb"/><path d="M243.5 -94.0L247.9 -92.5L249.4 -83.7L246.4 -80.8Z" fill="#f8c3d3" fill-opacity="0.7"/><path d="M168.8 -55.9L179.0 -54.4L182.0 -39.7L176.1 -35.3L171.7 -44.1Z" fill="#d4728a"/><path d="M182.0 -44.1L193.7 -42.7L202.5 -33.9L205.4 -26.6L199.5 -20.7L190.7 -25.1L184.9 -33.9Z" fill="#f8c3d3"/><path d="M190.7 -33.9L202.5 -36.8L206.9 -28.0L199.5 -20.7L192.2 -25.1Z" fill="#d4728a"/><path d="M184.1 -25.1L190.7 -22.2L193.7 -11.9L189.3 -13.4Z" fill="#7f9ccb"/><path d="M190.7 -11.9L196.6 -10.4L198.1 -4.6L192.2 -6.0Z" fill="#f8c3d3"/><path d="M180.5 -12.6L190.7 -4.6L202.5 8.6L196.6 10.1L186.3 -0.2Z" fill="#b8d4ee"/><path d="M193.7 1.3L202.5 8.6L196.6 10.1L192.2 5.7Z" fill="#d4728a"/><path d="M206.9 -4.6L217.1 -11.9L224.4 -9.0L225.9 -0.2L217.1 7.1L208.3 4.2Z" fill="#b8d4ee"/><path d="M211.3 -0.2L220.0 -1.6L220.0 5.7L212.7 6.4Z" fill="#d4728a"/><path d="M193.7 10.1L231.8 14.5L231.8 16.7L193.7 13.0Z" fill="#d4728a"/><path d="M247.9 -0.2L266.9 4.2L266.9 15.9L261.1 14.5L252.3 7.1Z" fill="#b8d4ee"/><path d="M266.9 4.2L277.2 10.1L280.1 19.6L266.9 15.9Z" fill="#d4728a"/><path d="M225.2 -41.2L229.6 -40.5L230.3 -30.9L225.9 -32.4Z" fill="#b8d4ee"/><path d="M234.7 -28.0L238.4 -26.6L239.1 -16.3L236.2 -17.8Z" fill="#d4728a"/><path d="M223.7 -55.1L225.9 -55.9L226.2 -50.0L224.1 -49.7Z" fill="#f8c3d3"/><path d="M81.8 -20.4L96.4 -20.4L90.6 -11.6L81.8 -4.3L77.4 -1.4L78.8 -11.6Z" fill="#b8d4ee"/><path d="M77.4 -11.6L87.6 -14.5L81.8 -4.3L77.4 -2.1Z" fill="#d4728a"/><path d="M32.0 -7.2L52.5 -10.1L58.3 -1.4L55.4 11.8L46.6 23.6L32.0 20.6L29.0 6.0Z" fill="#d4728a"/><path d="M40.7 3.8L46.6 3.3L47.2 10.7L41.9 11.2Z" fill="#fff"/><path d="M18.8 -14.5L24.6 -11.6L26.1 -4.3L34.1 -7.2L32.0 8.9L23.2 9.6L21.7 1.6L18.8 -8.7Z" fill="#d4728a"/><path d="M19.5 -13.8L23.2 -13.1L23.9 -5.7L20.2 -5.7Z" fill="#cb2a49"/><path d="M29.0 -6.5L33.7 -7.2L32.0 2.3L28.7 1.6Z" fill="#cb2a49"/><path d="M26.8 12.6L30.5 13.3L30.5 17.7L27.6 17.4Z" fill="#d4728a"/><path d="M15.8 -4.3L22.4 -4.3L22.4 8.9L17.3 8.9Z" fill="#b8d4ee"/><path d="M46.6 16.2L52.5 11.8L61.3 14.8L62.7 23.6L56.9 28.0L51.0 29.4Z" fill="#b8d4ee"/><path d="M56.9 -8.7L62.7 -7.2L65.7 3.0L61.3 13.3L56.9 8.9Z" fill="#b8d4ee"/><path d="M26.1 28.7L36.3 24.3L43.7 25.0L40.7 30.1L27.6 31.6Z" fill="#b8d4ee"/><path d="M24.6 33.1L46.6 32.3L46.6 36.0L25.4 37.0Z" fill="#d4728a"/><path d="M67.1 13.3L75.9 8.9L75.9 29.4L67.1 38.2L61.3 41.1L65.7 30.9L64.2 20.6Z" fill="#b8d4ee"/><path d="M49.5 36.7L58.3 33.8L64.2 42.6L58.3 48.5L52.5 44.1Z" fill="#d4728a"/><path d="M26.1 38.2L46.6 36.7L52.5 44.1L55.4 48.5L46.6 52.9L37.8 55.8L27.6 52.9Z" fill="#d4728a"/><path d="M26.8 54.3L37.8 55.8L46.6 52.9L52.5 51.4L49.5 58.7L43.7 66.0L33.4 73.4L29.8 64.6Z" fill="#b8d4ee"/><path d="M40.7 70.4L55.4 61.7L59.1 61.7L51.0 71.9L45.1 73.4Z" fill="#f8c3d3"/><path d="M45.1 57.3L52.5 49.9L58.3 49.9L59.1 58.7L52.5 64.6L51.0 58.0Z" fill="#7f9ccb"/><path d="M45.9 60.9L51.0 58.0L53.2 63.1L51.0 68.7L47.3 66.0Z" fill="#cb2a49"/><path d="M31.2 66.8L41.5 68.7L37.8 72.2L33.4 74.1Z" fill="#7f9ccb"/><path d="M78.8 23.6L96.4 23.6L96.4 57.3L78.8 57.3Z" fill="#d4728a"/><path d="M86.9 37.5L92.8 28.7L95.0 30.1L90.6 44.1L87.6 44.1Z" fill="#d4728a"/><path d="M82.5 35.3L87.6 32.3L86.9 41.1L83.2 42.6Z" fill="#b8d4ee"/><path d="M205.6 22.3L289.1 22.3L289.1 86.8L205.6 86.8Z" fill="#4166b0"/><path d="M242.2 45.1L246.6 44.6L245.1 47.3L241.5 47.3Z" fill="#fff"/><path d="M239.3 49.9L243.7 49.5L242.9 51.7L239.0 51.7Z" fill="#fff"/><path d="M237.1 56.8L242.2 56.0L243.7 59.7L237.5 60.4Z" fill="#fff"/><path d="M251.7 52.4L255.4 51.7L254.7 55.3L251.0 55.3Z" fill="#fff"/><path d="M249.5 83.9L261.3 83.9L261.3 95.6L249.5 95.6Z" fill="#4166b0"/><path d="M280.3 72.2L318.4 72.2L318.4 101.5L280.3 101.5Z" fill="#7f9ccb"/><path d="M281.8 95.6L296.4 88.3L305.2 85.4L305.2 86.8L296.4 91.2L284.7 100.0Z" fill="#f8c3d3"/><path d="M196.8 7.7L232.0 12.8L261.3 10.6L261.3 20.9L232.0 20.9L196.8 16.5Z" fill="#d4728a"/><path d="M226.1 -11.4L243.7 -9.9L243.7 10.6L232.0 10.6L226.1 -1.1Z" fill="#d4728a" fill-opacity="0.55"/><path d="M234.1 -27.5L240.0 -26.7L240.7 -14.3L235.6 -15.7Z" fill="#d4728a"/><path d="M278.8 13.6L290.6 19.4L292.0 23.8L281.8 19.4Z" fill="#d4728a"/><path d="M-36.9 -143.8L-19.3 -143.8L-19.3 -135.0L-36.9 -135.0Z" fill="#7f9ccb"/>
</g>
<use href="#wp" fill="#fff"/><use href="#sp" fill="#fff"/>
<path d="M-139.7 -157.6L-127.7 -162.6L-105.7 -166.3L-83.7 -168.3L-71.7 -168.8L-83.7 -165.5L-103.7 -161.8L-123.7 -158.1L-135.7 -156.3Z" fill="#4166b0"/>
</g>
<g font-family='"Liberation Sans", Arial, sans-serif' fill="#1a1a1a">
<text x="50.9" y="33.3" font-size="38" font-weight="bold" stroke="#1a1a1a" stroke-width="1.8" stroke-linejoin="round">a</text>
<text x="854.5" y="33.3" font-size="38" font-weight="bold" stroke="#1a1a1a" stroke-width="1.8" stroke-linejoin="round">b</text>
<text x="50.9" y="468.2" font-size="38" font-weight="bold" stroke="#1a1a1a" stroke-width="1.8" stroke-linejoin="round">c</text>
<text x="855.0" y="468.2" font-size="38" font-weight="bold" stroke="#1a1a1a" stroke-width="1.8" stroke-linejoin="round">d</text>
<text x="25.1" y="219.0" font-size="29.8" textLength="83.5" lengthAdjust="spacingAndGlyphs" transform="rotate(-90 25.1 219.0)">Urban</text>
<text x="25.2" y="642.9" font-size="29.8" textLength="72.0" lengthAdjust="spacingAndGlyphs" transform="rotate(-90 25.2 642.9)">Rural</text>
<rect x="91.00" y="232.70" width="26.12" height="13.23" fill="#1a639d"/><rect x="116.82" y="232.70" width="13.21" height="13.23" fill="#2d7fb0"/><rect x="129.73" y="232.70" width="13.21" height="13.23" fill="#1a639d"/><rect x="142.64" y="232.70" width="13.21" height="13.23" fill="#5a9dc2"/><rect x="155.55" y="232.70" width="13.21" height="13.23" fill="#93bfd5"/><rect x="168.46" y="232.70" width="26.12" height="13.23" fill="#5a9dc2"/><rect x="194.28" y="232.70" width="26.12" height="13.23" fill="#2d7fb0"/><rect x="91.00" y="245.63" width="13.21" height="13.23" fill="#232663"/><rect x="103.91" y="245.63" width="13.21" height="13.23" fill="#1a639d"/><rect x="116.82" y="245.63" width="13.21" height="13.23" fill="#232663"/><rect x="129.73" y="245.63" width="13.21" height="13.23" fill="#5a9dc2"/><rect x="142.64" y="245.63" width="13.21" height="13.23" fill="#c5dce4"/><rect x="155.55" y="245.63" width="26.12" height="13.23" fill="#232663"/><rect x="181.37" y="245.63" width="13.21" height="13.23" fill="#93bfd5"/><rect x="194.28" y="245.63" width="13.21" height="13.23" fill="#c5dce4"/><rect x="207.19" y="245.63" width="13.21" height="13.23" fill="#5a9dc2"/><rect x="91.00" y="258.56" width="13.21" height="13.23" fill="#c5dce4"/><rect x="103.91" y="258.56" width="13.21" height="13.23" fill="#2d7fb0"/><rect x="116.82" y="258.56" width="13.21" height="13.23" fill="#262f70"/><rect x="129.73" y="258.56" width="13.21" height="13.23" fill="#93bfd5"/><rect x="142.64" y="258.56" width="13.21" height="13.23" fill="#e9e6da"/><rect x="155.55" y="258.56" width="26.12" height="13.23" fill="#c5dce4"/><rect x="181.37" y="258.56" width="13.21" height="13.23" fill="#93bfd5"/><rect x="194.28" y="258.56" width="26.12" height="13.23" fill="#dfcdae"/><rect x="91.00" y="271.49" width="13.21" height="13.23" fill="#b9954f"/><rect x="103.91" y="271.49" width="13.21" height="13.23" fill="#93bfd5"/><rect x="116.82" y="271.49" width="13.21" height="13.23" fill="#dfcdae"/><rect x="129.73" y="271.49" width="13.21" height="13.23" fill="#c5dce4"/><rect x="142.64" y="271.49" width="13.21" height="13.23" fill="#21478a"/><rect x="155.55" y="271.49" width="26.12" height="13.23" fill="#1a639d"/><rect x="181.37" y="271.49" width="13.21" height="13.23" fill="#5a9dc2"/><rect x="194.28" y="271.49" width="13.21" height="13.23" fill="#232663"/><rect x="207.19" y="271.49" width="13.21" height="13.23" fill="#2d7fb0"/><rect x="91.00" y="284.42" width="26.12" height="13.23" fill="#e9e6da"/><rect x="116.82" y="284.42" width="13.21" height="13.23" fill="#dfcdae"/><rect x="129.73" y="284.42" width="13.21" height="13.23" fill="#cfb07c"/><rect x="142.64" y="284.42" width="13.21" height="13.23" fill="#e9e6da"/><rect x="155.55" y="284.42" width="13.21" height="13.23" fill="#cfb07c"/><rect x="168.46" y="284.42" width="13.21" height="13.23" fill="#dfcdae"/><rect x="181.37" y="284.42" width="13.21" height="13.23" fill="#cfb07c"/><rect x="194.28" y="284.42" width="13.21" height="13.23" fill="#e9e6da"/><rect x="207.19" y="284.42" width="13.21" height="13.23" fill="#8c5426"/><rect x="91.00" y="297.35" width="13.21" height="13.23" fill="#e9e6da"/><rect x="103.91" y="297.35" width="13.21" height="13.23" fill="#232663"/><rect x="116.82" y="297.35" width="13.21" height="13.23" fill="#e9e6da"/><rect x="129.73" y="297.35" width="13.21" height="13.23" fill="#a47a2f"/><rect x="142.64" y="297.35" width="26.12" height="13.23" fill="#b9954f"/><rect x="168.46" y="297.35" width="13.21" height="13.23" fill="#cfb07c"/><rect x="181.37" y="297.35" width="13.21" height="13.23" fill="#dfcdae"/><rect x="194.28" y="297.35" width="13.21" height="13.23" fill="#c5dce4"/><rect x="207.19" y="297.35" width="13.21" height="13.23" fill="#cfb07c"/><rect x="91.00" y="310.28" width="13.21" height="13.23" fill="#dfcdae"/><rect x="103.91" y="310.28" width="13.21" height="13.23" fill="#cfb07c"/><rect x="116.82" y="310.28" width="13.21" height="13.23" fill="#dfcdae"/><rect x="129.73" y="310.28" width="13.21" height="13.23" fill="#c5dce4"/><rect x="142.64" y="310.28" width="13.21" height="13.23" fill="#93bfd5"/><rect x="155.55" y="310.28" width="13.21" height="13.23" fill="#cfb07c"/><rect x="168.46" y="310.28" width="13.21" height="13.23" fill="#dfcdae"/><rect x="181.37" y="310.28" width="13.21" height="13.23" fill="#e9e6da"/><rect x="194.28" y="310.28" width="13.21" height="13.23" fill="#b9954f"/><rect x="207.19" y="310.28" width="13.21" height="13.23" fill="#2d7fb0"/><rect x="91.00" y="323.21" width="13.21" height="13.23" fill="#cfb07c"/><rect x="103.91" y="323.21" width="13.21" height="13.23" fill="#c5dce4"/><rect x="116.82" y="323.21" width="13.21" height="13.23" fill="#262f70"/><rect x="129.73" y="323.21" width="13.21" height="13.23" fill="#1a639d"/><rect x="142.64" y="323.21" width="13.21" height="13.23" fill="#c5dce4"/><rect x="155.55" y="323.21" width="13.21" height="13.23" fill="#e9e6da"/><rect x="168.46" y="323.21" width="13.21" height="13.23" fill="#b9954f"/><rect x="181.37" y="323.21" width="13.21" height="13.23" fill="#2d7fb0"/><rect x="194.28" y="323.21" width="13.21" height="13.23" fill="#5a9dc2"/><rect x="207.19" y="323.21" width="13.21" height="13.23" fill="#c5dce4"/><rect x="91.00" y="336.14" width="26.12" height="13.23" fill="#b9954f"/><rect x="116.82" y="336.14" width="13.21" height="13.23" fill="#cfb07c"/><rect x="129.73" y="336.14" width="26.12" height="13.23" fill="#dfcdae"/><rect x="155.55" y="336.14" width="13.21" height="13.23" fill="#cfb07c"/><rect x="168.46" y="336.14" width="13.21" height="13.23" fill="#a47a2f"/><rect x="181.37" y="336.14" width="13.21" height="13.23" fill="#5c1a0f"/><rect x="194.28" y="336.14" width="13.21" height="13.23" fill="#79391c"/><rect x="207.19" y="336.14" width="13.21" height="13.23" fill="#dfcdae"/><rect x="91.00" y="349.07" width="13.21" height="13.23" fill="#cfb07c"/><rect x="103.91" y="349.07" width="13.21" height="13.23" fill="#b9954f"/><rect x="116.82" y="349.07" width="26.12" height="13.23" fill="#cfb07c"/><rect x="142.64" y="349.07" width="26.12" height="13.23" fill="#c5dce4"/><rect x="168.46" y="349.07" width="13.21" height="13.23" fill="#e9e6da"/><rect x="181.37" y="349.07" width="26.12" height="13.23" fill="#cfb07c"/><rect x="207.19" y="349.07" width="13.21" height="13.23" fill="#b9954f"/>
<path d="M98.3 223.8L111.7 191.5L123.6 187.2L136.5 210.3L149.3 208.9L162.2 212.9L174.0 217.2L186.9 223.2L199.7 219.6L213.2 221.6L213.2 223.8Z" fill="#f0b96b"/>
<path d="M227.8 238.6L267.4 238.6L270.9 250.9L255.1 264.3L262.6 276.6L238.3 290.0L241.7 303.3L242.3 317.1L253.1 329.6L228.4 341.8L236.3 355.3L227.8 355.3Z" fill="#c49bc9"/>
<path d="M81.5 187.2H89.4V223.8H81.5M227.8 370.5V362.6H270.9V370.5" fill="none" stroke="#666" stroke-width="1.3"/>
<text x="76.4" y="193.5" font-size="19.6" text-anchor="end" textLength="23.2" lengthAdjust="spacingAndGlyphs">31</text>
<text x="76.4" y="229.1" font-size="19.6" text-anchor="end" textLength="25.8" lengthAdjust="spacingAndGlyphs">−5</text>
<text x="106.5" y="391.3" font-size="20.6" textLength="97.6" lengthAdjust="spacingAndGlyphs">Humidity</text>
<text x="208.7" y="391.3" font-size="19.6" textLength="38.7" lengthAdjust="spacingAndGlyphs">−73</text>
<text x="256.7" y="391.3" font-size="19.6" textLength="28.3" lengthAdjust="spacingAndGlyphs">86</text>
<text x="78.0" y="316.5" font-size="20.6" textLength="38.3" lengthAdjust="spacingAndGlyphs" transform="rotate(-90 78.0 316.5)">HDI</text>
<rect x="93.10" y="662.50" width="13.53" height="13.51" fill="#1a639d"/><rect x="106.33" y="662.50" width="26.76" height="13.51" fill="#2d7fb0"/><rect x="132.79" y="662.50" width="13.53" height="13.51" fill="#5a9dc2"/><rect x="146.02" y="662.50" width="13.53" height="13.51" fill="#93bfd5"/><rect x="159.25" y="662.50" width="13.53" height="13.51" fill="#c5dce4"/><rect x="172.48" y="662.50" width="26.76" height="13.51" fill="#93bfd5"/><rect x="198.94" y="662.50" width="13.53" height="13.51" fill="#2d7fb0"/><rect x="212.17" y="662.50" width="13.53" height="13.51" fill="#93bfd5"/><rect x="93.10" y="675.71" width="13.53" height="13.51" fill="#21478a"/><rect x="106.33" y="675.71" width="13.53" height="13.51" fill="#232663"/><rect x="119.56" y="675.71" width="13.53" height="13.51" fill="#1a639d"/><rect x="132.79" y="675.71" width="13.53" height="13.51" fill="#93bfd5"/><rect x="146.02" y="675.71" width="13.53" height="13.51" fill="#c5dce4"/><rect x="159.25" y="675.71" width="26.76" height="13.51" fill="#5a9dc2"/><rect x="185.71" y="675.71" width="13.53" height="13.51" fill="#cfb07c"/><rect x="198.94" y="675.71" width="13.53" height="13.51" fill="#b9954f"/><rect x="212.17" y="675.71" width="13.53" height="13.51" fill="#cfb07c"/><rect x="93.10" y="688.92" width="13.53" height="13.51" fill="#5a9dc2"/><rect x="106.33" y="688.92" width="13.53" height="13.51" fill="#b9954f"/><rect x="119.56" y="688.92" width="13.53" height="13.51" fill="#c5dce4"/><rect x="132.79" y="688.92" width="13.53" height="13.51" fill="#dfcdae"/><rect x="146.02" y="688.92" width="13.53" height="13.51" fill="#e9e6da"/><rect x="159.25" y="688.92" width="13.53" height="13.51" fill="#cfb07c"/><rect x="172.48" y="688.92" width="13.53" height="13.51" fill="#b9954f"/><rect x="185.71" y="688.92" width="26.76" height="13.51" fill="#cfb07c"/><rect x="212.17" y="688.92" width="13.53" height="13.51" fill="#e9e6da"/><rect x="93.10" y="702.13" width="13.53" height="13.51" fill="#dfcdae"/><rect x="106.33" y="702.13" width="13.53" height="13.51" fill="#5c1a0f"/><rect x="119.56" y="702.13" width="13.53" height="13.51" fill="#8c5426"/><rect x="132.79" y="702.13" width="13.53" height="13.51" fill="#5c1a0f"/><rect x="146.02" y="702.13" width="13.53" height="13.51" fill="#a47a2f"/><rect x="159.25" y="702.13" width="13.53" height="13.51" fill="#93bfd5"/><rect x="172.48" y="702.13" width="26.76" height="13.51" fill="#5a9dc2"/><rect x="198.94" y="702.13" width="13.53" height="13.51" fill="#262f70"/><rect x="212.17" y="702.13" width="13.53" height="13.51" fill="#1a639d"/><rect x="93.10" y="715.34" width="13.53" height="13.51" fill="#93bfd5"/><rect x="106.33" y="715.34" width="39.99" height="13.51" fill="#c5dce4"/><rect x="146.02" y="715.34" width="13.53" height="13.51" fill="#93bfd5"/><rect x="159.25" y="715.34" width="13.53" height="13.51" fill="#dfcdae"/><rect x="172.48" y="715.34" width="13.53" height="13.51" fill="#79391c"/><rect x="185.71" y="715.34" width="13.53" height="13.51" fill="#5c1a0f"/><rect x="198.94" y="715.34" width="13.53" height="13.51" fill="#a47a2f"/><rect x="212.17" y="715.34" width="13.53" height="13.51" fill="#c5dce4"/><rect x="93.10" y="728.55" width="13.53" height="13.51" fill="#e9e6da"/><rect x="106.33" y="728.55" width="13.53" height="13.51" fill="#dfcdae"/><rect x="119.56" y="728.55" width="13.53" height="13.51" fill="#8c5426"/><rect x="132.79" y="728.55" width="13.53" height="13.51" fill="#5c1a0f"/><rect x="146.02" y="728.55" width="39.99" height="13.51" fill="#a47a2f"/><rect x="185.71" y="728.55" width="13.53" height="13.51" fill="#b9954f"/><rect x="198.94" y="728.55" width="13.53" height="13.51" fill="#cfb07c"/><rect x="212.17" y="728.55" width="13.53" height="13.51" fill="#dfcdae"/><rect x="93.10" y="741.76" width="13.53" height="13.51" fill="#e9e6da"/><rect x="106.33" y="741.76" width="13.53" height="13.51" fill="#5a9dc2"/><rect x="119.56" y="741.76" width="39.99" height="13.51" fill="#93bfd5"/><rect x="159.25" y="741.76" width="13.53" height="13.51" fill="#c5dce4"/><rect x="172.48" y="741.76" width="13.53" height="13.51" fill="#e9e6da"/><rect x="185.71" y="741.76" width="13.53" height="13.51" fill="#b9954f"/><rect x="198.94" y="741.76" width="13.53" height="13.51" fill="#5c1a0f"/><rect x="212.17" y="741.76" width="13.53" height="13.51" fill="#5a9dc2"/><rect x="93.10" y="754.97" width="39.99" height="13.51" fill="#dfcdae"/><rect x="132.79" y="754.97" width="13.53" height="13.51" fill="#e9e6da"/><rect x="146.02" y="754.97" width="13.53" height="13.51" fill="#c5dce4"/><rect x="159.25" y="754.97" width="13.53" height="13.51" fill="#cfb07c"/><rect x="172.48" y="754.97" width="13.53" height="13.51" fill="#79391c"/><rect x="185.71" y="754.97" width="13.53" height="13.51" fill="#5c1a0f"/><rect x="198.94" y="754.97" width="13.53" height="13.51" fill="#79391c"/><rect x="212.17" y="754.97" width="13.53" height="13.51" fill="#c5dce4"/><rect x="93.10" y="768.18" width="13.53" height="13.51" fill="#c5dce4"/><rect x="106.33" y="768.18" width="13.53" height="13.51" fill="#5a9dc2"/><rect x="119.56" y="768.18" width="13.53" height="13.51" fill="#c5dce4"/><rect x="132.79" y="768.18" width="26.76" height="13.51" fill="#cfb07c"/><rect x="159.25" y="768.18" width="13.53" height="13.51" fill="#b9954f"/><rect x="172.48" y="768.18" width="13.53" height="13.51" fill="#cfb07c"/><rect x="185.71" y="768.18" width="26.76" height="13.51" fill="#dfcdae"/><rect x="212.17" y="768.18" width="13.53" height="13.51" fill="#79391c"/><rect x="93.10" y="781.39" width="13.53" height="13.51" fill="#93bfd5"/><rect x="106.33" y="781.39" width="26.76" height="13.51" fill="#b9954f"/><rect x="132.79" y="781.39" width="13.53" height="13.51" fill="#dfcdae"/><rect x="146.02" y="781.39" width="13.53" height="13.51" fill="#c5dce4"/><rect x="159.25" y="781.39" width="13.53" height="13.51" fill="#5a9dc2"/><rect x="172.48" y="781.39" width="13.53" height="13.51" fill="#c5dce4"/><rect x="185.71" y="781.39" width="13.53" height="13.51" fill="#dfcdae"/><rect x="198.94" y="781.39" width="13.53" height="13.51" fill="#b9954f"/><rect x="212.17" y="781.39" width="13.53" height="13.51" fill="#cfb07c"/>
<path d="M98.9 654.2L98.9 616.2L112.7 629.4L125.6 634.4L138.4 643.3L152.3 636.0L165.1 635.0L178.0 645.3L191.8 654.2L205.7 651.6L218.9 633.4L218.9 654.2Z" fill="#f0b96b"/>
<path d="M230.4 669.4L272.5 669.4L267.0 681.8L246.2 694.7L249.2 708.5L245.2 721.4L231.8 735.2L254.1 748.5L233.4 760.9L242.3 774.8L247.2 787.6L230.4 787.6Z" fill="#c49bc9"/>
<path d="M86 616.6H92.2V653.6H86M231.4 801.5V795.2H271.5V801.5" fill="none" stroke="#666" stroke-width="1.3"/>
<text x="77.4" y="621.5" font-size="19.6" text-anchor="end" textLength="28.0" lengthAdjust="spacingAndGlyphs">24</text>
<text x="77.4" y="658.1" font-size="19.6" text-anchor="end" textLength="35.1" lengthAdjust="spacingAndGlyphs">−51</text>
<text x="110.4" y="827.2" font-size="20.6" textLength="96.7" lengthAdjust="spacingAndGlyphs">Humidity</text>
<text x="211.3" y="823.6" font-size="19.6" textLength="37.1" lengthAdjust="spacingAndGlyphs">−76</text>
<text x="257.4" y="823.6" font-size="19.6" textLength="26.2" lengthAdjust="spacingAndGlyphs">52</text>
<text x="78.0" y="747.5" font-size="20.6" textLength="38.3" lengthAdjust="spacingAndGlyphs" transform="rotate(-90 78.0 747.5)">HDI</text>
<rect x="888.00" y="231.90" width="131.20" height="13.39" fill="#b8d4ee"/><rect x="888.00" y="244.99" width="131.20" height="13.39" fill="#b8d4ee"/><rect x="888.00" y="258.08" width="52.66" height="13.39" fill="#b8d4ee"/><rect x="940.36" y="258.08" width="13.39" height="13.39" fill="#d4728a"/><rect x="953.45" y="258.08" width="39.57" height="13.39" fill="#b8d4ee"/><rect x="992.72" y="258.08" width="26.48" height="13.39" fill="#d4728a"/><rect x="888.00" y="271.17" width="13.39" height="13.39" fill="#d4728a"/><rect x="901.09" y="271.17" width="13.39" height="13.39" fill="#b8d4ee"/><rect x="914.18" y="271.17" width="13.39" height="13.39" fill="#d4728a"/><rect x="927.27" y="271.17" width="91.93" height="13.39" fill="#b8d4ee"/><rect x="888.00" y="284.26" width="131.20" height="13.39" fill="#d4728a"/><rect x="888.00" y="297.35" width="13.39" height="13.39" fill="#d4728a"/><rect x="901.09" y="297.35" width="13.39" height="13.39" fill="#b8d4ee"/><rect x="914.18" y="297.35" width="78.84" height="13.39" fill="#d4728a"/><rect x="992.72" y="297.35" width="13.39" height="13.39" fill="#b8d4ee"/><rect x="1005.81" y="297.35" width="13.39" height="13.39" fill="#d4728a"/><rect x="888.00" y="310.44" width="39.57" height="13.39" fill="#d4728a"/><rect x="927.27" y="310.44" width="26.48" height="13.39" fill="#b8d4ee"/><rect x="953.45" y="310.44" width="52.66" height="13.39" fill="#d4728a"/><rect x="1005.81" y="310.44" width="13.39" height="13.39" fill="#b8d4ee"/><rect x="888.00" y="323.53" width="13.39" height="13.39" fill="#d4728a"/><rect x="901.09" y="323.53" width="52.66" height="13.39" fill="#b8d4ee"/><rect x="953.45" y="323.53" width="26.48" height="13.39" fill="#d4728a"/><rect x="979.63" y="323.53" width="39.57" height="13.39" fill="#b8d4ee"/><rect x="888.00" y="336.62" width="131.20" height="13.39" fill="#d4728a"/><rect x="888.00" y="349.71" width="52.66" height="13.39" fill="#d4728a"/><rect x="940.36" y="349.71" width="26.48" height="13.39" fill="#b8d4ee"/><rect x="966.54" y="349.71" width="52.66" height="13.39" fill="#d4728a"/>
<text x="912.0" y="391.5" font-size="20.6" textLength="97.8" lengthAdjust="spacingAndGlyphs">Humidity</text>
<text x="873.6" y="314.2" font-size="20.6" textLength="38.3" lengthAdjust="spacingAndGlyphs" transform="rotate(-90 873.6 314.2)">HDI</text>
<rect x="886.90" y="662.20" width="27.02" height="13.65" fill="#4166b0"/><rect x="913.62" y="662.20" width="107.18" height="13.65" fill="#7f9ccb"/><rect x="886.90" y="675.55" width="13.66" height="13.65" fill="#b8d4ee"/><rect x="900.26" y="675.55" width="80.46" height="13.65" fill="#7f9ccb"/><rect x="980.42" y="675.55" width="40.38" height="13.65" fill="#f8c3d3"/><rect x="886.90" y="688.90" width="13.66" height="13.65" fill="#7f9ccb"/><rect x="900.26" y="688.90" width="13.66" height="13.65" fill="#cb2a49"/><rect x="913.62" y="688.90" width="13.66" height="13.65" fill="#7f9ccb"/><rect x="926.98" y="688.90" width="93.82" height="13.65" fill="#f8c3d3"/><rect x="886.90" y="702.25" width="13.66" height="13.65" fill="#dc829a"/><rect x="900.26" y="702.25" width="13.66" height="13.65" fill="#cb2a49"/><rect x="913.62" y="702.25" width="40.38" height="13.65" fill="#f8c3d3"/><rect x="953.70" y="702.25" width="53.74" height="13.65" fill="#7f9ccb"/><rect x="1007.14" y="702.25" width="13.66" height="13.65" fill="#b8d4ee"/><rect x="886.90" y="715.60" width="13.66" height="13.65" fill="#b8d4ee"/><rect x="900.26" y="715.60" width="53.74" height="13.65" fill="#7f9ccb"/><rect x="953.70" y="715.60" width="40.38" height="13.65" fill="#f8c3d3"/><rect x="993.78" y="715.60" width="13.66" height="13.65" fill="#dc829a"/><rect x="1007.14" y="715.60" width="13.66" height="13.65" fill="#b8d4ee"/><rect x="886.90" y="728.95" width="13.66" height="13.65" fill="#dc829a"/><rect x="900.26" y="728.95" width="93.82" height="13.65" fill="#f8c3d3"/><rect x="993.78" y="728.95" width="27.02" height="13.65" fill="#dc829a"/><rect x="886.90" y="742.30" width="13.66" height="13.65" fill="#dc829a"/><rect x="900.26" y="742.30" width="67.10" height="13.65" fill="#b8d4ee"/><rect x="967.06" y="742.30" width="13.66" height="13.65" fill="#dc829a"/><rect x="980.42" y="742.30" width="27.02" height="13.65" fill="#f8c3d3"/><rect x="1007.14" y="742.30" width="13.66" height="13.65" fill="#b8d4ee"/><rect x="886.90" y="755.65" width="53.74" height="13.65" fill="#dc829a"/><rect x="940.34" y="755.65" width="13.66" height="13.65" fill="#b8d4ee"/><rect x="953.70" y="755.65" width="13.66" height="13.65" fill="#dc829a"/><rect x="967.06" y="755.65" width="40.38" height="13.65" fill="#cb2a49"/><rect x="1007.14" y="755.65" width="13.66" height="13.65" fill="#b8d4ee"/><rect x="886.90" y="769.00" width="40.38" height="13.65" fill="#b8d4ee"/><rect x="926.98" y="769.00" width="93.82" height="13.65" fill="#dc829a"/><rect x="886.90" y="782.35" width="13.66" height="13.65" fill="#b8d4ee"/><rect x="900.26" y="782.35" width="40.38" height="13.65" fill="#dc829a"/><rect x="940.34" y="782.35" width="40.38" height="13.65" fill="#b8d4ee"/><rect x="980.42" y="782.35" width="40.38" height="13.65" fill="#dc829a"/>
<text x="912.0" y="827.9" font-size="20.6" textLength="97.8" lengthAdjust="spacingAndGlyphs">Humidity</text>
<text x="873.6" y="748.2" font-size="20.6" textLength="38.3" lengthAdjust="spacingAndGlyphs" transform="rotate(-90 873.6 748.2)">HDI</text>
<text x="70.1" y="895.2" font-size="28.6" textLength="537.1" lengthAdjust="spacingAndGlyphs">Net migration in each socioclimatic bin</text>
<text x="70.1" y="929.6" font-size="28.6" textLength="449.6" lengthAdjust="spacingAndGlyphs">(per 1,000 people over 20 years)</text>
<rect x="70.50" y="958.5" width="23.60" height="22.3" fill="#5c1a0f"/>
<rect x="93.70" y="958.5" width="23.60" height="22.3" fill="#6b2a15"/>
<rect x="116.91" y="958.5" width="23.60" height="22.3" fill="#79391c"/>
<rect x="140.11" y="958.5" width="23.60" height="22.3" fill="#7f4320"/>
<rect x="163.31" y="958.5" width="23.60" height="22.3" fill="#8c5426"/>
<rect x="186.52" y="958.5" width="23.60" height="22.3" fill="#96652a"/>
<rect x="209.72" y="958.5" width="23.60" height="22.3" fill="#a47a2f"/>
<rect x="232.92" y="958.5" width="23.60" height="22.3" fill="#b08a3e"/>
<rect x="256.13" y="958.5" width="23.60" height="22.3" fill="#b9954f"/>
<rect x="279.33" y="958.5" width="23.60" height="22.3" fill="#c6a265"/>
<rect x="302.53" y="958.5" width="23.60" height="22.3" fill="#cfb07c"/>
<rect x="325.74" y="958.5" width="23.60" height="22.3" fill="#d8bf94"/>
<rect x="348.94" y="958.5" width="23.60" height="22.3" fill="#dfcdae"/>
<rect x="372.14" y="958.5" width="23.60" height="22.3" fill="#e5dcc8"/>
<rect x="395.35" y="958.5" width="23.60" height="22.3" fill="#e9e6da"/>
<rect x="418.55" y="958.5" width="23.60" height="22.3" fill="#dce8e9"/>
<rect x="441.75" y="958.5" width="23.60" height="22.3" fill="#c5dce4"/>
<rect x="464.96" y="958.5" width="23.60" height="22.3" fill="#a9cedd"/>
<rect x="488.16" y="958.5" width="23.60" height="22.3" fill="#93bfd5"/>
<rect x="511.36" y="958.5" width="23.60" height="22.3" fill="#77aec9"/>
<rect x="534.57" y="958.5" width="23.60" height="22.3" fill="#5a9dc2"/>
<rect x="557.77" y="958.5" width="23.60" height="22.3" fill="#4090ba"/>
<rect x="580.97" y="958.5" width="23.60" height="22.3" fill="#2d7fb0"/>
<rect x="604.18" y="958.5" width="23.60" height="22.3" fill="#2270a7"/>
<rect x="627.38" y="958.5" width="23.60" height="22.3" fill="#1a639d"/>
<rect x="650.58" y="958.5" width="23.60" height="22.3" fill="#125593"/>
<rect x="673.79" y="958.5" width="23.60" height="22.3" fill="#21478a"/>
<rect x="696.99" y="958.5" width="23.60" height="22.3" fill="#25397c"/>
<rect x="720.19" y="958.5" width="23.60" height="22.3" fill="#262f70"/>
<rect x="743.40" y="958.5" width="23.60" height="22.3" fill="#232663"/>
<path d="M105.7 981V991.5M152.1 981V991.5M198.5 981V991.5M244.9 981V991.5M291.3 981V991.5M337.7 981V991.5M384.1 981V991.5M430.5 981V991.5M476.9 981V991.5M523.3 981V991.5M569.7 981V991.5M616.1 981V991.5M662.5 981V991.5M708.9 981V991.5M755.3 981V991.5" stroke="#666" stroke-width="1.3" fill="none"/>
<text x="113.4" y="1015.2" font-size="22.3" text-anchor="end" transform="rotate(-45 113.4 1015.2)">−140</text>
<text x="159.8" y="1015.2" font-size="22.3" text-anchor="end" transform="rotate(-45 159.8 1015.2)">−120</text>
<text x="206.2" y="1015.2" font-size="22.3" text-anchor="end" transform="rotate(-45 206.2 1015.2)">−100</text>
<text x="252.6" y="1015.2" font-size="22.3" text-anchor="end" transform="rotate(-45 252.6 1015.2)">−80</text>
<text x="299.0" y="1015.2" font-size="22.3" text-anchor="end" transform="rotate(-45 299.0 1015.2)">−60</text>
<text x="345.4" y="1015.2" font-size="22.3" text-anchor="end" transform="rotate(-45 345.4 1015.2)">−40</text>
<text x="391.8" y="1015.2" font-size="22.3" text-anchor="end" transform="rotate(-45 391.8 1015.2)">−20</text>
<text x="438.2" y="1015.2" font-size="22.3" text-anchor="end" transform="rotate(-45 438.2 1015.2)">0</text>
<text x="484.6" y="1015.2" font-size="22.3" text-anchor="end" transform="rotate(-45 484.6 1015.2)">20</text>
<text x="531.0" y="1015.2" font-size="22.3" text-anchor="end" transform="rotate(-45 531.0 1015.2)">40</text>
<text x="577.4" y="1015.2" font-size="22.3" text-anchor="end" transform="rotate(-45 577.4 1015.2)">60</text>
<text x="623.8" y="1015.2" font-size="22.3" text-anchor="end" transform="rotate(-45 623.8 1015.2)">80</text>
<text x="670.2" y="1015.2" font-size="22.3" text-anchor="end" transform="rotate(-45 670.2 1015.2)">100</text>
<text x="716.6" y="1015.2" font-size="22.3" text-anchor="end" transform="rotate(-45 716.6 1015.2)">120</text>
<text x="763.0" y="1015.2" font-size="22.3" text-anchor="end" transform="rotate(-45 763.0 1015.2)">140</text>
<path d="M71 1056.5V1068.8H428.4V1056.5M431.8 1056.5V1068.8H766.7V1056.5" fill="none" stroke="#666" stroke-width="1.3"/>
<text x="136.9" y="1094.8" font-size="21.3" textLength="247.7" lengthAdjust="spacingAndGlyphs">Net-negative migration</text>
<text x="489.9" y="1094.8" font-size="21.3" textLength="239.8" lengthAdjust="spacingAndGlyphs">Net-positive migration</text>
<text x="256.4" y="1139.3" font-size="21.3" textLength="487.1" lengthAdjust="spacingAndGlyphs">100 bins, each having 1% of world population</text>
<path d="M112.8 1160.5V1280.5M112.8 1160.5H232.8M124.8 1160.5V1280.5M112.8 1172.5H232.8M136.8 1160.5V1280.5M112.8 1184.5H232.8M148.8 1160.5V1280.5M112.8 1196.5H232.8M160.8 1160.5V1280.5M112.8 1208.5H232.8M172.8 1160.5V1280.5M112.8 1220.5H232.8M184.8 1160.5V1280.5M112.8 1232.5H232.8M196.8 1160.5V1280.5M112.8 1244.5H232.8M208.8 1160.5V1280.5M112.8 1256.5H232.8M220.8 1160.5V1280.5M112.8 1268.5H232.8M232.8 1160.5V1280.5M112.8 1280.5H232.8" stroke="#333" stroke-width="0.9" fill="none"/>
<path d="M95.8 1162V1298.1H223" stroke="#3d5068" stroke-width="2.1" fill="none"/>
<path d="M95.8 1152.6L90.6 1166L95.8 1162.8L101 1166ZM232.2 1298.1L218.8 1292.9L222 1298.1L218.8 1303.3Z" fill="#3d5068"/>
<path d="M244.2 1166.6L299.7 1166.6L280.3 1179.5L280.7 1190.5L265.2 1203.1L273.6 1215.7L276.1 1227.5L256.8 1240.1L245.0 1251.8L247.5 1263.6L270.2 1277.1L244.2 1277.1Z" fill="#c8c9cb"/>
<path d="M243.8 1280.4V1288.8H298.8V1280.4" fill="none" stroke="#666" stroke-width="1.3"/>
<path d="M223.1 1166.1L246.5 1136.9M293.2 1208.2L322.7 1204.7M328.6 1291.7L348.3 1286.8" stroke="#444" stroke-width="0.9" fill="none"/>
<text x="229.6" y="1313.2" font-size="17.6" textLength="34.3" lengthAdjust="spacingAndGlyphs">−50</text>
<text x="288.5" y="1313.2" font-size="17.6" textLength="21.3" lengthAdjust="spacingAndGlyphs">10</text>
<text x="99.8" y="1328.1" font-size="17.6" textLength="30.0" lengthAdjust="spacingAndGlyphs">Dry</text>
<text x="194.8" y="1328.1" font-size="17.6" textLength="34.6" lengthAdjust="spacingAndGlyphs">Wet</text>
<text x="93.9" y="1358.0" font-size="21.3" textLength="204.6" lengthAdjust="spacingAndGlyphs">Humidity increases</text>
<text x="80.8" y="1295.3" font-size="21.3" textLength="144.9" lengthAdjust="spacingAndGlyphs" transform="rotate(-90 80.8 1295.3)">HDI increases</text>
<text x="328.7" y="1184.6" font-size="21.3" textLength="327.3" lengthAdjust="spacingAndGlyphs">Mean net migration (per 1,000</text>
<text x="328.7" y="1212.1" font-size="21.3" textLength="365.6" lengthAdjust="spacingAndGlyphs">population) across rows (HDI) and</text>
<text x="328.7" y="1239.1" font-size="21.3" textLength="182.2" lengthAdjust="spacingAndGlyphs">columns (aridity)</text>
<text x="351.8" y="1288.3" font-size="21.3" textLength="314.0" lengthAdjust="spacingAndGlyphs">Range of mean net migration</text>
<text x="807.7" y="895.0" font-size="28.6" textLength="666.3" lengthAdjust="spacingAndGlyphs">Impact of migration on rural/urban population in</text>
<text x="807.7" y="929.2" font-size="28.6" textLength="309.3" lengthAdjust="spacingAndGlyphs">each socioclimatic bin</text>
<rect x="811" y="956.6" width="735" height="119.3" fill="#e3e8f2"/><rect x="811" y="1115.5" width="735" height="116.9" fill="#fbf2f4"/>
<rect x="1018.4" y="971.3" width="27.4" height="26.9" fill="#4166b0"/>
<text x="1056.6" y="991.8" font-size="21.3" textLength="483.9" lengthAdjust="spacingAndGlyphs">Migration turns population decline to growth</text>
<rect x="1018.4" y="1005.5" width="27.4" height="27.9" fill="#7592c4"/>
<text x="1056.6" y="1026.0" font-size="21.3" textLength="379.3" lengthAdjust="spacingAndGlyphs">Migration slows population decline</text>
<rect x="1018.4" y="1041.7" width="27.4" height="27.3" fill="#b8d4ee"/>
<text x="1056.6" y="1061.7" font-size="21.3" textLength="416.0" lengthAdjust="spacingAndGlyphs">Migration increases population growth</text>
<rect x="1018.4" y="1082.8" width="27.4" height="27.3" fill="#e6e8e8"/>
<text x="1056.6" y="1103.3" font-size="21.3" textLength="84.9" lengthAdjust="spacingAndGlyphs">No data</text>
<rect x="1018.4" y="1125.3" width="27.4" height="26.9" fill="#f8c3d3"/>
<text x="1056.6" y="1144.9" font-size="21.3" textLength="419.4" lengthAdjust="spacingAndGlyphs">Migration increases population decline</text>
<rect x="1018.4" y="1160.5" width="27.4" height="26.9" fill="#d4728a"/>
<text x="1056.6" y="1181.1" font-size="21.3" textLength="376.4" lengthAdjust="spacingAndGlyphs">Migration slows population growth</text>
<rect x="1018.4" y="1194.7" width="27.4" height="27.9" fill="#cb2a49"/>
<text x="1056.6" y="1215.8" font-size="21.3" textLength="484.4" lengthAdjust="spacingAndGlyphs">Migration turns population growth to decline</text>
<text x="828.7" y="1008.9" font-size="21.3" textLength="131.4" lengthAdjust="spacingAndGlyphs">Net-positive</text>
<text x="844.8" y="1035.8" font-size="21.3" textLength="105.5" lengthAdjust="spacingAndGlyphs">migration</text>
<text x="824.3" y="1164.4" font-size="21.3" textLength="139.7" lengthAdjust="spacingAndGlyphs">Net-negative</text>
<text x="844.8" y="1191.3" font-size="21.3" textLength="105.5" lengthAdjust="spacingAndGlyphs">migration</text>
<path d="M975.5 1069.4V981M975.5 1123V1211" stroke="#3d5068" stroke-width="4" fill="none"/>
<path d="M975.5 969L968.5 986.5L975.5 982L982.5 986.5ZM975.5 1223.3L968.5 1205.8L975.5 1210.3L982.5 1205.8Z" fill="#3d5068"/>
<text x="1001.2" y="1169.2" font-size="21.3" textLength="183.7" lengthAdjust="spacingAndGlyphs" transform="rotate(-90 1001.2 1169.2)">Impact increases</text>
</g>
</svg></body></html>
